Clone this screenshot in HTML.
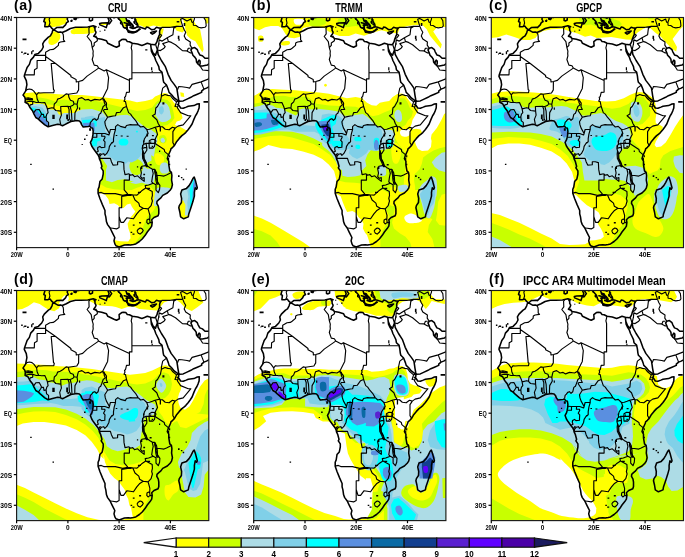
<!DOCTYPE html><html><head><meta charset="utf-8"><title>Precipitation climatology</title><style>html,body{margin:0;padding:0;background:#fff}svg{display:block}text{font-family:"Liberation Sans",sans-serif;fill:#000}.ax{font-size:8px;font-weight:bold}.ti{font-size:11.9px;font-weight:bold}.lab{font-size:14.2px;font-weight:bold;letter-spacing:0.5px}.cb{font-size:9.8px;font-weight:bold}</style></head><body>
<svg width="685" height="557" viewBox="0 0 685 557">
<rect width="685" height="557" fill="#fff"/>
<defs>
<clipPath id="cfa"><rect x="16.6" y="17.5" width="192.2" height="230.1"/></clipPath>
<clipPath id="cfb"><rect x="253.7" y="17.5" width="192.2" height="230.1"/></clipPath>
<clipPath id="cfc"><rect x="491.3" y="17.5" width="192.2" height="230.1"/></clipPath>
<clipPath id="cfd"><rect x="16.6" y="290.5" width="192.2" height="230.1"/></clipPath>
<clipPath id="cfe"><rect x="253.7" y="290.5" width="192.2" height="230.1"/></clipPath>
<clipPath id="cff"><rect x="491.3" y="290.5" width="192.2" height="230.1"/></clipPath>
<clipPath id="land"><path d="M52.7 30.4L54.3 30.1L57.9 32.2L60.4 31.9L62.2 32.5L66.3 30.7L70.4 28.5L75.5 27.3L80.9 27.3L87.8 27.0L93.2 25.8L96.0 26.7L94.2 27.3L95.0 28.5L95.0 30.4L96.0 32.2L95.5 33.8L93.7 36.2L96.0 37.1L97.3 38.4L101.7 39.3L106.5 40.8L107.8 43.3L110.4 44.5L114.0 46.3L116.5 47.3L119.4 45.7L119.1 41.7L121.7 39.6L123.5 39.3L125.8 39.6L127.3 41.4L129.4 41.7L132.4 43.3L137.6 43.9L141.9 45.4L144.5 44.5L147.3 43.3L150.6 44.2L151.1 48.2L151.4 51.2L152.9 54.3L154.5 56.8L155.8 60.5L157.3 63.5L158.8 66.6L159.3 69.7L161.9 72.1L162.7 75.8L163.2 80.1L163.7 82.2L166.5 85.0L168.3 89.6L169.1 92.4L171.6 94.8L174.2 97.9L177.5 100.3L178.8 101.9L178.6 104.0L177.3 104.6L178.8 105.2L180.6 108.0L183.2 108.3L186.2 107.1L188.3 106.2L193.9 105.6L197.3 104.0L199.3 103.7L199.1 108.0L198.0 111.1L196.8 113.8L195.5 115.7L193.9 119.4L192.1 124.0L190.1 127.0L188.3 129.5L185.7 132.6L183.9 134.1L181.9 135.6L179.3 138.4L176.8 141.4L174.5 145.4L172.7 147.3L170.9 148.8L170.6 150.3L169.6 152.5L168.1 155.9L167.3 158.6L168.8 161.1L168.8 164.8L169.3 167.8L169.8 170.9L171.4 172.4L171.9 175.5L171.6 180.1L172.4 184.7L171.6 188.1L170.1 190.2L167.3 193.0L162.7 195.4L160.9 197.9L158.8 199.7L157.0 201.3L156.8 203.4L158.3 206.2L158.8 209.2L158.8 213.5L158.1 215.7L154.0 217.5L151.7 219.7L152.2 222.4L151.7 226.1L150.1 228.6L147.3 232.0L145.2 235.3L142.2 239.0L139.4 241.5L135.8 243.9L133.5 244.5L130.6 245.1L128.1 244.8L124.5 245.1L119.1 247.0L116.0 245.8L115.0 244.2L114.0 240.9L114.8 237.5L112.2 232.3L110.1 228.0L107.6 224.6L106.5 221.8L105.8 216.9L105.0 213.9L105.0 210.5L102.4 204.6L99.9 198.5L98.1 193.3L98.1 189.3L99.1 186.9L99.9 181.6L102.2 178.9L103.2 174.0L103.2 170.9L101.2 167.8L101.9 166.3L100.7 161.7L99.4 158.9L99.1 157.1L98.1 154.9L96.0 152.2L93.5 148.8L91.7 146.0L90.4 142.4L91.9 139.6L92.5 137.2L93.0 134.4L93.0 133.2L93.2 131.3L92.7 128.3L90.9 127.6L89.6 126.1L88.4 126.4L85.8 126.7L83.2 127.0L81.7 124.9L80.7 122.4L79.4 120.9L76.6 120.6L74.0 120.9L70.9 121.5L67.3 123.3L64.8 124.6L62.5 125.8L59.9 124.6L57.6 124.3L52.5 125.5L48.1 126.7L44.8 124.9L40.2 120.9L38.4 119.1L35.8 117.5L34.0 114.1L32.7 111.1L30.7 108.6L29.4 106.5L27.9 103.7L25.1 102.2L25.3 99.1L24.8 97.3L23.0 95.1L25.6 91.1L26.9 84.7L26.3 80.7L24.3 76.4L24.5 74.9L25.6 71.8L27.1 67.5L29.4 64.4L30.7 60.1L33.5 57.1L34.8 54.6L38.4 53.4L41.7 50.0L43.3 47.0L42.7 43.9L44.3 41.1L48.4 37.1L50.4 35.9L52.0 32.8L52.7 30.4ZM194.2 177.0L195.7 181.6L197.3 187.8L196.5 189.3L195.2 187.8L194.4 192.4L194.4 196.1L192.9 201.6L190.9 207.7L188.8 213.9L188.3 216.9L183.7 218.8L180.6 216.9L179.8 212.0L178.8 207.7L179.3 205.6L181.4 202.5L181.6 198.5L180.6 193.9L181.9 189.9L186.5 188.4L189.1 185.6L190.9 182.6L192.9 178.6L194.2 177.0ZM150.6 44.2L154.5 44.8L155.8 43.9L157.0 41.7L157.5 39.6L158.8 36.2L159.6 34.7L159.6 31.3L160.6 27.9L158.8 27.9L156.5 27.3L154.5 29.2L151.9 29.8L148.6 27.6L146.5 27.0L145.5 28.9L142.4 27.9L140.4 27.3L138.1 26.7L137.6 24.2L136.5 22.4L135.5 20.6L135.0 19.0L135.0 17.5L135.0 12.9L211.4 12.9L211.4 58.0L208.8 58.3L205.0 58.3L202.4 55.8L199.8 54.9L198.0 51.6L197.3 49.7L194.7 47.6L192.1 48.2L190.9 50.0L192.1 52.8L192.9 55.2L195.0 57.4L196.2 59.2L196.5 62.0L198.0 64.1L198.0 62.0L199.1 60.1L200.1 61.1L200.1 63.8L199.3 65.1L200.1 66.0L202.4 66.0L207.3 65.1L211.4 61.7L211.4 85.6L208.8 86.8L206.5 88.1L203.9 89.1L201.6 91.1L201.6 92.4L197.3 94.2L193.7 95.7L190.9 97.3L187.0 99.1L183.2 100.9L179.3 101.3L178.6 99.4L177.8 94.8L177.5 92.7L176.8 88.1L174.2 84.4L171.1 80.4L168.1 74.3L166.5 69.7L165.2 66.3L161.4 60.5L158.1 54.3L157.5 49.7L156.3 52.8L155.5 55.2L152.9 52.8L151.7 49.7L151.1 48.2ZM45.0 12.9L45.0 17.5L43.8 21.5L45.3 22.4L44.8 26.7L47.6 26.7L50.2 26.1L51.7 28.2L53.5 29.8L54.3 29.5L56.6 27.6L61.7 27.3L62.7 27.6L65.5 24.9L66.6 22.7L68.4 21.5L67.1 19.0L67.9 17.5L69.9 12.9ZM74.0 18.7L75.8 17.8L76.6 18.4L75.8 19.6L74.3 19.3ZM70.9 20.9L72.0 20.3L71.7 21.2ZM89.4 12.9L89.4 20.6L90.9 20.9L92.5 20.0L92.7 12.9ZM99.6 23.6L101.9 23.0L107.8 22.7L106.5 26.7L106.3 27.6L103.7 26.4L99.9 24.9ZM107.8 12.9L107.8 17.5L109.1 20.6L108.1 23.6L109.1 23.9L110.4 22.4L111.7 20.6L110.1 18.4L111.4 16.0L114.0 17.8L115.3 17.2L114.0 12.9ZM117.6 12.9L117.6 17.5L120.9 21.2L121.9 22.7L122.4 24.6L123.5 27.3L125.3 28.2L126.3 27.3L127.3 28.5L127.1 25.8L129.4 24.6L129.4 23.0L126.8 20.9L126.5 19.6L125.8 17.5L128.1 16.6L129.4 17.5L130.6 12.9ZM128.1 31.3L130.6 31.6L135.3 32.2L131.9 32.8L128.3 32.2ZM150.6 32.8L152.4 31.9L156.5 31.0L154.7 32.8L152.4 34.1Z"/></clipPath>
</defs>
<g clip-path="url(#cfa)">
<g clip-path="url(#land)"><path d="M19.0 93.4L23.7 93.2L35.4 92.2L47.0 93.2L58.7 94.3L70.4 94.9L82.1 94.9L92.0 96.1L130.0 100.5L137.0 102.3L145.2 101.1L152.2 99.3L155.1 96.4L159.2 94.7L163.9 92.9L167.4 93.5L170.3 97.0L173.2 101.7L176.1 105.2L179.1 108.7L181.4 113.4L182.6 118.0L180.2 120.4L176.7 121.5L175.0 125.0L181.4 127.4L186.1 130.3L195.4 128.5L215.0 130.0L215.0 250.0L10.0 250.0L10.0 93.0Z" fill="#ffff00"/><path d="M92.0 192.8L99.0 192.8L104.9 194.5L108.4 199.2L109.5 203.9L114.2 203.3L117.7 205.0L120.0 207.4L123.5 208.0L127.0 204.5L131.7 203.3L135.2 205.0L136.4 209.7L134.1 213.2L131.1 216.7L129.4 220.2L127.6 223.7L128.4 228.4L130.0 233.1L130.5 238.3L128.2 241.5L120.0 241.2L114.2 240.1L92.0 240.1Z" fill="#ffffff"/><path d="M44.0 17.1L67.4 17.1L65.6 23.4L59.3 26.0L53.9 26.9L46.7 26.9L44.0 22.5Z" fill="#ffff00"/><path d="M52.1 31.4C53.7 30.8 57.9 32.2 59.3 33.2C60.6 34.3 60.5 36.2 60.2 37.7C59.9 39.2 58.8 41.0 57.5 42.2C56.1 43.4 53.6 44.8 52.1 44.9C50.6 45.1 48.9 44.5 48.5 43.1C48.1 41.8 48.8 38.8 49.4 36.8C50.0 34.9 50.4 32.0 52.1 31.4Z" fill="#ffff00"/><path d="M71.0 30.5C71.9 29.5 74.7 28.4 77.2 27.8C79.8 27.2 83.5 27.1 86.2 26.9C88.9 26.8 92.1 26.0 93.4 26.9C94.8 27.8 95.5 31.2 94.3 32.3C93.1 33.5 89.1 33.5 86.2 33.8C83.4 34.1 79.6 34.1 77.2 34.1C74.8 34.1 72.9 34.4 71.9 33.8C70.8 33.2 70.1 31.5 71.0 30.5Z" fill="#ffff00"/><path d="M100.0 19.8L107.2 19.8L107.2 25.1L100.0 25.1Z" fill="#ffff00"/><path d="M118.3 17.3L181.4 17.3L181.4 24.8L174.4 27.2L165.0 27.2L159.2 26.6L153.4 25.4L145.2 27.8L140.5 25.4L137.0 26.0L132.3 28.4L125.3 27.2L118.3 23.7Z" fill="#ffff00"/><path d="M119.5 17.3L125.3 17.3L126.5 21.3L123.0 24.8L118.9 22.5Z" fill="#c8ff00"/><path d="M159.8 28.4L163.9 28.4L162.1 35.4L159.2 40.0L158.0 37.7Z" fill="#ffff00"/><path d="M174.4 27.8L181.4 25.4L184.9 29.5L182.6 32.4L176.7 30.7Z" fill="#ffff00"/><path d="M182.6 17.3L191.9 17.3L195.4 23.7L200.1 29.5L202.4 41.2L203.6 49.4L202.4 52.3L198.9 47.0L195.4 41.2L190.7 38.9L187.2 35.4L185.5 29.5L184.3 23.7Z" fill="#ffff00"/><path d="M204.7 17.3L210.6 17.3L210.6 22.5L205.9 23.7Z" fill="#ffff00"/><path d="M180.2 92.3L183.7 92.9L184.3 97.0L180.8 96.4Z" fill="#ffff00"/><path d="M24.8 100.8L35.4 100.2L38.3 97.3L47.0 98.8L51.7 100.2L55.2 101.4L58.7 100.2L64.6 99.6L72.7 101.4L77.4 100.2L82.1 99.6L92.0 99.9L130.0 109.3L137.0 111.0L145.2 109.9L152.2 107.5L155.1 103.4L157.4 101.1L161.5 98.8L167.4 99.9L170.3 102.8L172.6 108.7L173.8 113.4L174.4 118.0L172.0 121.5L167.4 125.0L161.5 126.2L156.9 126.8L156.3 128.5L158.0 134.4L157.4 139.1L156.9 144.9L159.2 148.4L165.0 153.1L168.5 153.5L170.9 161.7L170.9 173.4L173.2 180.4L172.0 188.5L168.5 196.7L162.7 201.4L159.2 204.0L158.0 213.4L153.4 219.2L152.2 225.0L149.9 234.4L141.7 242.6L134.7 247.2L130.0 248.4L141.1 235.4L142.2 230.7L143.4 226.1L145.7 220.2L148.6 214.4L150.4 208.5L145.7 208.5L143.4 199.2L143.4 192.2L141.1 187.5L137.6 187.5L131.7 189.9L123.5 189.9L114.2 189.3L106.0 187.5L100.2 184.0L96.7 177.0L92.0 170.0L85.0 156.7L85.0 110.0Z" fill="#c8ff00"/><path d="M154.5 154.7C155.1 153.1 157.6 153.1 159.2 153.5C160.8 153.9 163.2 155.5 163.9 157.0C164.5 158.6 164.1 161.5 163.3 162.8C162.5 164.2 160.5 165.2 159.2 165.2C157.9 165.2 156.5 164.6 155.7 162.8C154.9 161.1 153.9 156.2 154.5 154.7Z" fill="#ffff00"/><path d="M137.0 188.5C139.5 187.0 142.7 185.0 145.2 185.0C147.7 185.0 150.2 186.6 152.2 188.5C154.1 190.5 156.3 193.8 156.9 196.7C157.4 199.6 156.7 203.3 155.7 206.1C154.7 208.8 153.4 211.6 151.0 213.1C148.7 214.6 144.4 215.4 141.7 215.1C139.0 214.7 136.6 212.8 134.7 210.7C132.7 208.6 130.8 205.3 130.0 202.6C129.2 199.8 128.8 196.7 130.0 194.4C131.2 192.0 134.5 190.1 137.0 188.5Z" fill="#ffff00"/><path d="M179.1 202.6L182.6 200.2L184.9 204.9L185.5 210.7L183.7 215.4L179.1 215.4Z" fill="#ffff00"/><path d="M159.2 136.7C159.8 135.5 162.6 134.6 163.9 135.0C165.1 135.4 166.6 137.7 166.8 139.1C167.0 140.4 166.1 142.6 165.0 143.1C164.0 143.7 161.3 143.6 160.4 142.6C159.4 141.5 158.6 138.0 159.2 136.7Z" fill="#c8ff00"/><path d="M26.0 102.5L29.5 104.3L35.4 103.7L42.4 103.7L45.3 105.4L47.0 108.4L50.5 109.5L56.4 110.1L58.7 114.2L61.1 115.4L63.4 113.0L75.1 113.0L77.4 111.3L82.1 109.5L92.0 108.9L102.5 112.3L106.6 117.0L111.9 116.4L120.0 115.3L127.0 114.7L131.7 116.4L136.4 119.9L141.1 124.0L145.7 127.5L150.4 129.3L156.2 133.4L157.4 140.4L155.1 148.5L153.9 156.7L142.8 150.0L151.0 152.3L151.6 160.5L147.5 162.8L144.0 166.4L147.5 168.7L153.4 168.7L155.1 175.7L153.4 183.9L147.5 184.5L141.7 182.7L135.8 183.9L130.0 182.7L153.9 173.5L150.4 177.0L145.7 180.5L141.1 182.3L134.1 181.7L129.4 180.5L124.7 179.3L117.7 179.9L111.9 182.3L106.0 180.5L106.0 170.0L107.2 166.1L102.5 159.1L100.2 156.7L85.0 156.7L92.0 131.7L47.0 131.7L23.7 114.2Z" fill="#addce6"/><path d="M131.7 160.2C132.9 159.1 134.8 158.9 136.4 159.1C137.9 159.2 139.9 160.2 141.1 161.4C142.2 162.6 143.4 164.1 143.4 166.1C143.4 168.0 142.2 171.6 141.1 173.1C139.9 174.6 137.9 175.1 136.4 175.1C134.8 175.1 132.9 174.6 131.7 173.1C130.5 171.6 129.4 168.2 129.4 166.1C129.4 163.9 130.5 161.4 131.7 160.2Z" fill="#c8ff00"/><path d="M157.4 104.0C158.4 103.1 160.1 102.4 161.5 102.3C163.0 102.2 164.9 102.6 166.2 103.4C167.5 104.3 168.4 105.9 169.1 107.5C169.8 109.2 170.0 111.6 170.3 113.4C170.6 115.1 171.4 116.8 170.9 118.0C170.4 119.3 168.5 120.3 167.4 120.9C166.2 121.6 165.0 122.0 163.9 122.1C162.7 122.2 161.4 122.2 160.4 121.5C159.3 120.9 158.3 119.4 157.4 118.0C156.6 116.7 155.4 115.1 155.1 113.4C154.8 111.6 155.3 109.1 155.7 107.5C156.1 106.0 156.5 104.9 157.4 104.0Z" fill="#addce6"/><path d="M160.9 164.0C162.0 162.8 164.8 162.3 166.2 162.8C167.6 163.4 168.8 165.9 169.1 167.5C169.4 169.2 169.0 171.8 168.0 172.8C166.9 173.7 164.1 173.8 162.7 173.4C161.3 172.9 160.1 171.4 159.8 169.9C159.5 168.3 159.9 165.2 160.9 164.0Z" fill="#addce6"/><path d="M156.9 188.5C158.6 187.0 162.8 187.4 165.0 187.4C167.3 187.4 169.3 187.4 170.3 188.5C171.3 189.7 171.4 192.6 170.9 194.4C170.4 196.1 168.9 197.7 167.4 199.1C165.8 200.4 163.3 201.4 161.5 202.6C159.8 203.7 158.1 205.7 156.9 206.1C155.6 206.4 154.3 206.4 153.9 204.9C153.6 203.3 154.0 199.4 154.5 196.7C155.0 194.0 155.1 190.1 156.9 188.5Z" fill="#addce6"/><path d="M180.2 190.9L194.2 175.7L200.1 180.4L198.9 188.5L193.6 215.4L184.9 215.4L185.5 204.9L183.1 200.2L179.6 201.4Z" fill="#addce6"/><path d="M160.6 139.1C160.9 138.4 162.5 137.7 163.3 137.9C164.0 138.1 164.9 139.4 165.0 140.2C165.1 141.0 164.5 142.3 163.9 142.6C163.2 142.8 161.8 142.6 161.3 142.0C160.8 141.4 160.3 139.7 160.6 139.1Z" fill="#addce6"/><path d="M30.7 106.6L35.4 106.0L42.4 107.8L45.9 111.9L47.0 116.5L48.2 123.5L41.2 123.5L29.5 111.9Z" fill="#80d0e8"/><path d="M80.9 117.7L92.0 117.1L92.0 125.9L82.1 125.9Z" fill="#80d0e8"/><path d="M85.0 117.0L92.0 115.8L97.8 118.2L104.9 117.0L105.4 122.8L104.9 131.0L108.4 133.4L112.4 139.2L114.2 133.4L114.8 128.7L115.9 125.2L120.0 126.4L124.7 127.5L134.1 124.6L139.9 125.2L145.7 128.7L148.1 133.4L144.6 139.2L143.4 145.0L142.2 150.9L139.9 156.7L136.4 160.2L131.7 162.6L128.2 161.4L125.9 163.7L120.0 161.4L114.2 160.2L110.1 156.7L102.5 153.2L99.0 149.7L92.0 148.5L85.0 145.0Z" fill="#80d0e8"/><path d="M187.2 189.7L194.2 176.9L200.1 180.4L198.9 188.5L193.6 215.4L188.4 215.4L187.2 202.6L188.4 196.7Z" fill="#80d0e8"/><path d="M159.2 107.5C159.8 106.5 161.9 105.8 162.7 106.4C163.5 106.9 164.1 109.7 163.9 111.0C163.7 112.4 162.3 114.3 161.5 114.5C160.8 114.7 159.6 113.4 159.2 112.2C158.8 111.0 158.6 108.5 159.2 107.5Z" fill="#80d0e8"/><path d="M31.3 107.2L35.4 108.4L38.9 110.1L43.5 113.0L45.9 115.9L47.0 120.0L42.4 120.0L30.7 109.5Z" fill="#00ffff"/><path d="M82.1 120.0L92.0 119.5L92.0 125.9L83.2 125.9Z" fill="#00ffff"/><path d="M92.0 139.2L96.7 138.6L100.2 138.0L100.8 140.4L97.3 141.5L96.7 146.2L92.0 146.2Z" fill="#00ffff"/><path d="M93.2 120.5L96.7 120.5L96.7 126.4L93.2 126.4Z" fill="#00ffff"/><path d="M118.6 142.1C118.6 141.2 119.2 140.1 120.0 139.5C120.9 139.0 122.4 138.6 123.5 138.6C124.7 138.6 126.2 139.0 127.0 139.5C127.9 140.1 128.4 141.2 128.4 142.1C128.4 143.0 127.9 144.2 127.0 144.8C126.2 145.4 124.7 145.6 123.5 145.6C122.4 145.6 120.9 145.4 120.0 144.8C119.2 144.2 118.6 143.0 118.6 142.1Z" fill="#00ffff"/><path d="M135.8 131.0L137.6 130.8L138.1 132.2L136.4 132.5Z" fill="#00ffff"/><path d="M189.6 189.7L194.2 178.0L198.3 180.9L197.5 188.5L192.5 215.4L190.1 215.4L190.1 196.7Z" fill="#00ffff"/><path d="M34.2 110.1L37.1 110.7L41.2 115.4L45.9 120.0L49.4 124.7L47.0 127.0L40.0 122.4L33.0 114.2Z" fill="#5a8fe0"/><path d="M83.2 123.0L92.0 122.4L92.0 127.0L83.2 126.5Z" fill="#5a8fe0"/><path d="M89.7 122.8L94.3 122.8L94.9 131.0L89.7 131.0Z" fill="#5a8fe0"/><path d="M193.1 185.0L194.8 177.4L200.1 180.4L198.9 188.5L194.2 208.4L192.5 215.4L191.3 215.4L192.5 196.7Z" fill="#5a8fe0"/></g>
<path d="M52.7 30.4L54.3 30.1L57.9 32.2L60.4 31.9L62.2 32.5L66.3 30.7L70.4 28.5L75.5 27.3L80.9 27.3L87.8 27.0L93.2 25.8L96.0 26.7L94.2 27.3L95.0 28.5L95.0 30.4L96.0 32.2L95.5 33.8L93.7 36.2L96.0 37.1L97.3 38.4L101.7 39.3L106.5 40.8L107.8 43.3L110.4 44.5L114.0 46.3L116.5 47.3L119.4 45.7L119.1 41.7L121.7 39.6L123.5 39.3L125.8 39.6L127.3 41.4L129.4 41.7L132.4 43.3L137.6 43.9L141.9 45.4L144.5 44.5L147.3 43.3L150.6 44.2L151.1 48.2L151.4 51.2L152.9 54.3L154.5 56.8L155.8 60.5L157.3 63.5L158.8 66.6L159.3 69.7L161.9 72.1L162.7 75.8L163.2 80.1L163.7 82.2L166.5 85.0L168.3 89.6L169.1 92.4L171.6 94.8L174.2 97.9L177.5 100.3L178.8 101.9L178.6 104.0L177.3 104.6L178.8 105.2L180.6 108.0L183.2 108.3L186.2 107.1L188.3 106.2L193.9 105.6L197.3 104.0L199.3 103.7L199.1 108.0L198.0 111.1L196.8 113.8L195.5 115.7L193.9 119.4L192.1 124.0L190.1 127.0L188.3 129.5L185.7 132.6L183.9 134.1L181.9 135.6L179.3 138.4L176.8 141.4L174.5 145.4L172.7 147.3L170.9 148.8L170.6 150.3L169.6 152.5L168.1 155.9L167.3 158.6L168.8 161.1L168.8 164.8L169.3 167.8L169.8 170.9L171.4 172.4L171.9 175.5L171.6 180.1L172.4 184.7L171.6 188.1L170.1 190.2L167.3 193.0L162.7 195.4L160.9 197.9L158.8 199.7L157.0 201.3L156.8 203.4L158.3 206.2L158.8 209.2L158.8 213.5L158.1 215.7L154.0 217.5L151.7 219.7L152.2 222.4L151.7 226.1L150.1 228.6L147.3 232.0L145.2 235.3L142.2 239.0L139.4 241.5L135.8 243.9L133.5 244.5L130.6 245.1L128.1 244.8L124.5 245.1L119.1 247.0L116.0 245.8L115.0 244.2L114.0 240.9L114.8 237.5L112.2 232.3L110.1 228.0L107.6 224.6L106.5 221.8L105.8 216.9L105.0 213.9L105.0 210.5L102.4 204.6L99.9 198.5L98.1 193.3L98.1 189.3L99.1 186.9L99.9 181.6L102.2 178.9L103.2 174.0L103.2 170.9L101.2 167.8L101.9 166.3L100.7 161.7L99.4 158.9L99.1 157.1L98.1 154.9L96.0 152.2L93.5 148.8L91.7 146.0L90.4 142.4L91.9 139.6L92.5 137.2L93.0 134.4L93.0 133.2L93.2 131.3L92.7 128.3L90.9 127.6L89.6 126.1L88.4 126.4L85.8 126.7L83.2 127.0L81.7 124.9L80.7 122.4L79.4 120.9L76.6 120.6L74.0 120.9L70.9 121.5L67.3 123.3L64.8 124.6L62.5 125.8L59.9 124.6L57.6 124.3L52.5 125.5L48.1 126.7L44.8 124.9L40.2 120.9L38.4 119.1L35.8 117.5L34.0 114.1L32.7 111.1L30.7 108.6L29.4 106.5L27.9 103.7L25.1 102.2L25.3 99.1L24.8 97.3L23.0 95.1L25.6 91.1L26.9 84.7L26.3 80.7L24.3 76.4L24.5 74.9L25.6 71.8L27.1 67.5L29.4 64.4L30.7 60.1L33.5 57.1L34.8 54.6L38.4 53.4L41.7 50.0L43.3 47.0L42.7 43.9L44.3 41.1L48.4 37.1L50.4 35.9L52.0 32.8L52.7 30.4ZM194.2 177.0L195.7 181.6L197.3 187.8L196.5 189.3L195.2 187.8L194.4 192.4L194.4 196.1L192.9 201.6L190.9 207.7L188.8 213.9L188.3 216.9L183.7 218.8L180.6 216.9L179.8 212.0L178.8 207.7L179.3 205.6L181.4 202.5L181.6 198.5L180.6 193.9L181.9 189.9L186.5 188.4L189.1 185.6L190.9 182.6L192.9 178.6L194.2 177.0ZM150.6 44.2L154.5 44.8L155.8 43.9L157.0 41.7L157.5 39.6L158.8 36.2L159.6 34.7L159.6 31.3L160.6 27.9L158.8 27.9L156.5 27.3L154.5 29.2L151.9 29.8L148.6 27.6L146.5 27.0L145.5 28.9L142.4 27.9L140.4 27.3L138.1 26.7L137.6 24.2L136.5 22.4L135.5 20.6L135.0 19.0L135.0 17.5L135.0 12.9L211.4 12.9L211.4 58.0L208.8 58.3L205.0 58.3L202.4 55.8L199.8 54.9L198.0 51.6L197.3 49.7L194.7 47.6L192.1 48.2L190.9 50.0L192.1 52.8L192.9 55.2L195.0 57.4L196.2 59.2L196.5 62.0L198.0 64.1L198.0 62.0L199.1 60.1L200.1 61.1L200.1 63.8L199.3 65.1L200.1 66.0L202.4 66.0L207.3 65.1L211.4 61.7L211.4 85.6L208.8 86.8L206.5 88.1L203.9 89.1L201.6 91.1L201.6 92.4L197.3 94.2L193.7 95.7L190.9 97.3L187.0 99.1L183.2 100.9L179.3 101.3L178.6 99.4L177.8 94.8L177.5 92.7L176.8 88.1L174.2 84.4L171.1 80.4L168.1 74.3L166.5 69.7L165.2 66.3L161.4 60.5L158.1 54.3L157.5 49.7L156.3 52.8L155.5 55.2L152.9 52.8L151.7 49.7L151.1 48.2ZM45.0 12.9L45.0 17.5L43.8 21.5L45.3 22.4L44.8 26.7L47.6 26.7L50.2 26.1L51.7 28.2L53.5 29.8L54.3 29.5L56.6 27.6L61.7 27.3L62.7 27.6L65.5 24.9L66.6 22.7L68.4 21.5L67.1 19.0L67.9 17.5L69.9 12.9ZM74.0 18.7L75.8 17.8L76.6 18.4L75.8 19.6L74.3 19.3ZM70.9 20.9L72.0 20.3L71.7 21.2ZM89.4 12.9L89.4 20.6L90.9 20.9L92.5 20.0L92.7 12.9ZM99.6 23.6L101.9 23.0L107.8 22.7L106.5 26.7L106.3 27.6L103.7 26.4L99.9 24.9ZM107.8 12.9L107.8 17.5L109.1 20.6L108.1 23.6L109.1 23.9L110.4 22.4L111.7 20.6L110.1 18.4L111.4 16.0L114.0 17.8L115.3 17.2L114.0 12.9ZM117.6 12.9L117.6 17.5L120.9 21.2L121.9 22.7L122.4 24.6L123.5 27.3L125.3 28.2L126.3 27.3L127.3 28.5L127.1 25.8L129.4 24.6L129.4 23.0L126.8 20.9L126.5 19.6L125.8 17.5L128.1 16.6L129.4 17.5L130.6 12.9ZM128.1 31.3L130.6 31.6L135.3 32.2L131.9 32.8L128.3 32.2ZM150.6 32.8L152.4 31.9L156.5 31.0L154.7 32.8L152.4 34.1Z" fill="none" stroke="#000" stroke-width="1.55" stroke-linejoin="round"/>
<path d="M194.7 12.9L194.4 19.0L193.2 22.4L193.4 25.2L196.0 25.5L198.5 27.3L201.1 27.9L205.0 27.3L206.2 25.8L205.7 20.6L203.7 17.5L203.2 12.9ZM149.3 140.8L151.9 139.3L155.0 139.6L156.0 141.1L155.0 143.3L154.5 146.4L152.9 148.2L151.4 147.9L149.3 148.2L149.1 144.8ZM142.9 150.7L144.0 154.0L144.2 158.6L146.3 162.6L147.6 166.6L146.3 166.6L144.7 162.6L142.7 158.6L142.4 154.0ZM155.0 169.7L156.5 172.4L157.3 177.0L157.5 181.6L158.1 184.1L156.8 184.1L155.8 180.1L155.5 175.5L154.7 171.8Z" fill="none" stroke="#000" stroke-width="1.1" stroke-linejoin="round"/>
<path d="M62.2 32.5L63.2 34.4L63.5 36.8L63.5 39.9L64.8 41.4L60.4 42.0L58.6 43.0L58.4 45.4L55.0 48.2L53.2 49.4L49.9 49.7L45.6 52.2L45.6 56.5M45.6 55.3L34.0 55.3M45.6 56.5L45.6 60.5L37.1 60.5L37.1 68.3L34.5 69.7L34.3 74.8L24.3 74.8M45.6 56.5L55.6 63.5L70.9 75.5L70.9 76.7L76.1 79.5L76.3 81.9L78.7 81.5L82.7 80.4L87.1 76.1L98.6 68.1M55.6 63.5L51.2 63.5L53.5 89.6L54.3 90.2L53.8 92.7L43.8 92.7L40.4 93.0L38.4 92.7L36.6 94.8M25.6 90.8L26.9 89.6L29.4 89.0L32.0 89.6L33.8 91.1L36.6 94.8L37.1 98.8L38.6 102.2L36.3 102.5L32.7 101.3L29.4 101.3L25.1 102.3M24.8 98.5L28.1 97.9L32.5 98.8L32.5 99.7L28.1 99.4L25.1 100.0M32.7 101.3L32.7 104.3L30.2 104.9L29.4 106.6M33.8 112.6L35.8 109.8L39.2 109.5L40.7 112.3L41.5 114.1L40.7 115.7L38.4 119.1M41.5 114.1L43.5 114.4L44.0 117.5L46.1 116.9L46.6 120.9L48.6 122.4L48.6 126.9M46.1 116.9L46.8 114.1L48.1 112.6L47.4 108.9L46.6 106.5L44.8 102.5L41.7 102.8L38.6 102.2M47.4 108.9L52.0 107.7L53.8 108.3L55.8 110.5L60.9 111.1L61.4 115.1L59.7 119.4L60.7 124.6M60.9 111.1L60.7 106.5L67.9 106.2L69.1 109.5L69.1 114.1L69.4 118.7L70.9 121.5M67.9 106.2L70.2 106.5L71.4 111.1L72.0 121.2M70.2 106.5L73.0 105.2L74.0 103.7L77.1 104.3L77.6 108.0L75.0 112.6L74.8 117.2L74.8 120.6M53.8 108.3L54.3 104.0L56.6 101.9L57.6 99.1L60.2 98.2L62.7 96.7L66.1 93.9L68.4 94.2L68.9 97.3L70.4 100.3L73.2 101.3L74.0 103.7M68.4 94.2L76.8 93.0L78.6 89.9L78.7 81.5M98.6 68.1L97.3 65.7L94.2 65.1L92.2 59.5L93.2 55.8L93.0 53.4L93.2 51.2L92.2 47.6L94.2 45.4L94.2 43.0L97.3 40.8L97.3 38.5M92.2 47.6L91.2 41.7L87.1 36.5L89.1 33.8L88.9 28.2L89.9 27.0M98.6 68.1L104.2 70.9L106.3 69.7L129.4 80.4L129.4 78.9L131.9 78.9L131.9 72.7L131.9 50.6L131.2 47.9L132.3 43.1M131.9 72.7L162.4 72.7M106.3 69.7L108.6 77.6L107.6 88.4L102.7 98.2M77.1 104.3L77.8 100.9L78.4 98.8L81.9 97.6L85.3 100.0L88.4 99.4L90.9 100.9L94.8 99.4L99.9 100.0L102.7 98.2L104.0 100.0M104.0 100.0L104.2 102.2L105.3 104.9L103.2 106.5L101.7 110.8L100.7 113.2L99.1 114.4L98.1 118.7L96.3 120.3L94.8 118.7L93.0 119.4L91.7 121.2L90.4 122.4L89.9 125.5M104.0 100.0L105.0 100.9L106.5 103.1L106.3 106.8L107.6 109.5L104.2 109.5L103.5 110.8L106.8 115.7L107.6 117.2L104.8 121.8L105.3 124.9L106.3 127.9L109.4 133.5L108.9 135.0L105.0 133.5L101.9 133.5L96.8 133.5L93.0 133.2M96.8 133.5L96.8 137.2L93.0 137.2M101.9 133.5L101.7 136.2L104.8 136.2L105.0 137.5L103.5 140.2L105.0 141.8L104.8 145.7L104.8 147.3L101.2 147.6L99.9 146.4L97.8 147.6L97.6 149.4L98.3 151.3L96.3 152.2M98.6 155.6L100.1 153.7L101.4 154.3L99.9 156.2L99.9 157.7L99.1 157.9M101.4 154.3L103.7 153.7L104.8 155.3L106.8 153.4L108.9 149.4L109.4 146.4L111.4 143.3L113.5 141.8L113.5 138.7L114.2 134.1L115.5 129.5M109.4 133.5L110.4 129.5L115.5 129.5L115.5 126.7L117.8 124.6L120.4 126.4L125.3 127.6L126.5 125.5L130.4 124.6L132.7 124.9L138.1 124.6M107.6 117.2L110.1 116.6L113.2 116.0L115.5 115.7L116.5 112.6L120.1 112.3L123.5 107.7L126.5 106.5L125.5 101.6L124.0 101.3L125.0 99.1L124.5 97.3L125.5 96.7L126.5 92.4L129.4 92.1L129.4 80.4M126.5 106.5L128.6 112.6L130.6 114.1L132.7 117.2L135.5 120.3L138.1 124.6L140.6 127.0L143.5 126.4L146.8 129.5L149.6 129.2L152.4 128.3L155.0 127.3L159.9 126.1M159.9 126.1L158.3 123.7L156.8 119.7L152.4 115.7L155.2 114.1L155.8 108.0L157.5 106.5L160.4 101.3L161.4 96.3L161.4 94.2L162.7 88.1L166.8 85.0M161.4 96.3L165.0 94.5L167.8 95.4L170.4 95.7L172.9 98.8L176.5 101.9L178.3 101.3M176.5 101.9L175.0 106.5L177.8 106.8L178.7 104.9M177.8 106.8L177.3 107.7L180.6 112.6L188.3 115.7L190.9 115.7L183.2 124.9L178.0 126.1L175.2 128.1L172.4 127.3L169.1 129.8L165.2 129.2L162.4 126.7L160.1 126.7L159.9 126.1M175.2 128.1L172.9 131.6L172.9 142.7L174.5 145.4M155.0 127.3L156.0 128.9L157.5 134.4L156.3 136.8L155.0 139.6L154.7 143.3L164.2 149.4L164.7 151.6L168.3 154.6M154.7 143.3L146.0 143.3L143.7 144.5L143.7 141.8L144.5 138.7L146.0 136.5L148.1 133.5L146.8 129.5M146.0 143.3L146.8 147.6L144.7 147.6L142.2 148.5L142.7 145.4L143.7 144.5M146.8 147.6L146.8 150.3L144.7 153.4L143.2 153.9L142.7 150.3L142.2 148.5M143.2 153.9L143.7 158.6L146.0 163.2L146.8 165.4L149.9 167.8L152.2 169.1L154.7 169.4L156.3 175.5L159.6 175.5L164.0 176.1L166.5 174.9L171.4 172.4M156.5 175.8L156.0 177.6L157.3 181.6L159.9 185.3L159.6 189.3L158.3 192.7L156.0 190.2L156.0 184.7L153.2 183.2L151.7 181.9L152.4 177.0L153.2 173.4L152.2 169.1M153.2 183.2L148.6 185.0L145.2 185.6L145.8 188.1M146.8 165.4L141.9 166.3L140.6 168.8L141.4 173.0L140.6 176.7L142.2 178.3L144.2 177.6L144.2 181.3L140.6 178.6L137.6 175.8L134.5 176.7L132.7 174.6L130.4 175.2L129.4 173.7M129.4 173.7L129.4 180.1L124.2 180.1L124.2 189.9L127.8 194.2M99.4 158.9L101.7 158.3L110.4 158.3L111.4 161.7L113.0 165.1L117.6 164.8L117.6 161.7L120.6 161.7L123.7 162.6L124.0 169.4L125.0 174.6L129.1 173.7M98.0 193.1L101.2 192.4L103.7 193.6L115.3 193.6L122.7 195.4L127.8 194.2L132.7 194.8M132.7 194.8L130.6 195.4L127.6 195.4L121.7 196.4L121.7 207.7L119.1 207.7L119.1 216.3L119.1 227.4L116.5 228.9L112.7 228.3L110.1 228.0M119.1 216.3L120.9 222.4L123.5 222.4L126.8 217.8L133.5 218.8L136.8 213.9L139.4 210.8L143.2 208.3L139.6 206.2L138.8 203.1L135.0 200.0L132.7 194.8M132.7 194.8L137.0 195.1L141.7 190.8L145.8 188.1L148.1 189.3L152.2 191.5L152.4 195.4L151.7 198.5L152.4 201.0L151.1 205.6L148.1 208.9L143.2 208.3M148.1 208.9L149.9 215.4L149.7 219.8L150.1 222.4L152.2 222.6M149.7 219.8L148.3 219.1L147.0 220.0L146.8 222.4L148.1 224.0L150.1 222.4M137.0 231.0L138.3 233.2L140.1 234.1L142.4 232.0L143.2 230.4L141.9 228.6L140.1 228.0L138.3 229.2L137.0 231.0M155.5 44.2L157.3 49.7M157.5 49.7L158.8 43.6L159.1 39.9L162.2 41.1L167.3 37.7L172.9 34.7L173.7 28.2L176.5 26.4L182.7 26.1L184.2 29.8L185.7 32.2L184.2 35.9L185.7 39.0L190.3 42.0L190.1 45.1L192.1 48.2M157.5 50.0L160.4 50.6L164.0 48.2L165.2 46.6L162.7 43.6L167.8 42.0L168.3 41.4L167.3 37.7M168.3 41.4L171.4 42.4L175.5 44.8L182.4 50.6L186.8 50.9L190.1 52.8L191.9 52.8M187.3 50.9L188.3 48.2L190.6 48.2M160.1 29.8L161.9 27.3L165.2 27.3L170.4 27.3L176.5 26.4M157.8 38.7L159.9 37.7L161.6 35.3L160.1 34.1M182.7 26.1L181.4 22.1L180.6 19.3L182.7 18.4L187.0 20.9L190.9 19.0L191.9 22.1L193.2 22.4M177.5 89.9L178.8 86.5L181.9 86.8L187.0 87.5L189.6 88.1L192.1 84.4L201.1 81.9L203.9 89.1M201.1 81.9L208.8 78.9L210.6 72.7L209.3 70.6L202.6 70.0L200.1 66.0M198.0 64.4L199.3 65.1M48.9 26.1L49.9 23.0L49.1 19.0L50.2 17.5L50.2 12.9" fill="none" stroke="#000" stroke-width="1.15" stroke-linejoin="round"/>
<path d="M126.8 28.9L128.3 31.0L130.6 32.1L133.2 32.4L135.3 32.1L137.3 31.0L139.6 29.2" fill="none" stroke="#000" stroke-width="2.0" stroke-linecap="round" stroke-linejoin="round"/>
<path d="M130.1 27.5L132.9 28.4L135.5 27.9L137.0 26.9" fill="none" stroke="#000" stroke-width="1.7" stroke-linecap="round" stroke-linejoin="round"/>
<path d="M127.8 20.6L129.6 22.1L130.9 23.6" fill="none" stroke="#000" stroke-width="2.2" stroke-linecap="round" stroke-linejoin="round"/>
<path d="M131.4 23.9L132.7 25.5L133.2 26.7" fill="none" stroke="#000" stroke-width="2.0" stroke-linecap="round" stroke-linejoin="round"/>
<path d="M129.4 24.6L130.4 25.8" fill="none" stroke="#000" stroke-width="1.8" stroke-linecap="round" stroke-linejoin="round"/>
<path d="M134.2 21.8L134.7 23.0" fill="none" stroke="#000" stroke-width="1.8" stroke-linecap="round" stroke-linejoin="round"/>
<path d="M136.0 24.2L137.0 24.6" fill="none" stroke="#000" stroke-width="1.8" stroke-linecap="round" stroke-linejoin="round"/>
<path d="M131.9 17.8L132.9 17.8" fill="none" stroke="#000" stroke-width="1.8" stroke-linecap="round" stroke-linejoin="round"/>
<path d="M130.6 17.5L131.2 15.7" fill="none" stroke="#000" stroke-width="1.6" stroke-linecap="round" stroke-linejoin="round"/>
<path d="M126.3 25.2L127.3 24.9L128.1 23.9" fill="none" stroke="#000" stroke-width="1.8" stroke-linecap="round" stroke-linejoin="round"/>
<path d="M124.2 22.7L126.5 23.3L127.3 23.6" fill="none" stroke="#000" stroke-width="1.6" stroke-linecap="round" stroke-linejoin="round"/>
<path d="M22.5 38.4h4.0v1.8h-4.0zM24.2 52.6h2.2v1.5h-2.2zM27.0 53.6h1.8v1.5h-1.8zM31.1 51.3h1.3v3.0h-1.3zM32.4 50.1h1.3v1.6h-1.3zM21.2 51.4h1.5v1.5h-1.5zM23.3 53.5h1.0v1.0h-1.0zM84.0 138.5h1.6v1.6h-1.6zM86.2 134.7h1.3v1.3h-1.3zM89.1 128.3h2.0v2.4h-2.0zM81.6 143.9h1.2v1.2h-1.2zM52.5 188.4h1.5v1.3h-1.5zM30.2 163.8h1.5v1.3h-1.5zM178.0 175.2h1.6v1.8h-1.6zM180.9 177.0h1.5v1.2h-1.5zM182.7 178.7h1.5v1.5h-1.5zM169.0 155.2h1.2v2.0h-1.2zM168.0 157.8h1.2v2.2h-1.2zM169.0 163.8h1.2v1.4h-1.2zM203.5 101.1h4.5v1.6h-4.5zM185.6 168.5h1.2v1.2h-1.2zM138.6 28.4h2.0v1.6h-2.0zM136.6 26.4h1.5v1.3h-1.5zM135.9 23.9h1.8v1.3h-1.8zM133.7 21.4h1.6v2.0h-1.6zM134.1 19.2h2.4v1.6h-2.4zM128.2 20.2h1.8v3.2h-1.8zM131.2 25.7h2.4v2.0h-2.4zM130.1 23.2h1.5v1.5h-1.5zM126.1 28.5h1.3v1.3h-1.3zM132.0 27.9h1.3v1.2h-1.3zM130.9 17.2h1.5v1.3h-1.5zM117.9 17.7h1.4v2.0h-1.4zM119.9 22.1h1.5v1.8h-1.5zM120.6 23.6h1.2v1.2h-1.2zM77.5 17.1h1.8v1.2h-1.8zM104.0 29.4h1.5v1.3h-1.5zM95.0 35.8h1.6v1.4h-1.6zM98.0 26.8h1.2v1.0h-1.2zM99.6 30.8h1.0v1.0h-1.0zM183.7 23.1h1.6v3.0h-1.6zM176.7 21.0h2.6v1.6h-2.6zM145.2 49.2h2.2v1.3h-2.2zM151.1 67.2h1.2v3.0h-1.2zM151.6 70.7h1.2v1.6h-1.2zM177.8 35.8h1.6v3.2h-1.6zM178.4 39.1h1.3v1.6h-1.3zM158.4 42.9h0.9v2.0h-0.9zM162.4 102.3h2.0v2.2h-2.0zM102.6 98.8h2.2v1.8h-2.2zM52.3 114.7h2.4v4.4h-2.4zM66.2 114.6h1.8v4.6h-1.8zM67.4 119.0h1.5v2.0h-1.5zM79.0 107.4h1.2v2.4h-1.2zM159.7 127.0h1.3v4.4h-1.3zM146.5 133.6h1.6v2.8h-1.6zM143.0 140.5h1.4v1.8h-1.4zM142.0 145.3h1.3v2.2h-1.3zM140.5 166.7h1.8v2.2h-1.8zM143.3 173.8h1.8v1.5h-1.8zM149.6 164.1h2.0v1.3h-2.0zM137.9 191.8h3.0v1.2h-3.0zM147.1 187.8h3.0v1.1h-3.0zM139.1 222.1h2.0v1.3h-2.0zM132.8 224.6h1.8v1.2h-1.8zM132.5 233.5h2.0v1.2h-2.0zM130.6 231.7h1.6v1.2h-1.6zM151.7 145.7h1.5v1.3h-1.5zM150.0 141.4h1.3v1.3h-1.3zM151.9 135.0h2.0v1.3h-2.0zM159.0 150.5h1.2v1.6h-1.2zM144.7 160.9h1.0v1.0h-1.0zM111.6 142.1h1.2v1.2h-1.2zM114.0 145.4h1.6v1.3h-1.6zM126.6 135.7h2.0v1.0h-2.0zM120.7 135.4h2.0v1.0h-2.0zM115.7 135.1h1.6v1.0h-1.6zM136.9 166.3h1.3v1.3h-1.3z" fill="#000"/>
</g>
<rect x="16.6" y="17.5" width="192.2" height="230.1" fill="none" stroke="#1a1a1a" stroke-width="1.15"/>
<path d="M16.6 17.5h-2.8" stroke="#000" stroke-width="1.2"/>
<text class="ax" x="0.2" y="20.5" textLength="11.9" lengthAdjust="spacingAndGlyphs">40N</text>
<path d="M16.6 48.2h-2.8" stroke="#000" stroke-width="1.2"/>
<text class="ax" x="0.2" y="51.2" textLength="11.9" lengthAdjust="spacingAndGlyphs">30N</text>
<path d="M16.6 78.9h-2.8" stroke="#000" stroke-width="1.2"/>
<text class="ax" x="0.2" y="81.9" textLength="11.9" lengthAdjust="spacingAndGlyphs">20N</text>
<path d="M16.6 109.5h-2.8" stroke="#000" stroke-width="1.2"/>
<text class="ax" x="0.2" y="112.5" textLength="11.9" lengthAdjust="spacingAndGlyphs">10N</text>
<path d="M16.6 140.2h-2.8" stroke="#000" stroke-width="1.2"/>
<text class="ax" x="4.1" y="143.2" textLength="7.9" lengthAdjust="spacingAndGlyphs">EQ</text>
<path d="M16.6 170.9h-2.8" stroke="#000" stroke-width="1.2"/>
<text class="ax" x="0.2" y="173.9" textLength="11.9" lengthAdjust="spacingAndGlyphs">10S</text>
<path d="M16.6 201.6h-2.8" stroke="#000" stroke-width="1.2"/>
<text class="ax" x="0.2" y="204.6" textLength="11.9" lengthAdjust="spacingAndGlyphs">20S</text>
<path d="M16.6 232.3h-2.8" stroke="#000" stroke-width="1.2"/>
<text class="ax" x="0.2" y="235.3" textLength="11.9" lengthAdjust="spacingAndGlyphs">30S</text>
<path d="M16.6 247.6v2.6" stroke="#000" stroke-width="1.2"/>
<text class="ax" x="10.7" y="256.9" textLength="11.9" lengthAdjust="spacingAndGlyphs">20W</text>
<path d="M67.9 247.6v2.6" stroke="#000" stroke-width="1.2"/>
<text class="ax" x="66.1" y="256.9" textLength="3.6" lengthAdjust="spacingAndGlyphs">0</text>
<path d="M119.1 247.6v2.6" stroke="#000" stroke-width="1.2"/>
<text class="ax" x="113.2" y="256.9" textLength="11.9" lengthAdjust="spacingAndGlyphs">20E</text>
<path d="M170.4 247.6v2.6" stroke="#000" stroke-width="1.2"/>
<text class="ax" x="164.4" y="256.9" textLength="11.9" lengthAdjust="spacingAndGlyphs">40E</text>
<text class="ti" x="107.9" y="11.8" textLength="19.3" lengthAdjust="spacingAndGlyphs">CRU</text>
<text class="lab" x="14.0" y="9.8">(a)</text>
<g clip-path="url(#cfb)">
<path d="M250.2 96.7L253.7 96.1L260.7 92.0L266.5 89.7L272.4 89.1L284.0 89.7L295.7 90.3L307.4 91.4L319.1 92.6L329.0 93.8L347.0 98.2L355.6 97.1L362.1 98.2L367.0 102.8L371.7 105.2L376.3 105.8L379.8 102.8L384.5 101.7L389.2 101.1L392.7 97.0L397.4 94.1L402.0 93.5L405.5 95.8L409.0 100.5L412.5 105.2L451.1 105.2L452.0 252.0L248.0 252.0Z" fill="#ffff00"/><path d="M416.1 107.4L418.4 109.6L416.9 112.5L414.7 116.2L412.5 119.9L411.7 123.6L410.3 127.2L411.7 129.5L416.1 128.7L420.6 129.5L422.0 132.4L419.1 135.3L416.1 138.3L414.7 141.0L416.0 145.0L418.0 149.0L422.0 151.0L428.0 150.5L431.0 147.0L431.6 141.0L430.9 138.3L431.6 134.6L433.8 131.7L436.8 128.0L439.0 124.3L441.9 119.1L444.1 114.0L447.0 112.5L455.0 110.0L455.0 98.0L430.0 98.0L414.0 103.0Z" fill="#ffffff"/><path d="M251.2 152.6L259.8 149.4L268.4 145.1L281.3 148.3L292.1 149.0L302.9 151.6L313.7 154.8L322.3 159.1L328.7 164.5L334.1 170.9L336.3 179.6L335.2 189.3L336.0 193.4L340.7 196.3L343.0 202.7L345.4 208.5L347.1 212.0L352.4 210.9L356.5 213.2L358.2 216.7L361.7 220.2L363.5 223.7L362.9 228.4L365.2 233.1L367.0 235.1L368.7 240.1L372.0 252.0L311.5 248.1L302.9 242.1L292.1 235.6L281.3 229.1L270.6 222.7L261.9 218.4L251.2 214.7Z" fill="#ffffff"/><path d="M400.3 130.9C401.1 129.9 403.9 129.2 405.5 129.1C407.2 129.0 409.6 129.2 410.2 130.3C410.8 131.4 410.0 134.5 409.0 135.5C408.1 136.6 405.7 136.8 404.4 136.7C403.0 136.6 401.5 135.9 400.9 135.0C400.2 134.0 399.5 131.8 400.3 130.9Z" fill="#ffffff"/><path d="M404.4 216.9C405.0 215.3 409.0 213.4 411.4 213.4C413.7 213.4 416.6 215.7 418.4 216.9C420.1 218.0 422.1 219.4 421.9 220.4C421.7 221.3 419.6 222.3 417.2 222.7C414.9 223.1 410.0 223.7 407.9 222.7C405.7 221.7 403.8 218.4 404.4 216.9Z" fill="#ffffff"/><path d="M251.9 14.9L253.4 28.1L259.2 30.2L265.1 27.3L270.9 25.9L278.2 25.9L281.8 28.1L285.5 33.9L288.4 37.5L294.3 38.3L300.1 36.8L300.8 32.4L303.0 28.1L310.3 26.6L319.1 27.3L324.9 28.1L327.8 31.0L333.7 33.9L339.5 36.1L349.0 36.1L355.6 33.6L364.2 35.7L372.9 32.5L381.5 30.3L390.1 32.5L397.6 33.6L399.8 28.2L407.3 26.0L416.0 24.9L422.4 24.9L426.7 29.2L430.0 35.7L435.4 42.2L440.8 48.6L441.8 44.3L437.5 37.9L433.2 31.4L437.5 27.1L450.4 27.1L450.4 14.2Z" fill="#ffff00"/><path d="M294.3 19.3C295.5 18.4 301.4 18.6 303.0 19.3C304.6 20.0 305.0 22.8 303.7 23.7C302.5 24.5 297.3 25.1 295.7 24.4C294.1 23.7 293.0 20.2 294.3 19.3Z" fill="#ffffff"/><path d="M258.5 36.1C259.2 35.2 262.1 35.2 262.9 36.1C263.6 36.9 263.6 40.3 262.9 41.2C262.1 42.0 259.2 42.0 258.5 41.2C257.8 40.3 257.8 36.9 258.5 36.1Z" fill="#ffff00"/><path d="M281.8 41.9C283.1 41.2 287.9 40.8 289.1 41.2C290.4 41.6 290.4 43.7 289.1 44.4C287.9 45.1 283.1 45.7 281.8 45.3C280.6 44.9 280.6 42.6 281.8 41.9Z" fill="#ffff00"/><path d="M308.9 19.3C309.9 18.5 312.0 18.1 314.7 18.1C317.4 18.1 323.1 18.4 324.9 19.3C326.7 20.2 326.6 22.6 325.6 23.7C324.7 24.8 321.4 25.5 319.1 25.9C316.8 26.2 313.6 26.4 311.8 25.9C309.9 25.4 308.6 24.0 308.1 22.9C307.6 21.9 307.8 20.1 308.9 19.3Z" fill="#c8ff00"/><path d="M339.5 18.5C342.9 17.3 354.4 17.9 359.9 18.0C365.5 18.2 370.3 18.4 372.9 19.5C375.4 20.7 376.1 23.7 375.0 24.9C373.9 26.2 369.6 26.9 366.4 27.1C363.2 27.3 358.9 26.0 355.6 26.0C352.4 26.0 349.7 27.3 347.0 27.1C344.3 26.9 340.7 26.4 339.5 24.9C338.2 23.5 336.0 19.6 339.5 18.5Z" fill="#c8ff00"/><path d="M250.2 104.3L253.7 103.7L260.7 102.5L264.2 100.8L274.1 96.1L284.0 95.7L291.0 97.3L298.1 96.7L307.4 96.7L312.1 100.2L316.7 103.7L329.0 105.4L355.6 106.8L364.2 110.1L367.0 113.9L372.8 116.3L378.7 115.1L384.5 112.2L390.4 109.9L393.9 105.2L395.6 101.7L399.7 98.2L404.4 98.2L407.3 101.7L409.6 107.5L413.1 111.6L411.4 116.9L407.9 120.4L405.5 125.0L400.9 127.4L394.4 126.8L395.0 128.5L394.4 136.7L397.4 142.6L402.0 148.4L406.7 155.1L407.3 163.4L408.5 169.2L410.2 173.9L413.7 175.0L416.1 172.7L419.6 169.2L421.9 163.4L423.1 157.5L427.7 154.0L433.6 150.5L439.4 148.2L451.1 145.8L452.0 252.0L380.4 251.8L380.4 235.4L383.9 228.4L387.4 222.6L389.7 216.7L387.4 212.0L385.1 208.5L387.4 207.4L389.7 202.7L389.2 193.4L385.1 191.0L380.4 189.3L374.6 192.2L368.7 193.4L362.3 192.2L361.7 183.4L354.7 182.8L345.4 182.3L338.4 180.5L341.7 177.4L339.5 168.8L335.2 161.2L329.8 154.8L322.3 149.4L313.7 144.0L302.9 140.8L292.1 137.5L281.3 135.4L270.6 136.0L261.9 137.5L251.2 139.7Z" fill="#c8ff00"/><path d="M251.2 228.1L261.9 231.3L270.6 235.6L277.0 242.1L281.3 248.5L251.2 248.5Z" fill="#c8ff00"/><path d="M396.2 190.0L418.4 190.0L417.2 199.3L416.1 207.5L417.2 214.5L421.9 219.2L430.1 218.0L432.4 219.2L428.9 225.0L427.7 232.0L432.4 239.1L435.3 250.7L412.5 250.7L410.2 242.6L405.5 236.7L399.7 233.2L393.9 228.5L392.1 222.7L393.9 213.4L396.2 202.8Z" fill="#ffff00"/><path d="M451.1 192.3L441.7 194.7L438.2 201.7L437.1 213.4L435.9 220.4L439.4 225.0L451.1 226.2Z" fill="#ffff00"/><path d="M392.1 144.7C393.1 142.9 395.9 142.7 397.4 143.5C398.8 144.3 400.4 147.0 400.9 149.3C401.4 151.7 400.9 155.2 400.3 157.5C399.7 159.9 398.5 162.6 397.4 163.4C396.2 164.1 394.3 163.7 393.3 162.2C392.3 160.6 391.7 156.9 391.5 154.0C391.3 151.1 391.1 146.4 392.1 144.7Z" fill="#ffff00"/><path d="M408.0 150.0C409.8 148.3 415.7 147.5 417.0 150.0C418.3 152.5 416.5 160.3 416.0 165.0C415.5 169.7 414.2 173.8 414.0 178.0C413.8 182.2 416.0 187.3 415.0 190.0C414.0 192.7 409.8 194.7 408.0 194.0C406.2 193.3 404.5 190.0 404.0 186.0C403.5 182.0 404.7 174.3 405.0 170.0C405.3 165.7 405.5 163.3 406.0 160.0C406.5 156.7 406.2 151.7 408.0 150.0Z" fill="#ffff00"/><path d="M390.9 186.7C392.0 185.5 395.1 186.5 396.2 187.9C397.3 189.2 397.6 192.0 397.4 194.9C397.2 197.8 396.2 203.4 395.0 205.1C393.9 206.7 391.2 206.7 390.4 205.1C389.5 203.4 389.7 197.9 389.8 194.9C389.9 191.8 389.9 187.9 390.9 186.7Z" fill="#ffff00"/><path d="M404.4 216.9C405.0 215.3 409.0 213.4 411.4 213.4C413.7 213.4 416.6 215.7 418.4 216.9C420.1 218.0 422.1 219.4 421.9 220.4C421.7 221.3 419.6 222.3 417.2 222.7C414.9 223.1 410.0 223.7 407.9 222.7C405.7 221.7 403.8 218.4 404.4 216.9Z" fill="#ffffff"/><path d="M250.2 107.8L259.5 106.0L264.2 104.3L269.4 104.9L272.4 105.4L275.9 107.8L282.9 108.4L285.2 110.7L295.7 115.4L297.5 114.2L299.2 109.5L303.9 108.4L312.1 109.5L319.1 108.9L329.0 110.1L339.5 111.8L343.6 115.8L348.9 115.8L357.0 114.7L362.9 114.1L367.5 117.0L371.1 120.5L374.6 124.0L378.1 126.4L383.9 128.7L387.4 129.9L392.1 129.9L394.4 133.4L394.4 142.7L392.1 147.4L385.1 149.7L381.6 149.7L376.9 150.9L371.1 149.7L367.5 154.4L365.2 160.2L366.4 166.1L361.7 170.7L360.5 175.1L360.5 175.3L354.7 176.4L347.7 177.0L342.4 175.8L341.9 170.0L338.4 168.4L336.0 161.4L332.5 155.5L329.0 150.9L324.3 147.4L322.0 145.0L322.3 142.9L313.7 138.6L302.9 134.3L292.1 131.7L270.6 131.1L251.2 133.2Z" fill="#addce6"/><path d="M395.6 111.0C396.4 110.0 398.1 109.5 399.1 109.9C400.1 110.2 401.0 111.8 401.5 113.4C401.9 114.9 402.3 117.7 402.0 119.2C401.7 120.7 400.7 121.9 399.7 122.1C398.7 122.3 397.1 121.4 396.2 120.4C395.3 119.3 394.5 117.3 394.4 115.7C394.3 114.1 394.8 112.0 395.6 111.0Z" fill="#addce6"/><path d="M451.1 151.1L441.7 152.8L435.9 157.5L431.8 162.2L434.7 166.9L439.4 170.4L451.1 173.9Z" fill="#addce6"/><path d="M418.4 190.2C419.0 189.3 420.3 186.1 421.9 184.4C423.4 182.6 426.2 181.1 427.7 179.7C429.3 178.3 429.9 176.4 431.2 176.2C432.6 176.0 434.9 176.8 435.9 178.5C436.9 180.3 437.0 183.8 437.1 186.7C437.2 189.6 436.7 194.3 436.5 196.1C436.3 197.8 436.3 195.1 435.9 197.0C435.5 198.9 435.0 204.2 434.2 207.5C433.3 210.8 431.7 215.1 430.6 216.9C429.6 218.6 428.8 218.6 427.7 218.0C426.7 217.4 425.2 215.7 424.2 213.4C423.3 211.0 422.7 206.9 421.9 204.0C421.1 201.1 420.1 198.2 419.6 195.8C419.0 193.5 418.6 190.9 418.4 190.0C418.2 189.1 417.8 191.2 418.4 190.2Z" fill="#addce6"/><path d="M378.7 166.3C379.7 164.8 383.9 164.8 385.1 166.3C386.3 167.7 386.7 173.6 385.7 175.0C384.7 176.5 380.4 176.5 379.3 175.0C378.1 173.6 377.7 167.7 378.7 166.3Z" fill="#addce6"/><path d="M398.5 186.1C399.7 185.0 405.2 184.3 406.7 185.0C408.2 185.6 408.5 189.1 407.3 190.2C406.1 191.4 401.2 192.7 399.7 192.0C398.2 191.3 397.4 187.3 398.5 186.1Z" fill="#addce6"/><path d="M250.2 110.3L260.7 109.9L267.7 108.9L272.4 111.9L278.2 114.2L282.9 116.5L285.2 123.5L287.5 125.9L295.7 125.3L305.1 125.3L314.4 125.9L319.1 123.5L323.7 120.0L329.0 118.9L329.0 145.7L326.1 139.9L321.4 135.2L314.4 131.7L305.1 131.7L295.7 131.7L287.5 129.4L279.4 130.3L272.4 131.7L260.7 134.6L250.2 135.2Z" fill="#80d0e8"/><path d="M322.0 114.7L329.0 113.5L337.2 114.7L343.0 119.3L343.6 125.2L342.4 131.0L345.4 133.4L349.4 139.2L351.2 145.0L350.0 148.5L343.0 150.3L336.0 149.7L331.3 147.4L326.7 143.9L322.0 140.4L318.5 133.4Z" fill="#80d0e8"/><path d="M354.1 126.4L361.7 125.2L371.1 124.0L376.9 126.4L381.6 129.9L382.7 135.7L381.6 142.7L379.2 148.5L374.6 150.9L368.7 149.7L366.4 153.2L361.7 156.7L357.0 159.1L352.4 156.7L348.9 153.2L350.0 147.4L351.8 141.5L352.4 133.4Z" fill="#80d0e8"/><path d="M421.9 191.4C422.8 189.9 423.9 187.4 425.4 185.5C426.9 183.7 429.2 181.1 430.6 180.3C432.1 179.5 433.4 179.4 434.2 180.9C434.9 182.3 435.3 185.6 435.3 189.1C435.3 192.5 434.9 198.6 434.2 201.7C433.4 204.8 431.7 205.3 430.6 207.5C429.6 209.8 428.7 214.5 427.7 215.1C426.8 215.7 425.7 213.1 424.8 211.0C423.9 209.0 423.3 205.6 422.5 202.8C421.7 200.1 420.2 196.6 420.1 194.7C420.0 192.8 421.0 192.9 421.9 191.4Z" fill="#80d0e8"/><path d="M372.8 136.7C373.8 134.4 378.6 133.6 379.8 135.5C381.1 137.5 381.4 146.1 380.4 148.4C379.5 150.7 375.3 151.5 374.0 149.6C372.7 147.6 371.9 139.1 372.8 136.7Z" fill="#80d0e8"/><path d="M250.2 113.0L260.7 112.4L266.5 112.4L270.6 113.0L273.5 115.4L278.2 118.9L282.9 123.5L285.2 125.9L282.9 126.8L279.4 128.0L272.4 130.3L260.7 132.6L250.2 133.4Z" fill="#00ffff"/><path d="M315.3 123.4C315.6 121.8 316.9 122.3 319.3 121.1C321.7 119.9 326.9 117.1 329.6 116.2C332.4 115.3 334.9 114.5 335.9 115.7C337.0 116.9 336.5 121.5 335.9 123.4C335.3 125.2 332.6 125.2 332.3 127.0C332.0 128.8 334.0 131.9 334.1 134.1C334.3 136.4 333.9 138.8 333.2 140.4C332.6 142.1 331.3 144.0 330.1 144.0C328.9 144.0 327.5 141.8 326.1 140.4C324.6 139.1 323.1 137.6 321.6 135.9C320.1 134.3 318.1 132.6 317.1 130.5C316.0 128.5 314.9 124.9 315.3 123.4Z" fill="#00ffff"/><path d="M332.5 140.9C334.2 140.4 340.2 140.7 341.9 141.5C343.5 142.4 343.4 145.2 342.4 146.2C341.5 147.2 337.8 147.6 336.0 147.4C334.3 147.2 332.5 146.1 331.9 145.0C331.3 144.0 330.9 141.5 332.5 140.9Z" fill="#00ffff"/><path d="M354.7 137.4C355.6 136.9 359.5 136.9 360.5 137.4C361.6 138.0 362.0 140.4 361.1 140.9C360.2 141.5 356.4 141.5 355.3 140.9C354.2 140.4 353.8 138.0 354.7 137.4Z" fill="#00ffff"/><path d="M355.9 145.0C356.5 144.5 358.7 144.5 359.4 145.0C360.1 145.6 360.5 148.0 360.0 148.5C359.4 149.1 356.5 149.1 355.9 148.5C355.2 148.0 355.3 145.6 355.9 145.0Z" fill="#00ffff"/><path d="M386.8 140.4C387.6 139.2 391.1 138.8 392.1 139.8C393.0 140.8 393.4 145.0 392.7 146.2C391.9 147.4 388.4 147.8 387.4 146.8C386.4 145.8 386.0 141.5 386.8 140.4Z" fill="#00ffff"/><path d="M374.0 139.1C374.7 137.5 377.9 137.1 378.7 138.5C379.5 139.8 379.4 145.7 378.7 147.2C378.0 148.8 375.4 149.2 374.6 147.8C373.8 146.4 373.3 140.6 374.0 139.1Z" fill="#00ffff"/><path d="M250.2 118.9L260.7 118.9L266.5 118.3L266.8 113.6L270.6 113.4L272.4 116.5L275.9 120.0L279.4 123.0L278.2 125.6L272.4 127.3L266.5 129.0L260.7 130.2L250.2 130.8Z" fill="#5a8fe0"/><path d="M254.8 123.0C255.6 122.2 259.5 122.0 260.7 122.4C261.8 122.8 262.6 124.5 261.8 125.3C261.1 126.1 257.2 127.4 256.0 127.0C254.8 126.7 254.1 123.7 254.8 123.0Z" fill="#0a6aa5"/><path d="M271.2 120.0C271.8 119.4 275.3 119.9 276.4 120.6C277.6 121.3 278.8 123.4 278.2 124.1C277.6 124.8 274.1 125.4 272.9 124.7C271.8 124.0 270.6 120.7 271.2 120.0Z" fill="#0a6aa5"/><path d="M318.4 121.6L323.4 121.1L329.6 120.2L331.0 127.0L331.4 134.1L330.1 142.2L327.0 139.5L323.4 134.1L320.2 127.9Z" fill="#5a8fe0"/><path d="M321.1 124.7L328.8 123.8L330.5 129.6L330.1 136.8L327.0 135.9L323.8 131.4Z" fill="#123f90"/><path d="M323.8 127.0C324.2 126.4 326.4 126.1 327.0 126.5C327.6 127.0 327.8 129.1 327.4 129.6C327.0 130.2 325.3 130.5 324.7 130.1C324.1 129.6 323.4 127.6 323.8 127.0Z" fill="#6000ff"/><path d="M374.0 145.0C374.0 143.7 374.4 141.8 374.8 140.9C375.2 140.1 375.8 139.7 376.3 139.8C376.9 139.8 377.6 140.4 378.1 141.3C378.5 142.2 378.8 143.7 378.8 145.0C378.8 146.3 378.5 148.2 378.1 149.1C377.6 150.0 376.9 150.3 376.3 150.3C375.7 150.3 374.9 150.0 374.6 149.1C374.2 148.2 373.9 146.4 374.0 145.0Z" fill="#5a8fe0"/><path d="M375.2 141.4C375.6 140.2 377.1 140.2 377.5 141.4C377.9 142.6 377.9 147.2 377.5 148.4C377.1 149.6 375.6 149.6 375.2 148.4C374.8 147.2 374.8 142.6 375.2 141.4Z" fill="#5a8fe0"/><path d="M324.0 85.3C324.0 84.8 325.0 83.8 325.5 83.8C326.0 83.8 327.0 84.8 327.0 85.3C327.0 85.8 326.0 86.8 325.5 86.8C325.0 86.8 324.0 85.8 324.0 85.3Z" fill="#ffff00"/>
<path d="M289.8 30.4L291.4 30.1L295.0 32.2L297.5 31.9L299.3 32.5L303.4 30.7L307.5 28.5L312.6 27.3L318.0 27.3L324.9 27.0L330.3 25.8L333.1 26.7L331.3 27.3L332.1 28.5L332.1 30.4L333.1 32.2L332.6 33.8L330.8 36.2L333.1 37.1L334.4 38.4L338.8 39.3L343.6 40.8L344.9 43.3L347.5 44.5L351.1 46.3L353.6 47.3L356.5 45.7L356.2 41.7L358.8 39.6L360.6 39.3L362.9 39.6L364.4 41.4L366.5 41.7L369.5 43.3L374.7 43.9L379.0 45.4L381.6 44.5L384.4 43.3L387.7 44.2L388.2 48.2L388.5 51.2L390.0 54.3L391.6 56.8L392.9 60.5L394.4 63.5L395.9 66.6L396.4 69.7L399.0 72.1L399.8 75.8L400.3 80.1L400.8 82.2L403.6 85.0L405.4 89.6L406.2 92.4L408.7 94.8L411.3 97.9L414.6 100.3L415.9 101.9L415.7 104.0L414.4 104.6L415.9 105.2L417.7 108.0L420.3 108.3L423.3 107.1L425.4 106.2L431.0 105.6L434.4 104.0L436.4 103.7L436.2 108.0L435.1 111.1L433.9 113.8L432.6 115.7L431.0 119.4L429.2 124.0L427.2 127.0L425.4 129.5L422.8 132.6L421.0 134.1L419.0 135.6L416.4 138.4L413.9 141.4L411.6 145.4L409.8 147.3L408.0 148.8L407.7 150.3L406.7 152.5L405.2 155.9L404.4 158.6L405.9 161.1L405.9 164.8L406.4 167.8L406.9 170.9L408.5 172.4L409.0 175.5L408.7 180.1L409.5 184.7L408.7 188.1L407.2 190.2L404.4 193.0L399.8 195.4L398.0 197.9L395.9 199.7L394.1 201.3L393.9 203.4L395.4 206.2L395.9 209.2L395.9 213.5L395.2 215.7L391.1 217.5L388.8 219.7L389.3 222.4L388.8 226.1L387.2 228.6L384.4 232.0L382.3 235.3L379.3 239.0L376.5 241.5L372.9 243.9L370.6 244.5L367.7 245.1L365.2 244.8L361.6 245.1L356.2 247.0L353.1 245.8L352.1 244.2L351.1 240.9L351.9 237.5L349.3 232.3L347.2 228.0L344.7 224.6L343.6 221.8L342.9 216.9L342.1 213.9L342.1 210.5L339.5 204.6L337.0 198.5L335.2 193.3L335.2 189.3L336.2 186.9L337.0 181.6L339.3 178.9L340.3 174.0L340.3 170.9L338.3 167.8L339.0 166.3L337.8 161.7L336.5 158.9L336.2 157.1L335.2 154.9L333.1 152.2L330.6 148.8L328.8 146.0L327.5 142.4L329.0 139.6L329.6 137.2L330.1 134.4L330.1 133.2L330.3 131.3L329.8 128.3L328.0 127.6L326.7 126.1L325.5 126.4L322.9 126.7L320.3 127.0L318.8 124.9L317.8 122.4L316.5 120.9L313.7 120.6L311.1 120.9L308.0 121.5L304.4 123.3L301.9 124.6L299.6 125.8L297.0 124.6L294.7 124.3L289.6 125.5L285.2 126.7L281.9 124.9L277.3 120.9L275.5 119.1L272.9 117.5L271.1 114.1L269.8 111.1L267.8 108.6L266.5 106.5L265.0 103.7L262.2 102.2L262.4 99.1L261.9 97.3L260.1 95.1L262.7 91.1L264.0 84.7L263.4 80.7L261.4 76.4L261.6 74.9L262.7 71.8L264.2 67.5L266.5 64.4L267.8 60.1L270.6 57.1L271.9 54.6L275.5 53.4L278.8 50.0L280.4 47.0L279.8 43.9L281.4 41.1L285.5 37.1L287.5 35.9L289.1 32.8L289.8 30.4ZM431.3 177.0L432.8 181.6L434.4 187.8L433.6 189.3L432.3 187.8L431.5 192.4L431.5 196.1L430.0 201.6L428.0 207.7L425.9 213.9L425.4 216.9L420.8 218.8L417.7 216.9L416.9 212.0L415.9 207.7L416.4 205.6L418.5 202.5L418.7 198.5L417.7 193.9L419.0 189.9L423.6 188.4L426.2 185.6L428.0 182.6L430.0 178.6L431.3 177.0ZM387.7 44.2L391.6 44.8L392.9 43.9L394.1 41.7L394.6 39.6L395.9 36.2L396.7 34.7L396.7 31.3L397.7 27.9L395.9 27.9L393.6 27.3L391.6 29.2L389.0 29.8L385.7 27.6L383.6 27.0L382.6 28.9L379.5 27.9L377.5 27.3L375.2 26.7L374.7 24.2L373.6 22.4L372.6 20.6L372.1 19.0L372.1 17.5L372.1 12.9L448.5 12.9L448.5 58.0L445.9 58.3L442.1 58.3L439.5 55.8L436.9 54.9L435.1 51.6L434.4 49.7L431.8 47.6L429.2 48.2L428.0 50.0L429.2 52.8L430.0 55.2L432.1 57.4L433.3 59.2L433.6 62.0L435.1 64.1L435.1 62.0L436.2 60.1L437.2 61.1L437.2 63.8L436.4 65.1L437.2 66.0L439.5 66.0L444.4 65.1L448.5 61.7L448.5 85.6L445.9 86.8L443.6 88.1L441.0 89.1L438.7 91.1L438.7 92.4L434.4 94.2L430.8 95.7L428.0 97.3L424.1 99.1L420.3 100.9L416.4 101.3L415.7 99.4L414.9 94.8L414.6 92.7L413.9 88.1L411.3 84.4L408.2 80.4L405.2 74.3L403.6 69.7L402.3 66.3L398.5 60.5L395.2 54.3L394.6 49.7L393.4 52.8L392.6 55.2L390.0 52.8L388.8 49.7L388.2 48.2ZM282.1 12.9L282.1 17.5L280.9 21.5L282.4 22.4L281.9 26.7L284.7 26.7L287.3 26.1L288.8 28.2L290.6 29.8L291.4 29.5L293.7 27.6L298.8 27.3L299.8 27.6L302.6 24.9L303.7 22.7L305.5 21.5L304.2 19.0L305.0 17.5L307.0 12.9ZM311.1 18.7L312.9 17.8L313.7 18.4L312.9 19.6L311.4 19.3ZM308.0 20.9L309.1 20.3L308.8 21.2ZM326.5 12.9L326.5 20.6L328.0 20.9L329.6 20.0L329.8 12.9ZM336.7 23.6L339.0 23.0L344.9 22.7L343.6 26.7L343.4 27.6L340.8 26.4L337.0 24.9ZM344.9 12.9L344.9 17.5L346.2 20.6L345.2 23.6L346.2 23.9L347.5 22.4L348.8 20.6L347.2 18.4L348.5 16.0L351.1 17.8L352.4 17.2L351.1 12.9ZM354.7 12.9L354.7 17.5L358.0 21.2L359.0 22.7L359.5 24.6L360.6 27.3L362.4 28.2L363.4 27.3L364.4 28.5L364.2 25.8L366.5 24.6L366.5 23.0L363.9 20.9L363.6 19.6L362.9 17.5L365.2 16.6L366.5 17.5L367.7 12.9ZM365.2 31.3L367.7 31.6L372.4 32.2L369.0 32.8L365.4 32.2ZM387.7 32.8L389.5 31.9L393.6 31.0L391.8 32.8L389.5 34.1Z" fill="none" stroke="#000" stroke-width="1.55" stroke-linejoin="round"/>
<path d="M431.8 12.9L431.5 19.0L430.3 22.4L430.5 25.2L433.1 25.5L435.6 27.3L438.2 27.9L442.1 27.3L443.3 25.8L442.8 20.6L440.8 17.5L440.3 12.9ZM386.4 140.8L389.0 139.3L392.1 139.6L393.1 141.1L392.1 143.3L391.6 146.4L390.0 148.2L388.5 147.9L386.4 148.2L386.2 144.8ZM380.0 150.7L381.1 154.0L381.3 158.6L383.4 162.6L384.7 166.6L383.4 166.6L381.8 162.6L379.8 158.6L379.5 154.0ZM392.1 169.7L393.6 172.4L394.4 177.0L394.6 181.6L395.2 184.1L393.9 184.1L392.9 180.1L392.6 175.5L391.8 171.8Z" fill="none" stroke="#000" stroke-width="1.1" stroke-linejoin="round"/>
<path d="M299.3 32.5L300.3 34.4L300.6 36.8L300.6 39.9L301.9 41.4L297.5 42.0L295.7 43.0L295.5 45.4L292.1 48.2L290.3 49.4L287.0 49.7L282.7 52.2L282.7 56.5M282.7 55.3L271.1 55.3M282.7 56.5L282.7 60.5L274.2 60.5L274.2 68.3L271.6 69.7L271.4 74.8L261.4 74.8M282.7 56.5L292.7 63.5L308.0 75.5L308.0 76.7L313.2 79.5L313.4 81.9L315.8 81.5L319.8 80.4L324.2 76.1L335.7 68.1M292.7 63.5L288.3 63.5L290.6 89.6L291.4 90.2L290.9 92.7L280.9 92.7L277.5 93.0L275.5 92.7L273.7 94.8M262.7 90.8L264.0 89.6L266.5 89.0L269.1 89.6L270.9 91.1L273.7 94.8L274.2 98.8L275.7 102.2L273.4 102.5L269.8 101.3L266.5 101.3L262.2 102.3M261.9 98.5L265.2 97.9L269.6 98.8L269.6 99.7L265.2 99.4L262.2 100.0M269.8 101.3L269.8 104.3L267.3 104.9L266.5 106.6M270.9 112.6L272.9 109.8L276.3 109.5L277.8 112.3L278.6 114.1L277.8 115.7L275.5 119.1M278.6 114.1L280.6 114.4L281.1 117.5L283.2 116.9L283.7 120.9L285.7 122.4L285.7 126.9M283.2 116.9L283.9 114.1L285.2 112.6L284.5 108.9L283.7 106.5L281.9 102.5L278.8 102.8L275.7 102.2M284.5 108.9L289.1 107.7L290.9 108.3L292.9 110.5L298.0 111.1L298.5 115.1L296.8 119.4L297.8 124.6M298.0 111.1L297.8 106.5L305.0 106.2L306.2 109.5L306.2 114.1L306.5 118.7L308.0 121.5M305.0 106.2L307.3 106.5L308.5 111.1L309.1 121.2M307.3 106.5L310.1 105.2L311.1 103.7L314.2 104.3L314.7 108.0L312.1 112.6L311.9 117.2L311.9 120.6M290.9 108.3L291.4 104.0L293.7 101.9L294.7 99.1L297.3 98.2L299.8 96.7L303.2 93.9L305.5 94.2L306.0 97.3L307.5 100.3L310.3 101.3L311.1 103.7M305.5 94.2L313.9 93.0L315.7 89.9L315.8 81.5M335.7 68.1L334.4 65.7L331.3 65.1L329.3 59.5L330.3 55.8L330.1 53.4L330.3 51.2L329.3 47.6L331.3 45.4L331.3 43.0L334.4 40.8L334.4 38.5M329.3 47.6L328.3 41.7L324.2 36.5L326.2 33.8L326.0 28.2L327.0 27.0M335.7 68.1L341.3 70.9L343.4 69.7L366.5 80.4L366.5 78.9L369.0 78.9L369.0 72.7L369.0 50.6L368.3 47.9L369.4 43.1M369.0 72.7L399.5 72.7M343.4 69.7L345.7 77.6L344.7 88.4L339.8 98.2M314.2 104.3L314.9 100.9L315.5 98.8L319.0 97.6L322.4 100.0L325.5 99.4L328.0 100.9L331.9 99.4L337.0 100.0L339.8 98.2L341.1 100.0M341.1 100.0L341.3 102.2L342.4 104.9L340.3 106.5L338.8 110.8L337.8 113.2L336.2 114.4L335.2 118.7L333.4 120.3L331.9 118.7L330.1 119.4L328.8 121.2L327.5 122.4L327.0 125.5M341.1 100.0L342.1 100.9L343.6 103.1L343.4 106.8L344.7 109.5L341.3 109.5L340.6 110.8L343.9 115.7L344.7 117.2L341.9 121.8L342.4 124.9L343.4 127.9L346.5 133.5L346.0 135.0L342.1 133.5L339.0 133.5L333.9 133.5L330.1 133.2M333.9 133.5L333.9 137.2L330.1 137.2M339.0 133.5L338.8 136.2L341.9 136.2L342.1 137.5L340.6 140.2L342.1 141.8L341.9 145.7L341.9 147.3L338.3 147.6L337.0 146.4L334.9 147.6L334.7 149.4L335.4 151.3L333.4 152.2M335.7 155.6L337.2 153.7L338.5 154.3L337.0 156.2L337.0 157.7L336.2 157.9M338.5 154.3L340.8 153.7L341.9 155.3L343.9 153.4L346.0 149.4L346.5 146.4L348.5 143.3L350.6 141.8L350.6 138.7L351.3 134.1L352.6 129.5M346.5 133.5L347.5 129.5L352.6 129.5L352.6 126.7L354.9 124.6L357.5 126.4L362.4 127.6L363.6 125.5L367.5 124.6L369.8 124.9L375.2 124.6M344.7 117.2L347.2 116.6L350.3 116.0L352.6 115.7L353.6 112.6L357.2 112.3L360.6 107.7L363.6 106.5L362.6 101.6L361.1 101.3L362.1 99.1L361.6 97.3L362.6 96.7L363.6 92.4L366.5 92.1L366.5 80.4M363.6 106.5L365.7 112.6L367.7 114.1L369.8 117.2L372.6 120.3L375.2 124.6L377.7 127.0L380.6 126.4L383.9 129.5L386.7 129.2L389.5 128.3L392.1 127.3L397.0 126.1M397.0 126.1L395.4 123.7L393.9 119.7L389.5 115.7L392.3 114.1L392.9 108.0L394.6 106.5L397.5 101.3L398.5 96.3L398.5 94.2L399.8 88.1L403.9 85.0M398.5 96.3L402.1 94.5L404.9 95.4L407.5 95.7L410.0 98.8L413.6 101.9L415.4 101.3M413.6 101.9L412.1 106.5L414.9 106.8L415.8 104.9M414.9 106.8L414.4 107.7L417.7 112.6L425.4 115.7L428.0 115.7L420.3 124.9L415.1 126.1L412.3 128.1L409.5 127.3L406.2 129.8L402.3 129.2L399.5 126.7L397.2 126.7L397.0 126.1M412.3 128.1L410.0 131.6L410.0 142.7L411.6 145.4M392.1 127.3L393.1 128.9L394.6 134.4L393.4 136.8L392.1 139.6L391.8 143.3L401.3 149.4L401.8 151.6L405.4 154.6M391.8 143.3L383.1 143.3L380.8 144.5L380.8 141.8L381.6 138.7L383.1 136.5L385.2 133.5L383.9 129.5M383.1 143.3L383.9 147.6L381.8 147.6L379.3 148.5L379.8 145.4L380.8 144.5M383.9 147.6L383.9 150.3L381.8 153.4L380.3 153.9L379.8 150.3L379.3 148.5M380.3 153.9L380.8 158.6L383.1 163.2L383.9 165.4L387.0 167.8L389.3 169.1L391.8 169.4L393.4 175.5L396.7 175.5L401.1 176.1L403.6 174.9L408.5 172.4M393.6 175.8L393.1 177.6L394.4 181.6L397.0 185.3L396.7 189.3L395.4 192.7L393.1 190.2L393.1 184.7L390.3 183.2L388.8 181.9L389.5 177.0L390.3 173.4L389.3 169.1M390.3 183.2L385.7 185.0L382.3 185.6L382.9 188.1M383.9 165.4L379.0 166.3L377.7 168.8L378.5 173.0L377.7 176.7L379.3 178.3L381.3 177.6L381.3 181.3L377.7 178.6L374.7 175.8L371.6 176.7L369.8 174.6L367.5 175.2L366.5 173.7M366.5 173.7L366.5 180.1L361.3 180.1L361.3 189.9L364.9 194.2M336.5 158.9L338.8 158.3L347.5 158.3L348.5 161.7L350.1 165.1L354.7 164.8L354.7 161.7L357.7 161.7L360.8 162.6L361.1 169.4L362.1 174.6L366.2 173.7M335.1 193.1L338.3 192.4L340.8 193.6L352.4 193.6L359.8 195.4L364.9 194.2L369.8 194.8M369.8 194.8L367.7 195.4L364.7 195.4L358.8 196.4L358.8 207.7L356.2 207.7L356.2 216.3L356.2 227.4L353.6 228.9L349.8 228.3L347.2 228.0M356.2 216.3L358.0 222.4L360.6 222.4L363.9 217.8L370.6 218.8L373.9 213.9L376.5 210.8L380.3 208.3L376.7 206.2L375.9 203.1L372.1 200.0L369.8 194.8M369.8 194.8L374.1 195.1L378.8 190.8L382.9 188.1L385.2 189.3L389.3 191.5L389.5 195.4L388.8 198.5L389.5 201.0L388.2 205.6L385.2 208.9L380.3 208.3M385.2 208.9L387.0 215.4L386.8 219.8L387.2 222.4L389.3 222.6M386.8 219.8L385.4 219.1L384.1 220.0L383.9 222.4L385.2 224.0L387.2 222.4M374.1 231.0L375.4 233.2L377.2 234.1L379.5 232.0L380.3 230.4L379.0 228.6L377.2 228.0L375.4 229.2L374.1 231.0M392.6 44.2L394.4 49.7M394.6 49.7L395.9 43.6L396.2 39.9L399.3 41.1L404.4 37.7L410.0 34.7L410.8 28.2L413.6 26.4L419.8 26.1L421.3 29.8L422.8 32.2L421.3 35.9L422.8 39.0L427.4 42.0L427.2 45.1L429.2 48.2M394.6 50.0L397.5 50.6L401.1 48.2L402.3 46.6L399.8 43.6L404.9 42.0L405.4 41.4L404.4 37.7M405.4 41.4L408.5 42.4L412.6 44.8L419.5 50.6L423.9 50.9L427.2 52.8L429.0 52.8M424.4 50.9L425.4 48.2L427.7 48.2M397.2 29.8L399.0 27.3L402.3 27.3L407.5 27.3L413.6 26.4M394.9 38.7L397.0 37.7L398.7 35.3L397.2 34.1M419.8 26.1L418.5 22.1L417.7 19.3L419.8 18.4L424.1 20.9L428.0 19.0L429.0 22.1L430.3 22.4M414.6 89.9L415.9 86.5L419.0 86.8L424.1 87.5L426.7 88.1L429.2 84.4L438.2 81.9L441.0 89.1M438.2 81.9L445.9 78.9L447.7 72.7L446.4 70.6L439.7 70.0L437.2 66.0M435.1 64.4L436.4 65.1M286.0 26.1L287.0 23.0L286.2 19.0L287.3 17.5L287.3 12.9" fill="none" stroke="#000" stroke-width="1.15" stroke-linejoin="round"/>
<path d="M363.9 28.9L365.4 31.0L367.7 32.1L370.3 32.4L372.4 32.1L374.4 31.0L376.7 29.2" fill="none" stroke="#000" stroke-width="2.0" stroke-linecap="round" stroke-linejoin="round"/>
<path d="M367.2 27.5L370.0 28.4L372.6 27.9L374.1 26.9" fill="none" stroke="#000" stroke-width="1.7" stroke-linecap="round" stroke-linejoin="round"/>
<path d="M364.9 20.6L366.7 22.1L368.0 23.6" fill="none" stroke="#000" stroke-width="2.2" stroke-linecap="round" stroke-linejoin="round"/>
<path d="M368.5 23.9L369.8 25.5L370.3 26.7" fill="none" stroke="#000" stroke-width="2.0" stroke-linecap="round" stroke-linejoin="round"/>
<path d="M366.5 24.6L367.5 25.8" fill="none" stroke="#000" stroke-width="1.8" stroke-linecap="round" stroke-linejoin="round"/>
<path d="M371.3 21.8L371.8 23.0" fill="none" stroke="#000" stroke-width="1.8" stroke-linecap="round" stroke-linejoin="round"/>
<path d="M373.1 24.2L374.1 24.6" fill="none" stroke="#000" stroke-width="1.8" stroke-linecap="round" stroke-linejoin="round"/>
<path d="M369.0 17.8L370.0 17.8" fill="none" stroke="#000" stroke-width="1.8" stroke-linecap="round" stroke-linejoin="round"/>
<path d="M367.7 17.5L368.3 15.7" fill="none" stroke="#000" stroke-width="1.6" stroke-linecap="round" stroke-linejoin="round"/>
<path d="M363.4 25.2L364.4 24.9L365.2 23.9" fill="none" stroke="#000" stroke-width="1.8" stroke-linecap="round" stroke-linejoin="round"/>
<path d="M361.3 22.7L363.6 23.3L364.4 23.6" fill="none" stroke="#000" stroke-width="1.6" stroke-linecap="round" stroke-linejoin="round"/>
<path d="M259.6 38.4h4.0v1.8h-4.0zM261.3 52.6h2.2v1.5h-2.2zM264.1 53.6h1.8v1.5h-1.8zM268.2 51.3h1.3v3.0h-1.3zM269.5 50.1h1.3v1.6h-1.3zM258.3 51.4h1.5v1.5h-1.5zM260.4 53.5h1.0v1.0h-1.0zM321.1 138.5h1.6v1.6h-1.6zM323.3 134.7h1.3v1.3h-1.3zM326.2 128.3h2.0v2.4h-2.0zM318.7 143.9h1.2v1.2h-1.2zM289.6 188.4h1.5v1.3h-1.5zM267.3 163.8h1.5v1.3h-1.5zM415.1 175.2h1.6v1.8h-1.6zM418.0 177.0h1.5v1.2h-1.5zM419.8 178.7h1.5v1.5h-1.5zM406.1 155.2h1.2v2.0h-1.2zM405.1 157.8h1.2v2.2h-1.2zM406.1 163.8h1.2v1.4h-1.2zM440.6 101.1h4.5v1.6h-4.5zM422.7 168.5h1.2v1.2h-1.2zM375.7 28.4h2.0v1.6h-2.0zM373.7 26.4h1.5v1.3h-1.5zM373.0 23.9h1.8v1.3h-1.8zM370.8 21.4h1.6v2.0h-1.6zM371.2 19.2h2.4v1.6h-2.4zM365.3 20.2h1.8v3.2h-1.8zM368.3 25.7h2.4v2.0h-2.4zM367.2 23.2h1.5v1.5h-1.5zM363.2 28.5h1.3v1.3h-1.3zM369.1 27.9h1.3v1.2h-1.3zM368.0 17.2h1.5v1.3h-1.5zM355.0 17.7h1.4v2.0h-1.4zM357.0 22.1h1.5v1.8h-1.5zM357.7 23.6h1.2v1.2h-1.2zM314.6 17.1h1.8v1.2h-1.8zM341.1 29.4h1.5v1.3h-1.5zM332.1 35.8h1.6v1.4h-1.6zM335.1 26.8h1.2v1.0h-1.2zM336.7 30.8h1.0v1.0h-1.0zM420.8 23.1h1.6v3.0h-1.6zM413.8 21.0h2.6v1.6h-2.6zM382.3 49.2h2.2v1.3h-2.2zM388.2 67.2h1.2v3.0h-1.2zM388.7 70.7h1.2v1.6h-1.2zM414.9 35.8h1.6v3.2h-1.6zM415.5 39.1h1.3v1.6h-1.3zM395.5 42.9h0.9v2.0h-0.9zM399.5 102.3h2.0v2.2h-2.0zM339.7 98.8h2.2v1.8h-2.2zM289.4 114.7h2.4v4.4h-2.4zM303.3 114.6h1.8v4.6h-1.8zM304.5 119.0h1.5v2.0h-1.5zM316.1 107.4h1.2v2.4h-1.2zM396.8 127.0h1.3v4.4h-1.3zM383.6 133.6h1.6v2.8h-1.6zM380.1 140.5h1.4v1.8h-1.4zM379.1 145.3h1.3v2.2h-1.3zM377.6 166.7h1.8v2.2h-1.8zM380.4 173.8h1.8v1.5h-1.8zM386.7 164.1h2.0v1.3h-2.0zM375.0 191.8h3.0v1.2h-3.0zM384.2 187.8h3.0v1.1h-3.0zM376.2 222.1h2.0v1.3h-2.0zM369.9 224.6h1.8v1.2h-1.8zM369.6 233.5h2.0v1.2h-2.0zM367.7 231.7h1.6v1.2h-1.6zM388.8 145.7h1.5v1.3h-1.5zM387.1 141.4h1.3v1.3h-1.3zM389.0 135.0h2.0v1.3h-2.0zM396.1 150.5h1.2v1.6h-1.2zM381.8 160.9h1.0v1.0h-1.0zM348.7 142.1h1.2v1.2h-1.2zM351.1 145.4h1.6v1.3h-1.6zM363.7 135.7h2.0v1.0h-2.0zM357.8 135.4h2.0v1.0h-2.0zM352.8 135.1h1.6v1.0h-1.6zM374.0 166.3h1.3v1.3h-1.3z" fill="#000"/>
</g>
<rect x="253.7" y="17.5" width="192.2" height="230.1" fill="none" stroke="#1a1a1a" stroke-width="1.15"/>
<path d="M253.7 17.5h-2.8" stroke="#000" stroke-width="1.2"/>
<text class="ax" x="237.2" y="20.5" textLength="11.9" lengthAdjust="spacingAndGlyphs">40N</text>
<path d="M253.7 48.2h-2.8" stroke="#000" stroke-width="1.2"/>
<text class="ax" x="237.2" y="51.2" textLength="11.9" lengthAdjust="spacingAndGlyphs">30N</text>
<path d="M253.7 78.9h-2.8" stroke="#000" stroke-width="1.2"/>
<text class="ax" x="237.2" y="81.9" textLength="11.9" lengthAdjust="spacingAndGlyphs">20N</text>
<path d="M253.7 109.5h-2.8" stroke="#000" stroke-width="1.2"/>
<text class="ax" x="237.2" y="112.5" textLength="11.9" lengthAdjust="spacingAndGlyphs">10N</text>
<path d="M253.7 140.2h-2.8" stroke="#000" stroke-width="1.2"/>
<text class="ax" x="241.2" y="143.2" textLength="7.9" lengthAdjust="spacingAndGlyphs">EQ</text>
<path d="M253.7 170.9h-2.8" stroke="#000" stroke-width="1.2"/>
<text class="ax" x="237.2" y="173.9" textLength="11.9" lengthAdjust="spacingAndGlyphs">10S</text>
<path d="M253.7 201.6h-2.8" stroke="#000" stroke-width="1.2"/>
<text class="ax" x="237.2" y="204.6" textLength="11.9" lengthAdjust="spacingAndGlyphs">20S</text>
<path d="M253.7 232.3h-2.8" stroke="#000" stroke-width="1.2"/>
<text class="ax" x="237.2" y="235.3" textLength="11.9" lengthAdjust="spacingAndGlyphs">30S</text>
<path d="M253.7 247.6v2.6" stroke="#000" stroke-width="1.2"/>
<text class="ax" x="247.8" y="256.9" textLength="11.9" lengthAdjust="spacingAndGlyphs">20W</text>
<path d="M305.0 247.6v2.6" stroke="#000" stroke-width="1.2"/>
<text class="ax" x="303.2" y="256.9" textLength="3.6" lengthAdjust="spacingAndGlyphs">0</text>
<path d="M356.2 247.6v2.6" stroke="#000" stroke-width="1.2"/>
<text class="ax" x="350.3" y="256.9" textLength="11.9" lengthAdjust="spacingAndGlyphs">20E</text>
<path d="M407.5 247.6v2.6" stroke="#000" stroke-width="1.2"/>
<text class="ax" x="401.5" y="256.9" textLength="11.9" lengthAdjust="spacingAndGlyphs">40E</text>
<text class="ti" x="335.3" y="11.8" textLength="27.2" lengthAdjust="spacingAndGlyphs">TRMM</text>
<text class="lab" x="251.5" y="9.8">(b)</text>
<g clip-path="url(#cfc)">
<path d="M489.3 94.1L498.7 92.0L510.4 91.1L522.0 91.8L533.7 92.6L545.4 93.4L557.1 94.9L567.0 96.7L595.8 100.9L606.6 101.6L615.2 101.1L623.8 98.3L630.3 94.7L636.7 92.3L643.2 92.3L648.6 95.1L654.1 98.8L655.5 104.0L656.2 108.7L656.4 113.4L655.5 119.2L655.8 123.3L659.9 125.0L662.8 126.8L662.2 130.3L658.7 136.7L655.8 141.4L654.6 144.9L656.4 147.2L661.1 146.6L665.7 142.6L670.4 135.0L675.1 126.8L679.7 119.8L683.2 115.1L686.8 112.2L690.0 115.0L690.0 252.0L485.0 252.0L485.0 94.0Z" fill="#ffff00"/><path d="M489.2 149.8L497.8 145.1L508.6 143.4L519.3 143.4L530.1 144.7L540.9 147.7L551.7 151.6L560.3 156.9L566.7 163.4L572.1 172.0L574.3 180.6L573.6 189.3L573.4 193.5L576.4 195.3L581.0 199.9L586.9 205.2L593.9 209.3L598.5 212.2L600.3 215.7L599.7 219.8L597.4 222.7L598.5 225.0L600.9 228.5L603.2 233.2L603.8 236.7L600.9 239.1L595.0 240.2L590.4 240.5L588.0 242.6L585.1 244.3L577.5 244.7L569.3 244.9L560.0 244.0L551.7 238.4L540.9 233.4L530.1 228.1L519.3 222.7L508.6 218.4L499.9 215.1L489.2 212.5Z" fill="#ffffff"/><path d="M583.5 16.4L685.7 16.4L685.7 26.3L683.1 26.3L679.2 30.2L672.6 39.0L677.0 47.0L676.2 51.4L672.6 49.2L666.8 43.4L660.9 36.8L655.1 32.4L650.7 28.5L649.2 26.6L643.4 28.8L637.6 32.4L633.9 36.1L631.7 39.7L625.9 39.4L618.6 38.3L611.3 37.1L604.0 37.5L596.7 38.0L590.8 35.4L585.0 36.8L577.5 33.6L568.9 31.0L562.4 28.8L551.7 29.2L543.0 31.0L538.7 33.6L535.5 37.9L530.1 40.0L522.6 40.0L515.0 37.2L506.4 34.6L497.8 37.2L489.2 38.3L489.2 16.3Z" fill="#ffff00"/><path d="M488.2 100.8L495.2 98.1L501.0 96.7L510.4 96.1L522.0 96.7L533.7 97.6L545.4 98.4L552.4 99.6L559.4 100.8L567.0 102.5L605.0 107.5L612.0 108.7L620.2 107.5L628.4 104.0L631.9 100.5L634.8 97.9L638.9 96.4L643.5 97.2L648.2 102.8L650.5 109.9L650.0 115.7L645.9 120.4L642.4 123.9L636.5 125.6L631.3 126.8L630.9 134.4L632.4 140.2L636.5 144.9L640.0 148.4L643.5 153.1L644.1 159.9L645.3 166.9L647.0 171.5L650.0 174.1L651.7 172.7L657.6 170.4L659.9 166.9L660.5 159.9L663.4 155.2L670.4 151.1L677.4 148.8L686.8 145.8L690.0 150.0L690.0 252.0L609.1 248.4L611.4 244.9L612.6 240.2L616.1 234.4L619.6 228.5L623.1 223.9L625.4 219.2L626.0 213.4L627.7 207.5L627.2 202.8L624.8 198.8L620.7 195.3L616.1 194.1L606.7 194.7L595.0 194.1L583.4 193.5L575.2 192.9L579.2 181.7L577.5 173.1L573.2 164.5L567.8 155.9L560.3 149.4L551.7 144.0L540.9 140.8L530.1 138.2L508.6 136.9L489.2 139.1Z" fill="#c8ff00"/><path d="M489.2 222.2L499.9 225.9L508.6 229.6L519.3 234.5L530.1 238.8L540.9 244.2L548.4 248.5L489.2 248.5Z" fill="#c8ff00"/><path d="M640.0 200.5C641.8 198.9 646.3 194.3 648.2 194.1C650.2 193.9 650.7 197.1 651.7 199.3C652.7 201.6 653.5 204.8 654.1 207.5C654.6 210.2 654.2 213.6 655.2 215.7C656.2 217.8 658.5 218.2 659.9 220.4C661.3 222.5 663.4 226.0 663.4 228.5C663.4 231.1 661.4 234.2 659.9 235.5C658.3 236.9 656.4 237.1 654.1 236.7C651.7 236.3 649.0 234.6 645.9 233.2C642.8 231.8 637.6 230.7 635.4 228.5C633.1 226.4 632.4 223.3 632.4 220.4C632.4 217.4 634.5 213.7 635.4 211.0C636.2 208.3 636.9 205.8 637.7 204.0C638.5 202.3 638.3 202.2 640.0 200.5Z" fill="#ffff00"/><path d="M578.6 16.3L579.7 21.7L585.1 23.2L585.0 25.4L590.8 24.4L596.7 26.6L601.1 27.3L606.9 26.6L614.2 27.3L620.0 26.6L621.8 24.0L619.3 21.1L614.2 19.3L612.0 16.4Z" fill="#c8ff00"/><path d="M647.0 16.4L648.5 19.0L652.9 19.3L655.8 16.4Z" fill="#c8ff00"/><path d="M488.2 104.6L497.5 102.5L502.2 101.6L508.0 102.3L518.5 102.8L522.0 106.6L526.7 108.1L536.1 107.2L550.1 107.2L554.7 106.4L561.7 106.0L567.0 106.7L574.0 110.0L577.5 111.2L581.6 115.3L585.7 115.8L595.0 114.1L600.9 112.9L606.7 114.7L611.4 118.2L616.1 121.1L623.1 123.4L627.7 126.4L630.1 131.0L631.2 139.2L630.1 145.0L623.1 148.5L619.6 153.2L618.4 159.1L620.7 164.9L620.2 167.4L628.4 166.3L635.4 165.7L642.4 167.4L647.0 172.7L648.2 179.7L647.0 186.7L643.5 191.4L637.7 194.0L634.8 196.1L633.0 191.4L630.1 186.7L624.9 180.9L619.0 179.7L612.0 179.7L605.0 179.1L597.9 180.6L585.0 180.6L584.4 180.6L582.9 172.0L581.8 162.3L577.5 155.9L571.1 148.3L562.4 141.9L551.7 136.5L540.9 133.9L530.1 132.6L508.6 131.7L489.2 132.6Z" fill="#addce6"/><path d="M631.3 102.8C631.9 102.3 632.9 101.7 634.2 101.7C635.5 101.7 637.6 101.9 638.9 102.8C640.1 103.8 641.2 105.8 641.8 107.5C642.4 109.3 642.5 111.6 642.4 113.4C642.3 115.1 641.8 116.7 641.2 118.0C640.6 119.4 640.0 121.0 638.9 121.5C637.7 122.0 635.5 121.7 634.2 120.9C632.9 120.2 632.0 118.5 631.3 116.9C630.6 115.2 630.2 113.0 630.1 111.0C630.0 109.1 630.5 106.5 630.7 105.2C630.9 103.8 630.7 103.4 631.3 102.8Z" fill="#addce6"/><path d="M656.4 190.2C657.2 189.1 658.3 185.2 659.9 183.2C661.4 181.3 664.0 179.7 665.7 178.5C667.5 177.4 668.8 176.2 670.4 176.2C672.0 176.2 673.9 177.2 675.1 178.5C676.2 179.9 676.9 182.0 677.4 184.4C677.9 186.7 678.1 190.5 678.0 192.6C677.9 194.7 677.1 195.5 676.8 197.0C676.5 198.5 676.7 199.3 676.2 201.7C675.8 204.0 674.9 208.5 673.9 211.0C672.9 213.6 671.8 215.5 670.4 216.9C669.0 218.2 667.3 219.0 665.7 219.2C664.2 219.4 662.4 219.0 661.1 218.0C659.7 217.1 658.5 215.5 657.6 213.4C656.6 211.2 655.8 207.9 655.2 205.2C654.6 202.5 654.1 199.5 654.1 197.0C654.1 194.5 654.8 191.1 655.2 190.0C655.6 188.9 655.6 191.4 656.4 190.2Z" fill="#addce6"/><path d="M673.9 156.4L679.7 155.2L686.8 155.8L686.8 173.9L679.7 172.7L675.1 166.9L673.3 161.0Z" fill="#addce6"/><path d="M489.2 235.6L499.9 239.9L508.6 245.3L513.9 248.5L489.2 248.5Z" fill="#addce6"/><path d="M488.2 107.4L498.7 105.1L504.5 104.3L507.4 106.0L510.4 108.4L515.0 108.9L519.7 111.3L522.0 115.4L523.2 120.0L523.8 125.3L522.0 126.7L517.4 127.9L510.4 128.8L498.7 128.4L488.2 127.6Z" fill="#80d0e8"/><path d="M550.1 126.1C550.7 124.4 552.1 121.3 553.6 120.0C555.1 118.7 557.2 119.0 559.4 118.3C561.6 117.6 565.0 116.0 567.0 116.0C569.0 116.0 570.0 118.0 571.7 118.2C573.5 118.4 576.1 116.4 577.5 117.0C578.9 117.6 579.7 119.4 579.9 121.7C580.1 124.0 578.5 128.7 578.7 131.0C578.9 133.3 580.8 133.5 581.0 135.7C581.2 137.8 580.7 141.9 579.9 143.9C579.1 145.9 577.8 146.6 576.4 147.4C575.0 148.2 573.1 148.7 571.7 148.5C570.3 148.3 569.3 147.2 568.2 146.0C567.1 144.8 566.1 142.8 565.0 141.0C563.9 139.2 563.0 136.8 561.7 135.2C560.4 133.6 559.0 132.6 557.1 131.7C555.2 130.8 551.3 130.9 550.1 130.0C548.9 129.1 549.5 127.8 550.1 126.1Z" fill="#80d0e8"/><path d="M590.4 126.4L595.0 125.2L599.7 125.8L609.1 124.6L614.9 126.4L620.7 129.3L623.6 133.4L623.1 139.2L620.7 143.9L618.4 148.5L616.1 154.4L612.6 159.1L609.1 162.6L604.4 164.9L600.9 164.3L598.5 161.4L589.2 160.2L585.1 156.7L583.4 154.4L585.1 149.7L588.0 145.0L589.2 139.2L589.2 133.4L589.8 128.7Z" fill="#80d0e8"/><path d="M633.6 106.4C634.1 105.4 635.7 104.8 636.5 105.2C637.4 105.6 638.4 107.3 638.9 108.7C639.4 110.0 639.7 112.0 639.5 113.4C639.2 114.7 637.9 116.6 637.1 116.9C636.3 117.2 635.4 116.1 634.8 115.1C634.2 114.1 633.8 112.5 633.6 111.0C633.4 109.6 633.1 107.3 633.6 106.4Z" fill="#80d0e8"/><path d="M659.9 191.4C660.9 190.6 661.9 187.5 663.4 185.5C664.9 183.6 667.4 179.9 668.6 179.7C669.9 179.5 670.5 182.2 671.0 184.4C671.5 186.5 671.7 191.2 671.6 192.6C671.5 193.9 670.9 191.2 670.4 192.3C669.9 193.5 669.4 196.6 668.6 199.3C667.9 202.1 666.6 206.1 665.7 208.7C664.9 211.3 664.4 214.5 663.4 215.1C662.4 215.7 660.9 213.8 659.9 212.2C658.9 210.5 658.1 207.7 657.6 205.2C657.0 202.7 656.4 199.5 656.4 197.0C656.4 194.5 657.0 190.9 657.6 190.0C658.1 189.1 658.9 192.1 659.9 191.4Z" fill="#80d0e8"/><path d="M488.2 111.3L498.7 108.4L504.5 106.6L508.6 107.2L512.1 110.1L516.2 113.0L520.3 118.9L522.6 124.7L517.4 125.5L510.4 126.1L498.7 125.9L488.2 125.3Z" fill="#00ffff"/><path d="M557.1 120.6C557.7 119.5 560.4 119.6 561.7 119.5C563.0 119.4 563.4 119.5 564.7 119.9C566.0 120.3 568.1 120.8 569.3 121.7C570.5 122.6 571.7 123.8 571.7 125.2C571.7 126.6 570.1 128.5 569.3 129.9C568.5 131.3 567.9 132.7 567.0 133.9C566.1 135.2 565.0 137.8 564.1 137.4C563.2 137.0 562.7 133.6 561.7 131.7C560.7 129.8 559.0 127.8 558.2 125.9C557.4 124.1 556.5 121.7 557.1 120.6Z" fill="#00ffff"/><path d="M570.5 140.9C571.9 140.3 577.2 139.7 578.7 140.4C580.1 141.0 580.0 144.1 579.3 145.0C578.5 146.0 575.5 146.3 574.0 146.2C572.6 146.1 571.1 145.3 570.5 144.5C569.9 143.6 569.1 141.6 570.5 140.9Z" fill="#00ffff"/><path d="M593.3 137.4C594.5 136.6 596.7 136.7 598.5 136.3C600.4 135.9 602.4 135.8 604.4 135.1C606.3 134.4 608.5 132.4 610.2 132.2C612.0 132.0 613.8 133.0 614.9 133.9C616.0 134.9 616.4 136.4 616.6 138.0C616.8 139.7 616.7 142.1 616.1 143.9C615.4 145.6 614.1 147.4 612.6 148.5C611.0 149.7 609.2 150.6 606.7 150.9C604.2 151.2 599.6 151.1 597.4 150.3C595.1 149.5 594.3 147.7 593.3 146.2C592.3 144.7 591.5 143.0 591.5 141.5C591.5 140.1 592.1 138.3 593.3 137.4Z" fill="#00ffff"/><path d="M663.4 189.1C664.4 188.4 666.9 186.1 668.1 186.1C669.2 186.1 670.0 187.4 670.4 189.1C670.8 190.7 670.6 194.9 670.4 196.1C670.2 197.2 669.7 195.1 669.2 195.8C668.7 196.6 668.1 199.0 667.5 200.5C666.9 202.1 666.2 204.8 665.7 205.2C665.2 205.6 665.0 204.2 664.6 202.8C664.2 201.5 663.8 199.1 663.4 197.0C663.0 194.9 662.2 191.3 662.2 190.0C662.2 188.7 662.4 189.7 663.4 189.1Z" fill="#00ffff"/><path d="M504.5 112.4C505.1 111.6 506.5 111.7 507.4 111.3C508.4 110.9 509.4 110.1 510.4 110.1C511.3 110.1 512.5 110.4 513.3 111.3C514.1 112.2 514.4 113.9 515.0 115.4C515.6 116.8 517.0 119.0 516.8 120.0C516.6 121.1 515.1 121.4 513.9 121.8C512.6 122.2 510.6 122.6 509.2 122.4C507.8 122.2 506.6 121.6 505.7 120.6C504.8 119.6 504.1 117.9 503.9 116.5C503.7 115.2 503.9 113.3 504.5 112.4Z" fill="#5a8fe0"/><path d="M559.4 127.6C559.9 126.8 562.3 126.5 563.5 126.9C564.7 127.3 565.8 128.6 566.4 129.9C567.0 131.2 567.3 133.2 567.0 134.5C566.7 135.8 565.4 137.1 564.7 137.4C564.0 137.7 563.6 137.4 562.9 136.4C562.2 135.4 561.2 133.2 560.6 131.7C560.0 130.2 558.9 128.4 559.4 127.6Z" fill="#5a8fe0"/>
<path d="M527.4 30.4L529.0 30.1L532.6 32.2L535.1 31.9L536.9 32.5L541.0 30.7L545.1 28.5L550.2 27.3L555.6 27.3L562.5 27.0L567.9 25.8L570.7 26.7L568.9 27.3L569.7 28.5L569.7 30.4L570.7 32.2L570.2 33.8L568.4 36.2L570.7 37.1L572.0 38.4L576.4 39.3L581.2 40.8L582.5 43.3L585.1 44.5L588.7 46.3L591.2 47.3L594.1 45.7L593.8 41.7L596.4 39.6L598.2 39.3L600.5 39.6L602.0 41.4L604.1 41.7L607.1 43.3L612.3 43.9L616.6 45.4L619.2 44.5L622.0 43.3L625.3 44.2L625.8 48.2L626.1 51.2L627.6 54.3L629.2 56.8L630.5 60.5L632.0 63.5L633.5 66.6L634.0 69.7L636.6 72.1L637.4 75.8L637.9 80.1L638.4 82.2L641.2 85.0L643.0 89.6L643.8 92.4L646.3 94.8L648.9 97.9L652.2 100.3L653.5 101.9L653.3 104.0L652.0 104.6L653.5 105.2L655.3 108.0L657.9 108.3L660.9 107.1L663.0 106.2L668.6 105.6L672.0 104.0L674.0 103.7L673.8 108.0L672.7 111.1L671.5 113.8L670.2 115.7L668.6 119.4L666.8 124.0L664.8 127.0L663.0 129.5L660.4 132.6L658.6 134.1L656.6 135.6L654.0 138.4L651.5 141.4L649.2 145.4L647.4 147.3L645.6 148.8L645.3 150.3L644.3 152.5L642.8 155.9L642.0 158.6L643.5 161.1L643.5 164.8L644.0 167.8L644.5 170.9L646.1 172.4L646.6 175.5L646.3 180.1L647.1 184.7L646.3 188.1L644.8 190.2L642.0 193.0L637.4 195.4L635.6 197.9L633.5 199.7L631.7 201.3L631.5 203.4L633.0 206.2L633.5 209.2L633.5 213.5L632.8 215.7L628.7 217.5L626.4 219.7L626.9 222.4L626.4 226.1L624.8 228.6L622.0 232.0L619.9 235.3L616.9 239.0L614.1 241.5L610.5 243.9L608.2 244.5L605.3 245.1L602.8 244.8L599.2 245.1L593.8 247.0L590.7 245.8L589.7 244.2L588.7 240.9L589.5 237.5L586.9 232.3L584.8 228.0L582.3 224.6L581.2 221.8L580.5 216.9L579.7 213.9L579.7 210.5L577.1 204.6L574.6 198.5L572.8 193.3L572.8 189.3L573.8 186.9L574.6 181.6L576.9 178.9L577.9 174.0L577.9 170.9L575.9 167.8L576.6 166.3L575.4 161.7L574.1 158.9L573.8 157.1L572.8 154.9L570.7 152.2L568.2 148.8L566.4 146.0L565.1 142.4L566.6 139.6L567.2 137.2L567.7 134.4L567.7 133.2L567.9 131.3L567.4 128.3L565.6 127.6L564.3 126.1L563.1 126.4L560.5 126.7L557.9 127.0L556.4 124.9L555.4 122.4L554.1 120.9L551.3 120.6L548.7 120.9L545.6 121.5L542.0 123.3L539.5 124.6L537.2 125.8L534.6 124.6L532.3 124.3L527.2 125.5L522.8 126.7L519.5 124.9L514.9 120.9L513.1 119.1L510.5 117.5L508.7 114.1L507.4 111.1L505.4 108.6L504.1 106.5L502.6 103.7L499.8 102.2L500.0 99.1L499.5 97.3L497.7 95.1L500.3 91.1L501.6 84.7L501.0 80.7L499.0 76.4L499.2 74.9L500.3 71.8L501.8 67.5L504.1 64.4L505.4 60.1L508.2 57.1L509.5 54.6L513.1 53.4L516.4 50.0L518.0 47.0L517.4 43.9L519.0 41.1L523.1 37.1L525.1 35.9L526.7 32.8L527.4 30.4ZM668.9 177.0L670.4 181.6L672.0 187.8L671.2 189.3L669.9 187.8L669.1 192.4L669.1 196.1L667.6 201.6L665.6 207.7L663.5 213.9L663.0 216.9L658.4 218.8L655.3 216.9L654.5 212.0L653.5 207.7L654.0 205.6L656.1 202.5L656.3 198.5L655.3 193.9L656.6 189.9L661.2 188.4L663.8 185.6L665.6 182.6L667.6 178.6L668.9 177.0ZM625.3 44.2L629.2 44.8L630.5 43.9L631.7 41.7L632.2 39.6L633.5 36.2L634.3 34.7L634.3 31.3L635.3 27.9L633.5 27.9L631.2 27.3L629.2 29.2L626.6 29.8L623.3 27.6L621.2 27.0L620.2 28.9L617.1 27.9L615.1 27.3L612.8 26.7L612.3 24.2L611.2 22.4L610.2 20.6L609.7 19.0L609.7 17.5L609.7 12.9L686.1 12.9L686.1 58.0L683.5 58.3L679.7 58.3L677.1 55.8L674.5 54.9L672.7 51.6L672.0 49.7L669.4 47.6L666.8 48.2L665.6 50.0L666.8 52.8L667.6 55.2L669.7 57.4L670.9 59.2L671.2 62.0L672.7 64.1L672.7 62.0L673.8 60.1L674.8 61.1L674.8 63.8L674.0 65.1L674.8 66.0L677.1 66.0L682.0 65.1L686.1 61.7L686.1 85.6L683.5 86.8L681.2 88.1L678.6 89.1L676.3 91.1L676.3 92.4L672.0 94.2L668.4 95.7L665.6 97.3L661.7 99.1L657.9 100.9L654.0 101.3L653.3 99.4L652.5 94.8L652.2 92.7L651.5 88.1L648.9 84.4L645.8 80.4L642.8 74.3L641.2 69.7L639.9 66.3L636.1 60.5L632.8 54.3L632.2 49.7L631.0 52.8L630.2 55.2L627.6 52.8L626.4 49.7L625.8 48.2ZM519.7 12.9L519.7 17.5L518.5 21.5L520.0 22.4L519.5 26.7L522.3 26.7L524.9 26.1L526.4 28.2L528.2 29.8L529.0 29.5L531.3 27.6L536.4 27.3L537.4 27.6L540.2 24.9L541.3 22.7L543.1 21.5L541.8 19.0L542.6 17.5L544.6 12.9ZM548.7 18.7L550.5 17.8L551.3 18.4L550.5 19.6L549.0 19.3ZM545.6 20.9L546.7 20.3L546.4 21.2ZM564.1 12.9L564.1 20.6L565.6 20.9L567.2 20.0L567.4 12.9ZM574.3 23.6L576.6 23.0L582.5 22.7L581.2 26.7L581.0 27.6L578.4 26.4L574.6 24.9ZM582.5 12.9L582.5 17.5L583.8 20.6L582.8 23.6L583.8 23.9L585.1 22.4L586.4 20.6L584.8 18.4L586.1 16.0L588.7 17.8L590.0 17.2L588.7 12.9ZM592.3 12.9L592.3 17.5L595.6 21.2L596.6 22.7L597.1 24.6L598.2 27.3L600.0 28.2L601.0 27.3L602.0 28.5L601.8 25.8L604.1 24.6L604.1 23.0L601.5 20.9L601.2 19.6L600.5 17.5L602.8 16.6L604.1 17.5L605.3 12.9ZM602.8 31.3L605.3 31.6L610.0 32.2L606.6 32.8L603.0 32.2ZM625.3 32.8L627.1 31.9L631.2 31.0L629.4 32.8L627.1 34.1Z" fill="none" stroke="#000" stroke-width="1.55" stroke-linejoin="round"/>
<path d="M669.4 12.9L669.1 19.0L667.9 22.4L668.1 25.2L670.7 25.5L673.2 27.3L675.8 27.9L679.7 27.3L680.9 25.8L680.4 20.6L678.4 17.5L677.9 12.9ZM624.0 140.8L626.6 139.3L629.7 139.6L630.7 141.1L629.7 143.3L629.2 146.4L627.6 148.2L626.1 147.9L624.0 148.2L623.8 144.8ZM617.6 150.7L618.7 154.0L618.9 158.6L621.0 162.6L622.3 166.6L621.0 166.6L619.4 162.6L617.4 158.6L617.1 154.0ZM629.7 169.7L631.2 172.4L632.0 177.0L632.2 181.6L632.8 184.1L631.5 184.1L630.5 180.1L630.2 175.5L629.4 171.8Z" fill="none" stroke="#000" stroke-width="1.1" stroke-linejoin="round"/>
<path d="M536.9 32.5L537.9 34.4L538.2 36.8L538.2 39.9L539.5 41.4L535.1 42.0L533.3 43.0L533.1 45.4L529.7 48.2L527.9 49.4L524.6 49.7L520.3 52.2L520.3 56.5M520.3 55.3L508.7 55.3M520.3 56.5L520.3 60.5L511.8 60.5L511.8 68.3L509.2 69.7L509.0 74.8L499.0 74.8M520.3 56.5L530.3 63.5L545.6 75.5L545.6 76.7L550.8 79.5L551.0 81.9L553.4 81.5L557.4 80.4L561.8 76.1L573.3 68.1M530.3 63.5L525.9 63.5L528.2 89.6L529.0 90.2L528.5 92.7L518.5 92.7L515.1 93.0L513.1 92.7L511.3 94.8M500.3 90.8L501.6 89.6L504.1 89.0L506.7 89.6L508.5 91.1L511.3 94.8L511.8 98.8L513.3 102.2L511.0 102.5L507.4 101.3L504.1 101.3L499.8 102.3M499.5 98.5L502.8 97.9L507.2 98.8L507.2 99.7L502.8 99.4L499.8 100.0M507.4 101.3L507.4 104.3L504.9 104.9L504.1 106.6M508.5 112.6L510.5 109.8L513.9 109.5L515.4 112.3L516.2 114.1L515.4 115.7L513.1 119.1M516.2 114.1L518.2 114.4L518.7 117.5L520.8 116.9L521.3 120.9L523.3 122.4L523.3 126.9M520.8 116.9L521.5 114.1L522.8 112.6L522.1 108.9L521.3 106.5L519.5 102.5L516.4 102.8L513.3 102.2M522.1 108.9L526.7 107.7L528.5 108.3L530.5 110.5L535.6 111.1L536.1 115.1L534.4 119.4L535.4 124.6M535.6 111.1L535.4 106.5L542.6 106.2L543.8 109.5L543.8 114.1L544.1 118.7L545.6 121.5M542.6 106.2L544.9 106.5L546.1 111.1L546.7 121.2M544.9 106.5L547.7 105.2L548.7 103.7L551.8 104.3L552.3 108.0L549.7 112.6L549.5 117.2L549.5 120.6M528.5 108.3L529.0 104.0L531.3 101.9L532.3 99.1L534.9 98.2L537.4 96.7L540.8 93.9L543.1 94.2L543.6 97.3L545.1 100.3L547.9 101.3L548.7 103.7M543.1 94.2L551.5 93.0L553.3 89.9L553.4 81.5M573.3 68.1L572.0 65.7L568.9 65.1L566.9 59.5L567.9 55.8L567.7 53.4L567.9 51.2L566.9 47.6L568.9 45.4L568.9 43.0L572.0 40.8L572.0 38.5M566.9 47.6L565.9 41.7L561.8 36.5L563.8 33.8L563.6 28.2L564.6 27.0M573.3 68.1L578.9 70.9L581.0 69.7L604.1 80.4L604.1 78.9L606.6 78.9L606.6 72.7L606.6 50.6L605.9 47.9L607.0 43.1M606.6 72.7L637.1 72.7M581.0 69.7L583.3 77.6L582.3 88.4L577.4 98.2M551.8 104.3L552.5 100.9L553.1 98.8L556.6 97.6L560.0 100.0L563.1 99.4L565.6 100.9L569.5 99.4L574.6 100.0L577.4 98.2L578.7 100.0M578.7 100.0L578.9 102.2L580.0 104.9L577.9 106.5L576.4 110.8L575.4 113.2L573.8 114.4L572.8 118.7L571.0 120.3L569.5 118.7L567.7 119.4L566.4 121.2L565.1 122.4L564.6 125.5M578.7 100.0L579.7 100.9L581.2 103.1L581.0 106.8L582.3 109.5L578.9 109.5L578.2 110.8L581.5 115.7L582.3 117.2L579.5 121.8L580.0 124.9L581.0 127.9L584.1 133.5L583.6 135.0L579.7 133.5L576.6 133.5L571.5 133.5L567.7 133.2M571.5 133.5L571.5 137.2L567.7 137.2M576.6 133.5L576.4 136.2L579.5 136.2L579.7 137.5L578.2 140.2L579.7 141.8L579.5 145.7L579.5 147.3L575.9 147.6L574.6 146.4L572.5 147.6L572.3 149.4L573.0 151.3L571.0 152.2M573.3 155.6L574.8 153.7L576.1 154.3L574.6 156.2L574.6 157.7L573.8 157.9M576.1 154.3L578.4 153.7L579.5 155.3L581.5 153.4L583.6 149.4L584.1 146.4L586.1 143.3L588.2 141.8L588.2 138.7L588.9 134.1L590.2 129.5M584.1 133.5L585.1 129.5L590.2 129.5L590.2 126.7L592.5 124.6L595.1 126.4L600.0 127.6L601.2 125.5L605.1 124.6L607.4 124.9L612.8 124.6M582.3 117.2L584.8 116.6L587.9 116.0L590.2 115.7L591.2 112.6L594.8 112.3L598.2 107.7L601.2 106.5L600.2 101.6L598.7 101.3L599.7 99.1L599.2 97.3L600.2 96.7L601.2 92.4L604.1 92.1L604.1 80.4M601.2 106.5L603.3 112.6L605.3 114.1L607.4 117.2L610.2 120.3L612.8 124.6L615.3 127.0L618.2 126.4L621.5 129.5L624.3 129.2L627.1 128.3L629.7 127.3L634.6 126.1M634.6 126.1L633.0 123.7L631.5 119.7L627.1 115.7L629.9 114.1L630.5 108.0L632.2 106.5L635.1 101.3L636.1 96.3L636.1 94.2L637.4 88.1L641.5 85.0M636.1 96.3L639.7 94.5L642.5 95.4L645.1 95.7L647.6 98.8L651.2 101.9L653.0 101.3M651.2 101.9L649.7 106.5L652.5 106.8L653.4 104.9M652.5 106.8L652.0 107.7L655.3 112.6L663.0 115.7L665.6 115.7L657.9 124.9L652.7 126.1L649.9 128.1L647.1 127.3L643.8 129.8L639.9 129.2L637.1 126.7L634.8 126.7L634.6 126.1M649.9 128.1L647.6 131.6L647.6 142.7L649.2 145.4M629.7 127.3L630.7 128.9L632.2 134.4L631.0 136.8L629.7 139.6L629.4 143.3L638.9 149.4L639.4 151.6L643.0 154.6M629.4 143.3L620.7 143.3L618.4 144.5L618.4 141.8L619.2 138.7L620.7 136.5L622.8 133.5L621.5 129.5M620.7 143.3L621.5 147.6L619.4 147.6L616.9 148.5L617.4 145.4L618.4 144.5M621.5 147.6L621.5 150.3L619.4 153.4L617.9 153.9L617.4 150.3L616.9 148.5M617.9 153.9L618.4 158.6L620.7 163.2L621.5 165.4L624.6 167.8L626.9 169.1L629.4 169.4L631.0 175.5L634.3 175.5L638.7 176.1L641.2 174.9L646.1 172.4M631.2 175.8L630.7 177.6L632.0 181.6L634.6 185.3L634.3 189.3L633.0 192.7L630.7 190.2L630.7 184.7L627.9 183.2L626.4 181.9L627.1 177.0L627.9 173.4L626.9 169.1M627.9 183.2L623.3 185.0L619.9 185.6L620.5 188.1M621.5 165.4L616.6 166.3L615.3 168.8L616.1 173.0L615.3 176.7L616.9 178.3L618.9 177.6L618.9 181.3L615.3 178.6L612.3 175.8L609.2 176.7L607.4 174.6L605.1 175.2L604.1 173.7M604.1 173.7L604.1 180.1L598.9 180.1L598.9 189.9L602.5 194.2M574.1 158.9L576.4 158.3L585.1 158.3L586.1 161.7L587.7 165.1L592.3 164.8L592.3 161.7L595.3 161.7L598.4 162.6L598.7 169.4L599.7 174.6L603.8 173.7M572.7 193.1L575.9 192.4L578.4 193.6L590.0 193.6L597.4 195.4L602.5 194.2L607.4 194.8M607.4 194.8L605.3 195.4L602.3 195.4L596.4 196.4L596.4 207.7L593.8 207.7L593.8 216.3L593.8 227.4L591.2 228.9L587.4 228.3L584.8 228.0M593.8 216.3L595.6 222.4L598.2 222.4L601.5 217.8L608.2 218.8L611.5 213.9L614.1 210.8L617.9 208.3L614.3 206.2L613.5 203.1L609.7 200.0L607.4 194.8M607.4 194.8L611.7 195.1L616.4 190.8L620.5 188.1L622.8 189.3L626.9 191.5L627.1 195.4L626.4 198.5L627.1 201.0L625.8 205.6L622.8 208.9L617.9 208.3M622.8 208.9L624.6 215.4L624.4 219.8L624.8 222.4L626.9 222.6M624.4 219.8L623.0 219.1L621.7 220.0L621.5 222.4L622.8 224.0L624.8 222.4M611.7 231.0L613.0 233.2L614.8 234.1L617.1 232.0L617.9 230.4L616.6 228.6L614.8 228.0L613.0 229.2L611.7 231.0M630.2 44.2L632.0 49.7M632.2 49.7L633.5 43.6L633.8 39.9L636.9 41.1L642.0 37.7L647.6 34.7L648.4 28.2L651.2 26.4L657.4 26.1L658.9 29.8L660.4 32.2L658.9 35.9L660.4 39.0L665.0 42.0L664.8 45.1L666.8 48.2M632.2 50.0L635.1 50.6L638.7 48.2L639.9 46.6L637.4 43.6L642.5 42.0L643.0 41.4L642.0 37.7M643.0 41.4L646.1 42.4L650.2 44.8L657.1 50.6L661.5 50.9L664.8 52.8L666.6 52.8M662.0 50.9L663.0 48.2L665.3 48.2M634.8 29.8L636.6 27.3L639.9 27.3L645.1 27.3L651.2 26.4M632.5 38.7L634.6 37.7L636.3 35.3L634.8 34.1M657.4 26.1L656.1 22.1L655.3 19.3L657.4 18.4L661.7 20.9L665.6 19.0L666.6 22.1L667.9 22.4M652.2 89.9L653.5 86.5L656.6 86.8L661.7 87.5L664.3 88.1L666.8 84.4L675.8 81.9L678.6 89.1M675.8 81.9L683.5 78.9L685.3 72.7L684.0 70.6L677.3 70.0L674.8 66.0M672.7 64.4L674.0 65.1M523.6 26.1L524.6 23.0L523.8 19.0L524.9 17.5L524.9 12.9" fill="none" stroke="#000" stroke-width="1.15" stroke-linejoin="round"/>
<path d="M601.5 28.9L603.0 31.0L605.3 32.1L607.9 32.4L610.0 32.1L612.0 31.0L614.3 29.2" fill="none" stroke="#000" stroke-width="2.0" stroke-linecap="round" stroke-linejoin="round"/>
<path d="M604.8 27.5L607.6 28.4L610.2 27.9L611.7 26.9" fill="none" stroke="#000" stroke-width="1.7" stroke-linecap="round" stroke-linejoin="round"/>
<path d="M602.5 20.6L604.3 22.1L605.6 23.6" fill="none" stroke="#000" stroke-width="2.2" stroke-linecap="round" stroke-linejoin="round"/>
<path d="M606.1 23.9L607.4 25.5L607.9 26.7" fill="none" stroke="#000" stroke-width="2.0" stroke-linecap="round" stroke-linejoin="round"/>
<path d="M604.1 24.6L605.1 25.8" fill="none" stroke="#000" stroke-width="1.8" stroke-linecap="round" stroke-linejoin="round"/>
<path d="M608.9 21.8L609.4 23.0" fill="none" stroke="#000" stroke-width="1.8" stroke-linecap="round" stroke-linejoin="round"/>
<path d="M610.7 24.2L611.7 24.6" fill="none" stroke="#000" stroke-width="1.8" stroke-linecap="round" stroke-linejoin="round"/>
<path d="M606.6 17.8L607.6 17.8" fill="none" stroke="#000" stroke-width="1.8" stroke-linecap="round" stroke-linejoin="round"/>
<path d="M605.3 17.5L605.9 15.7" fill="none" stroke="#000" stroke-width="1.6" stroke-linecap="round" stroke-linejoin="round"/>
<path d="M601.0 25.2L602.0 24.9L602.8 23.9" fill="none" stroke="#000" stroke-width="1.8" stroke-linecap="round" stroke-linejoin="round"/>
<path d="M598.9 22.7L601.2 23.3L602.0 23.6" fill="none" stroke="#000" stroke-width="1.6" stroke-linecap="round" stroke-linejoin="round"/>
<path d="M497.2 38.4h4.0v1.8h-4.0zM498.9 52.6h2.2v1.5h-2.2zM501.7 53.6h1.8v1.5h-1.8zM505.8 51.3h1.3v3.0h-1.3zM507.1 50.1h1.3v1.6h-1.3zM495.9 51.4h1.5v1.5h-1.5zM498.0 53.5h1.0v1.0h-1.0zM558.7 138.5h1.6v1.6h-1.6zM560.9 134.7h1.3v1.3h-1.3zM563.8 128.3h2.0v2.4h-2.0zM556.3 143.9h1.2v1.2h-1.2zM527.2 188.4h1.5v1.3h-1.5zM504.9 163.8h1.5v1.3h-1.5zM652.7 175.2h1.6v1.8h-1.6zM655.6 177.0h1.5v1.2h-1.5zM657.4 178.7h1.5v1.5h-1.5zM643.7 155.2h1.2v2.0h-1.2zM642.7 157.8h1.2v2.2h-1.2zM643.7 163.8h1.2v1.4h-1.2zM678.2 101.1h4.5v1.6h-4.5zM660.3 168.5h1.2v1.2h-1.2zM613.3 28.4h2.0v1.6h-2.0zM611.3 26.4h1.5v1.3h-1.5zM610.6 23.9h1.8v1.3h-1.8zM608.4 21.4h1.6v2.0h-1.6zM608.8 19.2h2.4v1.6h-2.4zM602.9 20.2h1.8v3.2h-1.8zM605.9 25.7h2.4v2.0h-2.4zM604.8 23.2h1.5v1.5h-1.5zM600.8 28.5h1.3v1.3h-1.3zM606.7 27.9h1.3v1.2h-1.3zM605.6 17.2h1.5v1.3h-1.5zM592.6 17.7h1.4v2.0h-1.4zM594.6 22.1h1.5v1.8h-1.5zM595.3 23.6h1.2v1.2h-1.2zM552.2 17.1h1.8v1.2h-1.8zM578.7 29.4h1.5v1.3h-1.5zM569.7 35.8h1.6v1.4h-1.6zM572.7 26.8h1.2v1.0h-1.2zM574.3 30.8h1.0v1.0h-1.0zM658.4 23.1h1.6v3.0h-1.6zM651.4 21.0h2.6v1.6h-2.6zM619.9 49.2h2.2v1.3h-2.2zM625.8 67.2h1.2v3.0h-1.2zM626.3 70.7h1.2v1.6h-1.2zM652.5 35.8h1.6v3.2h-1.6zM653.1 39.1h1.3v1.6h-1.3zM633.1 42.9h0.9v2.0h-0.9zM637.1 102.3h2.0v2.2h-2.0zM577.3 98.8h2.2v1.8h-2.2zM527.0 114.7h2.4v4.4h-2.4zM540.9 114.6h1.8v4.6h-1.8zM542.1 119.0h1.5v2.0h-1.5zM553.7 107.4h1.2v2.4h-1.2zM634.4 127.0h1.3v4.4h-1.3zM621.2 133.6h1.6v2.8h-1.6zM617.7 140.5h1.4v1.8h-1.4zM616.7 145.3h1.3v2.2h-1.3zM615.2 166.7h1.8v2.2h-1.8zM618.0 173.8h1.8v1.5h-1.8zM624.3 164.1h2.0v1.3h-2.0zM612.6 191.8h3.0v1.2h-3.0zM621.8 187.8h3.0v1.1h-3.0zM613.8 222.1h2.0v1.3h-2.0zM607.5 224.6h1.8v1.2h-1.8zM607.2 233.5h2.0v1.2h-2.0zM605.3 231.7h1.6v1.2h-1.6zM626.4 145.7h1.5v1.3h-1.5zM624.7 141.4h1.3v1.3h-1.3zM626.6 135.0h2.0v1.3h-2.0zM633.7 150.5h1.2v1.6h-1.2zM619.4 160.9h1.0v1.0h-1.0zM586.3 142.1h1.2v1.2h-1.2zM588.7 145.4h1.6v1.3h-1.6zM601.3 135.7h2.0v1.0h-2.0zM595.4 135.4h2.0v1.0h-2.0zM590.4 135.1h1.6v1.0h-1.6zM611.6 166.3h1.3v1.3h-1.3z" fill="#000"/>
</g>
<rect x="491.3" y="17.5" width="192.2" height="230.1" fill="none" stroke="#1a1a1a" stroke-width="1.15"/>
<path d="M491.3 17.5h-2.8" stroke="#000" stroke-width="1.2"/>
<text class="ax" x="474.8" y="20.5" textLength="11.9" lengthAdjust="spacingAndGlyphs">40N</text>
<path d="M491.3 48.2h-2.8" stroke="#000" stroke-width="1.2"/>
<text class="ax" x="474.8" y="51.2" textLength="11.9" lengthAdjust="spacingAndGlyphs">30N</text>
<path d="M491.3 78.9h-2.8" stroke="#000" stroke-width="1.2"/>
<text class="ax" x="474.8" y="81.9" textLength="11.9" lengthAdjust="spacingAndGlyphs">20N</text>
<path d="M491.3 109.5h-2.8" stroke="#000" stroke-width="1.2"/>
<text class="ax" x="474.8" y="112.5" textLength="11.9" lengthAdjust="spacingAndGlyphs">10N</text>
<path d="M491.3 140.2h-2.8" stroke="#000" stroke-width="1.2"/>
<text class="ax" x="478.8" y="143.2" textLength="7.9" lengthAdjust="spacingAndGlyphs">EQ</text>
<path d="M491.3 170.9h-2.8" stroke="#000" stroke-width="1.2"/>
<text class="ax" x="474.8" y="173.9" textLength="11.9" lengthAdjust="spacingAndGlyphs">10S</text>
<path d="M491.3 201.6h-2.8" stroke="#000" stroke-width="1.2"/>
<text class="ax" x="474.8" y="204.6" textLength="11.9" lengthAdjust="spacingAndGlyphs">20S</text>
<path d="M491.3 232.3h-2.8" stroke="#000" stroke-width="1.2"/>
<text class="ax" x="474.8" y="235.3" textLength="11.9" lengthAdjust="spacingAndGlyphs">30S</text>
<path d="M491.3 247.6v2.6" stroke="#000" stroke-width="1.2"/>
<text class="ax" x="485.4" y="256.9" textLength="11.9" lengthAdjust="spacingAndGlyphs">20W</text>
<path d="M542.6 247.6v2.6" stroke="#000" stroke-width="1.2"/>
<text class="ax" x="540.8" y="256.9" textLength="3.6" lengthAdjust="spacingAndGlyphs">0</text>
<path d="M593.8 247.6v2.6" stroke="#000" stroke-width="1.2"/>
<text class="ax" x="587.9" y="256.9" textLength="11.9" lengthAdjust="spacingAndGlyphs">20E</text>
<path d="M645.1 247.6v2.6" stroke="#000" stroke-width="1.2"/>
<text class="ax" x="639.1" y="256.9" textLength="11.9" lengthAdjust="spacingAndGlyphs">40E</text>
<text class="ti" x="576.2" y="11.8" textLength="25.8" lengthAdjust="spacingAndGlyphs">GPCP</text>
<text class="lab" x="489.1" y="9.8">(c)</text>
<g clip-path="url(#cfd)">
<path d="M13.2 363.3L23.7 363.8L35.4 364.4L47.0 365.0L58.7 366.2L70.4 366.8L82.1 367.9L92.0 369.1L130.0 374.7L137.0 374.1L145.2 372.9L152.2 370.6L156.9 368.3L161.5 365.9L166.2 365.3L170.9 367.7L175.0 372.3L177.9 375.8L179.6 380.5L181.4 386.4L180.8 389.9L179.1 393.4L177.9 398.0L178.5 402.7L180.2 407.4L184.9 409.7L189.6 406.2L193.1 400.4L196.6 393.4L200.1 386.4L204.7 380.5L214.1 375.8L215.0 525.0L10.0 525.0Z" fill="#ffff00"/><path d="M14.2 427.1L22.8 423.5L33.6 422.0L44.3 422.0L55.1 423.5L65.9 425.6L76.7 429.9L85.3 435.3L91.7 441.8L97.1 449.3L100.4 455.8L103.6 459.0L103.7 454.7L104.9 461.7L107.2 467.5L110.1 473.4L114.2 478.0L118.9 481.5L121.2 485.0L124.7 489.7L125.9 494.4L128.2 499.1L129.4 504.9L131.1 508.1L132.9 517.7L112.0 521.3L98.2 519.8L87.4 517.2L76.7 513.3L65.9 508.6L55.1 503.2L44.3 497.8L33.6 492.4L24.9 488.1L14.2 483.8Z" fill="#ffffff"/><path d="M14.9 287.9L16.4 309.8L22.2 309.1L28.1 306.2L33.9 302.2L39.7 304.0L44.1 306.9L48.5 309.8L54.3 311.3L58.7 308.4L61.6 304.0L67.5 301.1L76.2 299.6L87.9 300.3L93.8 303.2L99.6 305.4L112.0 306.2L115.8 306.9L121.7 309.1L127.5 306.9L133.4 306.2L139.2 309.1L148.0 309.8L156.7 310.5L160.4 306.9L164.0 302.5L169.9 300.3L175.7 299.6L180.1 302.5L185.9 308.4L191.8 311.0L197.6 306.9L203.4 302.5L201.2 297.4L198.3 290.8L198.3 287.9Z" fill="#ffff00"/><path d="M59.0 304.3C59.0 303.1 61.7 298.1 63.1 296.7C64.5 295.2 66.5 295.0 67.5 295.5C68.4 296.0 69.3 298.2 68.6 299.6C68.0 301.0 65.0 303.2 63.4 304.0C61.8 304.8 59.1 305.5 59.0 304.3Z" fill="#ffffff"/><path d="M13.2 372.2L21.3 371.4L24.8 370.8L37.1 369.7L47.0 370.3L52.9 371.4L58.7 371.4L70.4 372.0L77.4 372.6L84.4 374.4L92.0 375.5L130.0 383.4L137.0 384.6L145.2 383.4L152.2 380.5L156.3 377.0L159.2 374.1L163.9 372.3L168.5 374.1L170.9 378.2L172.0 384.0L170.9 389.9L168.5 394.5L165.0 398.0L160.4 399.2L156.9 399.8L156.9 401.5L157.4 407.4L159.2 412.1L162.7 416.7L165.0 421.4L169.7 426.1L174.4 422.0L182.6 419.1L193.1 415.6L200.1 412.1L203.6 403.9L204.7 395.7L207.1 389.9L214.1 386.4L215.0 525.0L143.4 524.8L143.4 508.1L146.9 501.4L150.4 495.6L151.6 489.7L149.2 483.9L150.4 479.2L152.7 473.4L152.2 466.4L148.1 462.9L143.4 460.5L137.6 462.9L131.7 464.6L123.5 465.2L115.4 464.0L109.5 460.5L106.0 454.7L102.5 448.8L100.2 443.0L105.8 452.6L102.5 445.0L98.2 437.5L92.8 431.0L85.3 424.6L76.7 419.2L65.9 414.9L55.1 412.1L44.3 411.2L33.6 411.6L24.9 412.7L14.2 415.3Z" fill="#c8ff00"/><path d="M14.2 493.1L24.9 497.8L33.6 502.1L44.3 508.6L55.1 514.0L65.9 519.4L71.3 522.0L14.2 522.0Z" fill="#c8ff00"/><path d="M165.0 486.4C165.8 484.5 167.8 485.6 169.7 484.6C171.7 483.6 175.2 480.4 176.7 480.5C178.3 480.6 178.9 483.4 179.1 485.2C179.2 486.9 178.9 489.5 177.9 491.0C176.9 492.6 174.8 493.0 173.2 494.5C171.7 496.1 169.9 500.2 168.5 500.4C167.2 500.6 165.6 498.0 165.0 495.7C164.5 493.4 164.3 488.2 165.0 486.4Z" fill="#ffff00"/><path d="M172.0 410.7L176.7 420.0L180.2 427.0L186.1 428.2L193.1 424.7L200.1 421.2L207.1 417.7L214.1 415.3Z" fill="#ffff00"/><path d="M13.2 377.3L23.7 376.7L28.4 376.1L33.0 376.7L38.9 379.6L45.9 380.2L48.2 382.5L51.7 382.5L58.7 384.3L61.1 386.0L66.9 383.7L75.1 382.5L79.7 381.4L86.7 380.2L92.0 380.8L102.5 384.2L106.6 387.7L111.9 388.3L120.0 387.1L127.0 386.5L131.7 388.8L136.4 392.3L141.1 395.8L145.7 399.4L150.4 402.3L155.1 404.6L156.2 409.9L153.9 414.5L148.1 416.9L144.6 418.0L143.4 423.9L142.2 429.7L141.1 434.4L139.9 441.4L141.1 448.1L139.9 445.3L135.2 448.3L129.4 447.7L123.5 450.0L117.7 451.2L111.9 449.4L107.2 446.5L103.7 443.0L106.8 446.1L104.7 439.6L100.4 433.2L93.9 425.6L85.3 418.5L76.7 413.8L65.9 409.5L55.1 407.3L33.6 406.9L14.2 409.5Z" fill="#addce6"/><path d="M156.3 385.2C156.2 382.9 159.3 378.7 160.9 378.8C162.6 378.9 166.1 383.4 166.2 385.8C166.3 388.1 163.2 392.9 161.5 392.8C159.9 392.7 156.4 387.5 156.3 385.2Z" fill="#addce6"/><path d="M14.2 503.9L24.9 509.7L33.6 515.1L41.1 522.0L14.2 522.0Z" fill="#addce6"/><path d="M214.1 418.3L204.7 422.3L197.7 427.0L191.9 432.9L190.7 439.9L187.2 446.9L181.4 453.9L177.9 462.1L179.1 467.9L180.2 467.7L182.6 480.5L184.9 492.2L188.4 496.9L195.4 497.5L201.2 494.5L203.6 486.4L204.7 474.7L214.1 463.0Z" fill="#addce6"/><path d="M141.7 411.8L140.5 420.0L138.2 427.0L140.5 432.9L139.3 439.9L134.7 444.5L128.8 446.9L128.8 411.8Z" fill="#addce6"/><path d="M13.2 381.9L23.7 381.4L29.5 380.8L32.4 381.9L35.4 385.4L40.0 386.6L45.9 389.5L48.2 396.5L49.4 398.9L58.7 399.1L70.4 398.9L77.4 398.3L82.1 396.5L92.0 390.7L92.0 416.4L86.7 410.6L82.1 407.1L72.7 405.9L63.4 405.9L56.4 404.1L50.5 403.0L47.0 403.5L35.4 404.1L23.7 404.9L13.2 405.3Z" fill="#80d0e8"/><path d="M81.5 390.0L85.0 387.7L92.0 386.5L99.0 390.0L104.9 392.3L105.4 398.2L104.9 404.0L108.4 406.4L112.4 411.0L114.2 406.4L115.4 400.5L117.7 397.6L124.7 398.8L134.1 397.6L139.9 399.4L144.6 402.9L146.3 408.7L144.6 414.5L142.2 420.4L139.9 426.2L136.4 430.9L131.7 433.2L127.0 434.4L120.0 432.1L114.2 430.9L110.1 428.5L104.9 426.2L99.0 423.9L94.3 420.4L89.7 416.9L85.0 413.4L81.5 408.7Z" fill="#80d0e8"/><path d="M214.1 425.8L204.7 430.5L200.1 436.4L197.7 443.4L195.4 450.4L191.9 455.0L187.2 462.1L184.9 467.9L183.7 470.0L184.9 472.3L187.2 481.7L189.6 488.7L193.1 491.0L196.6 489.9L200.1 484.0L201.8 473.5L203.0 463.0L214.1 458.3Z" fill="#80d0e8"/><path d="M159.8 384.0C159.8 383.3 160.9 382.6 161.3 382.9C161.7 383.1 162.5 384.7 162.5 385.4C162.4 386.1 161.4 387.2 160.9 386.9C160.5 386.7 159.7 384.7 159.8 384.0Z" fill="#80d0e8"/><path d="M13.2 385.7L23.7 385.1L29.5 384.3L33.6 385.4L37.1 388.4L41.2 391.9L45.9 396.5L48.2 398.9L50.5 401.8L47.0 401.0L42.4 400.6L35.4 401.8L23.7 402.7L13.2 403.0Z" fill="#00ffff"/><path d="M77.4 396.5L82.1 393.0L92.0 391.3L92.0 409.4L86.7 407.1L82.1 404.7L78.6 401.2Z" fill="#00ffff"/><path d="M85.0 391.2L92.0 391.2L96.7 391.8L99.0 395.8L97.8 401.7L96.7 406.4L92.0 407.5L88.5 412.8L85.0 412.2Z" fill="#00ffff"/><path d="M120.0 415.7C120.4 414.9 122.0 414.1 123.5 413.4C125.1 412.6 127.6 411.9 129.4 411.0C131.1 410.2 132.7 408.5 134.1 408.1C135.4 407.7 136.9 407.8 137.6 408.7C138.2 409.6 138.3 411.8 138.1 413.4C137.9 414.9 137.5 416.9 136.4 418.0C135.3 419.2 133.5 420.1 131.7 420.4C130.0 420.7 127.6 420.2 125.9 419.8C124.1 419.4 122.2 418.7 121.2 418.0C120.2 417.4 119.6 416.5 120.0 415.7Z" fill="#00ffff"/><path d="M188.4 463.2C189.0 462.3 190.7 459.3 191.9 457.4C193.1 455.4 194.2 452.1 195.4 451.5C196.6 451.0 197.9 452.5 198.9 453.9C199.9 455.2 201.0 457.4 201.2 459.7C201.4 462.1 200.7 466.2 200.1 467.9C199.5 469.6 198.5 467.9 197.7 470.0C197.0 472.1 196.1 477.6 195.4 480.5C194.7 483.4 194.2 486.6 193.6 487.5C193.1 488.5 192.5 488.5 191.9 486.4C191.3 484.2 190.7 478.6 190.1 474.7C189.6 470.8 188.7 464.9 188.4 463.0C188.1 461.1 187.8 464.2 188.4 463.2Z" fill="#00ffff"/><path d="M128.8 416.5L134.7 416.5L135.3 421.2L128.8 421.8Z" fill="#00ffff"/><path d="M13.2 390.1L23.7 390.7L30.7 391.9L34.2 393.6L31.9 396.5L28.4 398.9L23.7 401.8L13.2 402.6Z" fill="#5a8fe0"/><path d="M82.3 395.5L87.3 393.7L92.6 394.6L94.0 400.0L94.4 407.1L92.6 415.2L90.0 413.4L86.8 408.9L84.1 403.5L81.9 399.1Z" fill="#5a8fe0"/><path d="M85.0 400.0L91.8 399.1L93.1 403.5L92.6 408.9L90.0 409.8L87.3 405.3Z" fill="#0a6aa5"/><path d="M197.2 461.5C197.6 461.0 199.6 461.0 200.1 461.5C200.6 462.0 200.6 463.9 200.1 464.4C199.6 464.9 197.6 464.9 197.2 464.4C196.7 463.9 196.7 462.0 197.2 461.5Z" fill="#5a8fe0"/>
<path d="M52.7 303.4L54.3 303.1L57.9 305.2L60.4 304.9L62.2 305.5L66.3 303.7L70.4 301.5L75.5 300.3L80.9 300.3L87.8 300.0L93.2 298.8L96.0 299.7L94.2 300.3L95.0 301.5L95.0 303.4L96.0 305.2L95.5 306.8L93.7 309.2L96.0 310.1L97.3 311.4L101.7 312.3L106.5 313.8L107.8 316.3L110.4 317.5L114.0 319.3L116.5 320.3L119.4 318.7L119.1 314.7L121.7 312.6L123.5 312.3L125.8 312.6L127.3 314.4L129.4 314.7L132.4 316.3L137.6 316.9L141.9 318.4L144.5 317.5L147.3 316.3L150.6 317.2L151.1 321.2L151.4 324.2L152.9 327.3L154.5 329.8L155.8 333.5L157.3 336.5L158.8 339.6L159.3 342.7L161.9 345.1L162.7 348.8L163.2 353.1L163.7 355.2L166.5 358.0L168.3 362.6L169.1 365.4L171.6 367.8L174.2 370.9L177.5 373.3L178.8 374.9L178.6 377.0L177.3 377.6L178.8 378.2L180.6 381.0L183.2 381.3L186.2 380.1L188.3 379.2L193.9 378.6L197.3 377.0L199.3 376.7L199.1 381.0L198.0 384.1L196.8 386.8L195.5 388.7L193.9 392.4L192.1 397.0L190.1 400.0L188.3 402.5L185.7 405.6L183.9 407.1L181.9 408.6L179.3 411.4L176.8 414.4L174.5 418.4L172.7 420.3L170.9 421.8L170.6 423.3L169.6 425.5L168.1 428.9L167.3 431.6L168.8 434.1L168.8 437.8L169.3 440.8L169.8 443.9L171.4 445.4L171.9 448.5L171.6 453.1L172.4 457.7L171.6 461.1L170.1 463.2L167.3 466.0L162.7 468.4L160.9 470.9L158.8 472.7L157.0 474.3L156.8 476.4L158.3 479.2L158.8 482.2L158.8 486.5L158.1 488.7L154.0 490.5L151.7 492.7L152.2 495.4L151.7 499.1L150.1 501.6L147.3 505.0L145.2 508.3L142.2 512.0L139.4 514.5L135.8 516.9L133.5 517.5L130.6 518.1L128.1 517.8L124.5 518.1L119.1 520.0L116.0 518.8L115.0 517.2L114.0 513.9L114.8 510.5L112.2 505.3L110.1 501.0L107.6 497.6L106.5 494.8L105.8 489.9L105.0 486.9L105.0 483.5L102.4 477.6L99.9 471.5L98.1 466.3L98.1 462.3L99.1 459.9L99.9 454.6L102.2 451.9L103.2 447.0L103.2 443.9L101.2 440.8L101.9 439.3L100.7 434.7L99.4 431.9L99.1 430.1L98.1 427.9L96.0 425.2L93.5 421.8L91.7 419.0L90.4 415.4L91.9 412.6L92.5 410.2L93.0 407.4L93.0 406.2L93.2 404.3L92.7 401.3L90.9 400.6L89.6 399.1L88.4 399.4L85.8 399.7L83.2 400.0L81.7 397.9L80.7 395.4L79.4 393.9L76.6 393.6L74.0 393.9L70.9 394.5L67.3 396.3L64.8 397.6L62.5 398.8L59.9 397.6L57.6 397.3L52.5 398.5L48.1 399.7L44.8 397.9L40.2 393.9L38.4 392.1L35.8 390.5L34.0 387.1L32.7 384.1L30.7 381.6L29.4 379.5L27.9 376.7L25.1 375.2L25.3 372.1L24.8 370.3L23.0 368.1L25.6 364.1L26.9 357.7L26.3 353.7L24.3 349.4L24.5 347.9L25.6 344.8L27.1 340.5L29.4 337.4L30.7 333.1L33.5 330.1L34.8 327.6L38.4 326.4L41.7 323.0L43.3 320.0L42.7 316.9L44.3 314.1L48.4 310.1L50.4 308.9L52.0 305.8L52.7 303.4ZM194.2 450.0L195.7 454.6L197.3 460.8L196.5 462.3L195.2 460.8L194.4 465.4L194.4 469.1L192.9 474.6L190.9 480.7L188.8 486.9L188.3 489.9L183.7 491.8L180.6 489.9L179.8 485.0L178.8 480.7L179.3 478.6L181.4 475.5L181.6 471.5L180.6 466.9L181.9 462.9L186.5 461.4L189.1 458.6L190.9 455.6L192.9 451.6L194.2 450.0ZM150.6 317.2L154.5 317.8L155.8 316.9L157.0 314.7L157.5 312.6L158.8 309.2L159.6 307.7L159.6 304.3L160.6 300.9L158.8 300.9L156.5 300.3L154.5 302.2L151.9 302.8L148.6 300.6L146.5 300.0L145.5 301.9L142.4 300.9L140.4 300.3L138.1 299.7L137.6 297.2L136.5 295.4L135.5 293.6L135.0 292.0L135.0 290.5L135.0 285.9L211.4 285.9L211.4 331.0L208.8 331.3L205.0 331.3L202.4 328.9L199.8 327.9L198.0 324.6L197.3 322.7L194.7 320.6L192.1 321.2L190.9 323.0L192.1 325.8L192.9 328.2L195.0 330.4L196.2 332.2L196.5 335.0L198.0 337.1L198.0 335.0L199.1 333.1L200.1 334.1L200.1 336.8L199.3 338.1L200.1 339.0L202.4 339.0L207.3 338.1L211.4 334.7L211.4 358.6L208.8 359.8L206.5 361.1L203.9 362.1L201.6 364.1L201.6 365.4L197.3 367.2L193.7 368.7L190.9 370.3L187.0 372.1L183.2 373.9L179.3 374.3L178.6 372.4L177.8 367.8L177.5 365.7L176.8 361.1L174.2 357.4L171.1 353.4L168.1 347.3L166.5 342.7L165.2 339.3L161.4 333.5L158.1 327.3L157.5 322.7L156.3 325.8L155.5 328.2L152.9 325.8L151.7 322.7L151.1 321.2ZM45.0 285.9L45.0 290.5L43.8 294.5L45.3 295.4L44.8 299.7L47.6 299.7L50.2 299.1L51.7 301.2L53.5 302.8L54.3 302.5L56.6 300.6L61.7 300.3L62.7 300.6L65.5 297.9L66.6 295.7L68.4 294.5L67.1 292.0L67.9 290.5L69.9 285.9ZM74.0 291.7L75.8 290.8L76.6 291.4L75.8 292.6L74.3 292.3ZM70.9 293.9L72.0 293.3L71.7 294.2ZM89.4 285.9L89.4 293.6L90.9 293.9L92.5 293.0L92.7 285.9ZM99.6 296.6L101.9 296.0L107.8 295.7L106.5 299.7L106.3 300.6L103.7 299.4L99.9 297.9ZM107.8 285.9L107.8 290.5L109.1 293.6L108.1 296.6L109.1 296.9L110.4 295.4L111.7 293.6L110.1 291.4L111.4 289.0L114.0 290.8L115.3 290.2L114.0 285.9ZM117.6 285.9L117.6 290.5L120.9 294.2L121.9 295.7L122.4 297.6L123.5 300.3L125.3 301.2L126.3 300.3L127.3 301.5L127.1 298.8L129.4 297.6L129.4 296.0L126.8 293.9L126.5 292.6L125.8 290.5L128.1 289.6L129.4 290.5L130.6 285.9ZM128.1 304.3L130.6 304.6L135.3 305.2L131.9 305.8L128.3 305.2ZM150.6 305.8L152.4 304.9L156.5 304.0L154.7 305.8L152.4 307.1Z" fill="none" stroke="#000" stroke-width="1.55" stroke-linejoin="round"/>
<path d="M194.7 285.9L194.4 292.0L193.2 295.4L193.4 298.2L196.0 298.5L198.5 300.3L201.1 300.9L205.0 300.3L206.2 298.8L205.7 293.6L203.7 290.5L203.2 285.9ZM149.3 413.8L151.9 412.3L155.0 412.6L156.0 414.1L155.0 416.3L154.5 419.4L152.9 421.2L151.4 420.9L149.3 421.2L149.1 417.8ZM142.9 423.7L144.0 427.0L144.2 431.6L146.3 435.6L147.6 439.6L146.3 439.6L144.7 435.6L142.7 431.6L142.4 427.0ZM155.0 442.7L156.5 445.4L157.3 450.0L157.5 454.6L158.1 457.1L156.8 457.1L155.8 453.1L155.5 448.5L154.7 444.8Z" fill="none" stroke="#000" stroke-width="1.1" stroke-linejoin="round"/>
<path d="M62.2 305.5L63.2 307.4L63.5 309.8L63.5 312.9L64.8 314.4L60.4 315.0L58.6 316.0L58.4 318.4L55.0 321.2L53.2 322.4L49.9 322.7L45.6 325.2L45.6 329.5M45.6 328.3L34.0 328.3M45.6 329.5L45.6 333.5L37.1 333.5L37.1 341.3L34.5 342.7L34.3 347.8L24.3 347.8M45.6 329.5L55.6 336.5L70.9 348.5L70.9 349.7L76.1 352.5L76.3 354.9L78.7 354.5L82.7 353.4L87.1 349.1L98.6 341.1M55.6 336.5L51.2 336.5L53.5 362.6L54.3 363.2L53.8 365.7L43.8 365.7L40.4 366.0L38.4 365.7L36.6 367.8M25.6 363.8L26.9 362.6L29.4 362.0L32.0 362.6L33.8 364.1L36.6 367.8L37.1 371.8L38.6 375.2L36.3 375.5L32.7 374.3L29.4 374.3L25.1 375.3M24.8 371.5L28.1 370.9L32.5 371.8L32.5 372.7L28.1 372.4L25.1 373.0M32.7 374.3L32.7 377.3L30.2 377.9L29.4 379.6M33.8 385.6L35.8 382.8L39.2 382.5L40.7 385.3L41.5 387.1L40.7 388.7L38.4 392.1M41.5 387.1L43.5 387.4L44.0 390.5L46.1 389.9L46.6 393.9L48.6 395.4L48.6 399.9M46.1 389.9L46.8 387.1L48.1 385.6L47.4 381.9L46.6 379.5L44.8 375.5L41.7 375.8L38.6 375.2M47.4 381.9L52.0 380.7L53.8 381.3L55.8 383.5L60.9 384.1L61.4 388.1L59.7 392.4L60.7 397.6M60.9 384.1L60.7 379.5L67.9 379.2L69.1 382.5L69.1 387.1L69.4 391.7L70.9 394.5M67.9 379.2L70.2 379.5L71.4 384.1L72.0 394.2M70.2 379.5L73.0 378.2L74.0 376.7L77.1 377.3L77.6 381.0L75.0 385.6L74.8 390.2L74.8 393.6M53.8 381.3L54.3 377.0L56.6 374.9L57.6 372.1L60.2 371.2L62.7 369.7L66.1 366.9L68.4 367.2L68.9 370.3L70.4 373.3L73.2 374.3L74.0 376.7M68.4 367.2L76.8 366.0L78.6 362.9L78.7 354.5M98.6 341.1L97.3 338.7L94.2 338.1L92.2 332.5L93.2 328.9L93.0 326.4L93.2 324.2L92.2 320.6L94.2 318.4L94.2 316.0L97.3 313.8L97.3 311.5M92.2 320.6L91.2 314.7L87.1 309.5L89.1 306.8L88.9 301.2L89.9 300.0M98.6 341.1L104.2 343.9L106.3 342.7L129.4 353.4L129.4 351.9L131.9 351.9L131.9 345.7L131.9 323.6L131.2 320.9L132.3 316.1M131.9 345.7L162.4 345.7M106.3 342.7L108.6 350.6L107.6 361.4L102.7 371.2M77.1 377.3L77.8 373.9L78.4 371.8L81.9 370.6L85.3 373.0L88.4 372.4L90.9 373.9L94.8 372.4L99.9 373.0L102.7 371.2L104.0 373.0M104.0 373.0L104.2 375.2L105.3 377.9L103.2 379.5L101.7 383.8L100.7 386.2L99.1 387.4L98.1 391.7L96.3 393.3L94.8 391.7L93.0 392.4L91.7 394.2L90.4 395.4L89.9 398.5M104.0 373.0L105.0 373.9L106.5 376.1L106.3 379.8L107.6 382.5L104.2 382.5L103.5 383.8L106.8 388.7L107.6 390.2L104.8 394.8L105.3 397.9L106.3 400.9L109.4 406.5L108.9 408.0L105.0 406.5L101.9 406.5L96.8 406.5L93.0 406.2M96.8 406.5L96.8 410.2L93.0 410.2M101.9 406.5L101.7 409.2L104.8 409.2L105.0 410.5L103.5 413.2L105.0 414.8L104.8 418.7L104.8 420.3L101.2 420.6L99.9 419.4L97.8 420.6L97.6 422.4L98.3 424.3L96.3 425.2M98.6 428.6L100.1 426.7L101.4 427.3L99.9 429.2L99.9 430.7L99.1 430.9M101.4 427.3L103.7 426.7L104.8 428.3L106.8 426.4L108.9 422.4L109.4 419.4L111.4 416.3L113.5 414.8L113.5 411.7L114.2 407.1L115.5 402.5M109.4 406.5L110.4 402.5L115.5 402.5L115.5 399.7L117.8 397.6L120.4 399.4L125.3 400.6L126.5 398.5L130.4 397.6L132.7 397.9L138.1 397.6M107.6 390.2L110.1 389.6L113.2 389.0L115.5 388.7L116.5 385.6L120.1 385.3L123.5 380.7L126.5 379.5L125.5 374.6L124.0 374.3L125.0 372.1L124.5 370.3L125.5 369.7L126.5 365.4L129.4 365.1L129.4 353.4M126.5 379.5L128.6 385.6L130.6 387.1L132.7 390.2L135.5 393.3L138.1 397.6L140.6 400.0L143.5 399.4L146.8 402.5L149.6 402.2L152.4 401.3L155.0 400.3L159.9 399.1M159.9 399.1L158.3 396.7L156.8 392.7L152.4 388.7L155.2 387.1L155.8 381.0L157.5 379.5L160.4 374.3L161.4 369.3L161.4 367.2L162.7 361.1L166.8 358.0M161.4 369.3L165.0 367.5L167.8 368.4L170.4 368.7L172.9 371.8L176.5 374.9L178.3 374.3M176.5 374.9L175.0 379.5L177.8 379.8L178.7 377.9M177.8 379.8L177.3 380.7L180.6 385.6L188.3 388.7L190.9 388.7L183.2 397.9L178.0 399.1L175.2 401.1L172.4 400.3L169.1 402.8L165.2 402.2L162.4 399.7L160.1 399.7L159.9 399.1M175.2 401.1L172.9 404.6L172.9 415.7L174.5 418.4M155.0 400.3L156.0 401.9L157.5 407.4L156.3 409.8L155.0 412.6L154.7 416.3L164.2 422.4L164.7 424.6L168.3 427.6M154.7 416.3L146.0 416.3L143.7 417.5L143.7 414.8L144.5 411.7L146.0 409.5L148.1 406.5L146.8 402.5M146.0 416.3L146.8 420.6L144.7 420.6L142.2 421.5L142.7 418.4L143.7 417.5M146.8 420.6L146.8 423.3L144.7 426.4L143.2 426.9L142.7 423.3L142.2 421.5M143.2 426.9L143.7 431.6L146.0 436.2L146.8 438.4L149.9 440.8L152.2 442.1L154.7 442.4L156.3 448.5L159.6 448.5L164.0 449.1L166.5 447.9L171.4 445.4M156.5 448.8L156.0 450.6L157.3 454.6L159.9 458.3L159.6 462.3L158.3 465.7L156.0 463.2L156.0 457.7L153.2 456.2L151.7 454.9L152.4 450.0L153.2 446.4L152.2 442.1M153.2 456.2L148.6 458.0L145.2 458.6L145.8 461.1M146.8 438.4L141.9 439.3L140.6 441.8L141.4 446.0L140.6 449.7L142.2 451.3L144.2 450.6L144.2 454.3L140.6 451.6L137.6 448.8L134.5 449.7L132.7 447.6L130.4 448.2L129.4 446.7M129.4 446.7L129.4 453.1L124.2 453.1L124.2 462.9L127.8 467.2M99.4 431.9L101.7 431.3L110.4 431.3L111.4 434.7L113.0 438.1L117.6 437.8L117.6 434.7L120.6 434.7L123.7 435.6L124.0 442.4L125.0 447.6L129.1 446.7M98.0 466.1L101.2 465.4L103.7 466.6L115.3 466.6L122.7 468.4L127.8 467.2L132.7 467.8M132.7 467.8L130.6 468.4L127.6 468.4L121.7 469.4L121.7 480.7L119.1 480.7L119.1 489.3L119.1 500.4L116.5 501.9L112.7 501.3L110.1 501.0M119.1 489.3L120.9 495.4L123.5 495.4L126.8 490.8L133.5 491.8L136.8 486.9L139.4 483.8L143.2 481.3L139.6 479.2L138.8 476.1L135.0 473.0L132.7 467.8M132.7 467.8L137.0 468.1L141.7 463.8L145.8 461.1L148.1 462.3L152.2 464.5L152.4 468.4L151.7 471.5L152.4 474.0L151.1 478.6L148.1 481.9L143.2 481.3M148.1 481.9L149.9 488.4L149.7 492.8L150.1 495.4L152.2 495.6M149.7 492.8L148.3 492.1L147.0 493.0L146.8 495.4L148.1 497.0L150.1 495.4M137.0 504.0L138.3 506.2L140.1 507.1L142.4 505.0L143.2 503.4L141.9 501.6L140.1 501.0L138.3 502.2L137.0 504.0M155.5 317.2L157.3 322.7M157.5 322.7L158.8 316.6L159.1 312.9L162.2 314.1L167.3 310.7L172.9 307.7L173.7 301.2L176.5 299.4L182.7 299.1L184.2 302.8L185.7 305.2L184.2 308.9L185.7 312.0L190.3 315.0L190.1 318.1L192.1 321.2M157.5 323.0L160.4 323.6L164.0 321.2L165.2 319.6L162.7 316.6L167.8 315.0L168.3 314.4L167.3 310.7M168.3 314.4L171.4 315.4L175.5 317.8L182.4 323.6L186.8 323.9L190.1 325.8L191.9 325.8M187.3 323.9L188.3 321.2L190.6 321.2M160.1 302.8L161.9 300.3L165.2 300.3L170.4 300.3L176.5 299.4M157.8 311.7L159.9 310.7L161.6 308.3L160.1 307.1M182.7 299.1L181.4 295.1L180.6 292.3L182.7 291.4L187.0 293.9L190.9 292.0L191.9 295.1L193.2 295.4M177.5 362.9L178.8 359.5L181.9 359.8L187.0 360.5L189.6 361.1L192.1 357.4L201.1 354.9L203.9 362.1M201.1 354.9L208.8 351.9L210.6 345.7L209.3 343.6L202.6 343.0L200.1 339.0M198.0 337.4L199.3 338.1M48.9 299.1L49.9 296.0L49.1 292.0L50.2 290.5L50.2 285.9" fill="none" stroke="#000" stroke-width="1.15" stroke-linejoin="round"/>
<path d="M126.8 301.9L128.3 304.0L130.6 305.1L133.2 305.4L135.3 305.1L137.3 304.0L139.6 302.2" fill="none" stroke="#000" stroke-width="2.0" stroke-linecap="round" stroke-linejoin="round"/>
<path d="M130.1 300.5L132.9 301.4L135.5 300.9L137.0 299.9" fill="none" stroke="#000" stroke-width="1.7" stroke-linecap="round" stroke-linejoin="round"/>
<path d="M127.8 293.6L129.6 295.1L130.9 296.6" fill="none" stroke="#000" stroke-width="2.2" stroke-linecap="round" stroke-linejoin="round"/>
<path d="M131.4 296.9L132.7 298.5L133.2 299.7" fill="none" stroke="#000" stroke-width="2.0" stroke-linecap="round" stroke-linejoin="round"/>
<path d="M129.4 297.6L130.4 298.8" fill="none" stroke="#000" stroke-width="1.8" stroke-linecap="round" stroke-linejoin="round"/>
<path d="M134.2 294.8L134.7 296.0" fill="none" stroke="#000" stroke-width="1.8" stroke-linecap="round" stroke-linejoin="round"/>
<path d="M136.0 297.2L137.0 297.6" fill="none" stroke="#000" stroke-width="1.8" stroke-linecap="round" stroke-linejoin="round"/>
<path d="M131.9 290.8L132.9 290.8" fill="none" stroke="#000" stroke-width="1.8" stroke-linecap="round" stroke-linejoin="round"/>
<path d="M130.6 290.5L131.2 288.7" fill="none" stroke="#000" stroke-width="1.6" stroke-linecap="round" stroke-linejoin="round"/>
<path d="M126.3 298.2L127.3 297.9L128.1 296.9" fill="none" stroke="#000" stroke-width="1.8" stroke-linecap="round" stroke-linejoin="round"/>
<path d="M124.2 295.7L126.5 296.3L127.3 296.6" fill="none" stroke="#000" stroke-width="1.6" stroke-linecap="round" stroke-linejoin="round"/>
<path d="M22.5 311.4h4.0v1.8h-4.0zM24.2 325.6h2.2v1.5h-2.2zM27.0 326.6h1.8v1.5h-1.8zM31.1 324.3h1.3v3.0h-1.3zM32.4 323.1h1.3v1.6h-1.3zM21.2 324.4h1.5v1.5h-1.5zM23.3 326.5h1.0v1.0h-1.0zM84.0 411.5h1.6v1.6h-1.6zM86.2 407.7h1.3v1.3h-1.3zM89.1 401.3h2.0v2.4h-2.0zM81.6 416.9h1.2v1.2h-1.2zM52.5 461.4h1.5v1.3h-1.5zM30.2 436.8h1.5v1.3h-1.5zM178.0 448.2h1.6v1.8h-1.6zM180.9 450.0h1.5v1.2h-1.5zM182.7 451.7h1.5v1.5h-1.5zM169.0 428.2h1.2v2.0h-1.2zM168.0 430.8h1.2v2.2h-1.2zM169.0 436.8h1.2v1.4h-1.2zM203.5 374.1h4.5v1.6h-4.5zM185.6 441.5h1.2v1.2h-1.2zM138.6 301.4h2.0v1.6h-2.0zM136.6 299.4h1.5v1.3h-1.5zM135.9 296.9h1.8v1.3h-1.8zM133.7 294.4h1.6v2.0h-1.6zM134.1 292.2h2.4v1.6h-2.4zM128.2 293.2h1.8v3.2h-1.8zM131.2 298.7h2.4v2.0h-2.4zM130.1 296.2h1.5v1.5h-1.5zM126.1 301.5h1.3v1.3h-1.3zM132.0 300.9h1.3v1.2h-1.3zM130.9 290.2h1.5v1.3h-1.5zM117.9 290.7h1.4v2.0h-1.4zM119.9 295.1h1.5v1.8h-1.5zM120.6 296.6h1.2v1.2h-1.2zM77.5 290.1h1.8v1.2h-1.8zM104.0 302.4h1.5v1.3h-1.5zM95.0 308.8h1.6v1.4h-1.6zM98.0 299.8h1.2v1.0h-1.2zM99.6 303.8h1.0v1.0h-1.0zM183.7 296.1h1.6v3.0h-1.6zM176.7 294.0h2.6v1.6h-2.6zM145.2 322.2h2.2v1.3h-2.2zM151.1 340.2h1.2v3.0h-1.2zM151.6 343.7h1.2v1.6h-1.2zM177.8 308.8h1.6v3.2h-1.6zM178.4 312.1h1.3v1.6h-1.3zM158.4 315.9h0.9v2.0h-0.9zM162.4 375.3h2.0v2.2h-2.0zM102.6 371.8h2.2v1.8h-2.2zM52.3 387.7h2.4v4.4h-2.4zM66.2 387.6h1.8v4.6h-1.8zM67.4 392.0h1.5v2.0h-1.5zM79.0 380.4h1.2v2.4h-1.2zM159.7 400.0h1.3v4.4h-1.3zM146.5 406.6h1.6v2.8h-1.6zM143.0 413.5h1.4v1.8h-1.4zM142.0 418.3h1.3v2.2h-1.3zM140.5 439.7h1.8v2.2h-1.8zM143.3 446.8h1.8v1.5h-1.8zM149.6 437.1h2.0v1.3h-2.0zM137.9 464.8h3.0v1.2h-3.0zM147.1 460.8h3.0v1.1h-3.0zM139.1 495.1h2.0v1.3h-2.0zM132.8 497.6h1.8v1.2h-1.8zM132.5 506.5h2.0v1.2h-2.0zM130.6 504.7h1.6v1.2h-1.6zM151.7 418.7h1.5v1.3h-1.5zM150.0 414.4h1.3v1.3h-1.3zM151.9 408.0h2.0v1.3h-2.0zM159.0 423.5h1.2v1.6h-1.2zM144.7 433.9h1.0v1.0h-1.0zM111.6 415.1h1.2v1.2h-1.2zM114.0 418.4h1.6v1.3h-1.6zM126.6 408.7h2.0v1.0h-2.0zM120.7 408.4h2.0v1.0h-2.0zM115.7 408.1h1.6v1.0h-1.6zM136.9 439.3h1.3v1.3h-1.3z" fill="#000"/>
</g>
<rect x="16.6" y="290.5" width="192.2" height="230.1" fill="none" stroke="#1a1a1a" stroke-width="1.15"/>
<path d="M16.6 290.5h-2.8" stroke="#000" stroke-width="1.2"/>
<text class="ax" x="0.2" y="293.5" textLength="11.9" lengthAdjust="spacingAndGlyphs">40N</text>
<path d="M16.6 321.2h-2.8" stroke="#000" stroke-width="1.2"/>
<text class="ax" x="0.2" y="324.2" textLength="11.9" lengthAdjust="spacingAndGlyphs">30N</text>
<path d="M16.6 351.9h-2.8" stroke="#000" stroke-width="1.2"/>
<text class="ax" x="0.2" y="354.9" textLength="11.9" lengthAdjust="spacingAndGlyphs">20N</text>
<path d="M16.6 382.5h-2.8" stroke="#000" stroke-width="1.2"/>
<text class="ax" x="0.2" y="385.5" textLength="11.9" lengthAdjust="spacingAndGlyphs">10N</text>
<path d="M16.6 413.2h-2.8" stroke="#000" stroke-width="1.2"/>
<text class="ax" x="4.1" y="416.2" textLength="7.9" lengthAdjust="spacingAndGlyphs">EQ</text>
<path d="M16.6 443.9h-2.8" stroke="#000" stroke-width="1.2"/>
<text class="ax" x="0.2" y="446.9" textLength="11.9" lengthAdjust="spacingAndGlyphs">10S</text>
<path d="M16.6 474.6h-2.8" stroke="#000" stroke-width="1.2"/>
<text class="ax" x="0.2" y="477.6" textLength="11.9" lengthAdjust="spacingAndGlyphs">20S</text>
<path d="M16.6 505.3h-2.8" stroke="#000" stroke-width="1.2"/>
<text class="ax" x="0.2" y="508.3" textLength="11.9" lengthAdjust="spacingAndGlyphs">30S</text>
<path d="M16.6 520.6v2.6" stroke="#000" stroke-width="1.2"/>
<text class="ax" x="10.7" y="529.9" textLength="11.9" lengthAdjust="spacingAndGlyphs">20W</text>
<path d="M67.9 520.6v2.6" stroke="#000" stroke-width="1.2"/>
<text class="ax" x="66.1" y="529.9" textLength="3.6" lengthAdjust="spacingAndGlyphs">0</text>
<path d="M119.1 520.6v2.6" stroke="#000" stroke-width="1.2"/>
<text class="ax" x="113.2" y="529.9" textLength="11.9" lengthAdjust="spacingAndGlyphs">20E</text>
<path d="M170.4 520.6v2.6" stroke="#000" stroke-width="1.2"/>
<text class="ax" x="164.4" y="529.9" textLength="11.9" lengthAdjust="spacingAndGlyphs">40E</text>
<text class="ti" x="101.0" y="284.8" textLength="26.9" lengthAdjust="spacingAndGlyphs">CMAP</text>
<text class="lab" x="14.0" y="284.0">(d)</text>
<g clip-path="url(#cfe)">
<path d="M250.2 380.2L253.7 377.3L258.3 374.4L263.0 372.6L272.4 370.3L278.2 369.1L284.0 368.5L295.7 368.5L307.4 369.1L319.1 369.1L329.0 369.7L367.0 370.0L371.7 371.8L378.7 371.2L384.5 370.6L389.2 368.8L393.9 368.3L397.4 366.5L402.0 365.9L405.5 368.3L407.3 373.5L407.9 379.4L410.2 383.4L413.7 385.2L418.4 386.4L421.9 389.9L419.6 393.4L413.7 394.5L411.4 396.9L407.9 398.0L404.4 399.2L399.7 399.2L396.2 401.5L396.8 409.7L400.9 417.9L405.5 423.7L407.9 428.1L410.2 419.1L413.7 409.7L419.6 405.0L425.4 399.2L432.4 392.2L439.4 387.5L451.1 382.9L452.0 525.0L248.0 525.0Z" fill="#ffff00"/><path d="M425.4 380.5C425.8 379.2 429.5 378.4 431.2 378.2C433.0 378.0 435.3 378.2 435.9 379.4C436.5 380.5 435.9 384.0 434.7 385.2C433.6 386.4 430.5 387.1 428.9 386.4C427.3 385.6 425.0 381.9 425.4 380.5Z" fill="#ffff00"/><path d="M251.2 432.1L259.8 426.7L266.2 421.3L263.0 415.9L270.6 412.7L281.3 411.6L292.1 411.2L302.9 412.1L313.7 413.8L315.8 418.1L322.3 421.3L328.7 423.5L333.1 426.7L322.0 421.5L329.0 421.5L333.7 425.0L337.2 430.9L344.8 433.5L345.9 441.4L346.5 446.1L347.9 453.5L350.6 459.4L353.5 464.6L357.0 469.9L360.5 475.7L365.2 479.2L368.7 483.9L368.1 489.7L369.9 495.6L371.1 501.4L373.4 508.1L375.7 517.7L349.0 519.6L343.8 518.9L335.2 516.1L324.4 512.9L313.7 508.6L302.9 503.2L292.1 497.8L281.3 492.4L270.6 488.1L261.9 484.5L251.2 479.7Z" fill="#ffffff"/><path d="M365.8 478.2L370.5 478.2L372.8 486.4L372.3 498.0L370.5 509.7L367.0 517.9L365.8 517.9Z" fill="#ffffff"/><path d="M251.9 287.9L281.1 287.9L280.4 295.2L275.3 297.4L269.4 299.6L265.1 304.0L260.7 308.4L253.4 311.6Z" fill="#ffff00"/><path d="M251.9 287.9L259.5 287.9L253.4 297.4Z" fill="#c8ff00"/><path d="M292.8 293.8C293.6 292.8 296.6 291.8 298.6 291.6C300.7 291.3 304.5 291.4 305.2 292.3C305.9 293.2 304.4 295.6 303.0 296.7C301.7 297.8 298.8 298.7 297.2 298.9C295.6 299.0 294.3 298.3 293.5 297.4C292.8 296.6 291.9 294.7 292.8 293.8Z" fill="#ffff00"/><path d="M302.3 307.6C303.0 306.6 305.3 304.3 307.4 303.2C309.5 302.2 311.8 301.5 314.7 301.1C317.6 300.6 322.2 300.3 324.9 300.3C327.6 300.3 329.9 300.2 330.8 301.1C331.6 301.9 331.0 304.6 330.0 305.4C329.0 306.3 327.0 305.9 324.9 306.2C322.8 306.4 319.6 306.3 317.6 306.9C315.7 307.5 314.9 309.3 313.2 309.8C311.5 310.4 309.1 310.2 307.4 310.1C305.7 310.1 303.9 309.9 303.0 309.5C302.2 309.1 301.6 308.7 302.3 307.6Z" fill="#ffff00"/><path d="M321.3 301.1C321.9 300.3 324.8 299.7 325.6 300.3C326.5 300.9 327.0 303.9 326.4 304.7C325.8 305.5 322.8 305.8 322.0 305.1C321.1 304.5 320.7 301.9 321.3 301.1Z" fill="#c8ff00"/><path d="M334.4 287.9L351.2 287.9L351.2 309.1L343.9 306.9L339.5 301.1L335.1 296.7Z" fill="#ffff00"/><path d="M345.5 287.9L345.5 308.4L354.3 311.3L361.6 312.0L368.9 313.5L376.2 315.7L383.5 315.7L392.3 316.4L395.2 312.7L397.4 305.4L402.5 301.8L409.8 300.3L415.6 299.6L420.0 301.8L422.9 305.4L425.8 309.1L428.8 305.4L431.7 301.1L437.5 302.5L444.8 304.0L445.1 299.6L434.6 298.9L430.2 293.8L428.8 287.9Z" fill="#ffff00"/><path d="M374.7 289.4L379.1 289.4L380.6 298.1L385.0 301.1L390.8 301.1L396.6 299.6L397.4 305.4L395.2 312.0L390.8 313.5L387.1 309.8L387.9 304.0L382.0 301.8L376.2 298.1Z" fill="#c8ff00"/><path d="M417.1 289.4L428.8 289.4L429.5 295.9L424.4 298.9L418.5 298.1Z" fill="#c8ff00"/><path d="M379.1 289.4L417.1 289.4L418.5 298.1L411.2 298.9L402.5 298.1L395.2 299.6L385.0 300.8L380.6 298.1Z" fill="#addce6"/><path d="M392.3 293.0C394.2 292.1 401.7 292.2 405.4 292.3C409.0 292.4 413.2 293.0 414.2 293.8C415.1 294.5 413.2 296.2 411.2 296.7C409.3 297.2 405.4 296.4 402.5 296.7C399.6 296.9 395.4 298.7 393.7 298.1C392.0 297.5 390.3 294.0 392.3 293.0Z" fill="#80d0e8"/><path d="M250.2 383.1L253.7 380.2L258.3 377.9L263.0 376.7L268.9 374.4L278.2 373.2L284.0 373.2L289.9 375.5L301.6 375.5L312.1 375.5L319.1 373.8L329.0 373.2L367.0 375.8L374.0 377.6L381.0 376.4L388.0 374.7L392.7 372.9L396.2 370.0L400.9 368.8L404.4 371.2L406.1 375.8L407.3 381.7L409.0 386.4L410.2 391.0L407.9 395.7L403.2 397.5L397.4 397.5L394.4 398.0L392.7 400.4L393.9 407.4L396.2 415.6L399.7 421.4L404.4 428.1L405.5 431.7L406.7 439.9L408.5 445.7L413.7 448.0L418.4 445.7L421.9 439.9L423.1 434.0L421.9 423.7L427.7 416.7L434.7 409.7L441.7 402.7L451.1 395.7L452.0 525.0L383.9 524.8L383.9 508.1L380.4 500.2L376.9 494.4L378.1 488.5L380.4 482.7L379.8 478.0L375.7 472.2L372.2 467.5L366.4 462.9L363.5 457.0L362.3 448.8L361.7 443.0L355.9 443.0L351.2 439.1L347.5 434.4L339.5 429.7L336.0 423.9L329.0 420.6L322.0 419.2L322.3 415.9L313.7 409.5L302.9 407.7L292.1 407.3L281.3 407.7L270.6 408.4L261.9 410.5L251.2 413.8Z" fill="#c8ff00"/><path d="M251.2 489.9L261.9 493.5L270.6 497.8L281.3 503.2L292.1 508.6L302.9 514.0L313.7 519.4L319.0 522.0L251.2 522.0Z" fill="#c8ff00"/><path d="M385.6 401.7C386.9 400.1 390.2 399.7 392.1 400.5C393.9 401.3 396.2 403.8 396.7 406.4C397.3 408.9 396.5 413.4 395.6 415.7C394.6 418.0 392.6 420.0 390.9 420.4C389.3 420.8 386.7 419.8 385.6 418.0C384.6 416.3 384.5 412.6 384.5 409.9C384.5 407.1 384.4 403.2 385.6 401.7Z" fill="#ffff00"/><path d="M393.3 413.0C395.7 411.1 404.6 410.7 406.7 413.0C408.8 415.3 406.5 423.1 406.1 427.0C405.7 430.9 405.1 433.4 404.4 436.4C403.7 439.3 403.4 443.0 402.0 444.5C400.7 446.1 397.7 447.1 396.2 445.7C394.7 444.3 394.0 439.9 393.3 436.4C392.6 432.9 392.1 428.6 392.1 424.7C392.1 420.8 390.8 414.9 393.3 413.0Z" fill="#ffff00"/><path d="M398.5 415.3C399.4 413.4 403.3 412.8 404.4 414.2C405.4 415.5 405.3 421.0 405.0 423.5C404.6 426.0 403.0 429.0 402.0 429.4C401.1 429.7 399.7 428.2 399.1 425.8C398.5 423.5 397.7 417.3 398.5 415.3Z" fill="#ffffff"/><path d="M396.8 401.5C397.6 400.1 399.8 400.0 402.0 399.8C404.3 399.6 408.8 398.7 410.2 400.4C411.7 402.0 411.0 406.8 410.8 409.7C410.6 412.6 410.1 415.9 409.0 417.9C408.0 419.8 405.8 421.8 404.4 421.4C402.9 421.0 401.5 417.7 400.3 415.6C399.1 413.4 397.9 410.9 397.4 408.5C396.8 406.2 396.0 403.0 396.8 401.5Z" fill="#ffffff"/><path d="M395.0 398.2L403.8 397.0L403.8 429.7L397.9 427.4L395.0 418.0Z" fill="#ffffff"/><path d="M250.2 384.9L253.7 381.9L258.3 380.2L264.2 378.4L270.0 376.1L278.2 375.5L282.9 376.7L287.5 378.4L293.4 379.0L298.1 378.4L309.7 377.9L314.4 377.3L319.1 375.5L329.0 374.9L367.0 380.5L372.8 379.4L378.7 377.6L384.5 377.0L389.2 379.4L390.4 386.4L389.2 393.4L386.9 398.0L385.7 402.7L385.1 400.5L383.9 409.9L385.1 419.2L389.7 422.7L392.1 429.7L390.9 437.9L392.1 448.1L378.7 417.7L390.4 418.8L393.3 430.5L393.9 442.2L402.0 446.9L407.9 448.0L411.4 450.4L418.4 448.0L421.9 441.0L423.1 430.5L427.7 424.7L437.1 420.0L451.1 416.5L452.0 525.0L387.4 524.8L387.4 508.1L383.9 500.2L380.4 494.4L381.6 488.5L383.9 482.7L383.3 478.0L379.2 472.2L375.7 467.5L369.9 462.9L367.0 457.0L365.8 448.8L365.2 443.0L359.4 443.7L354.7 439.6L349.4 434.4L341.3 429.1L337.8 423.3L330.2 404.0L326.7 406.4L322.0 402.9L329.0 407.1L319.1 407.6L305.1 406.5L305.1 398.3L286.4 398.9L281.7 404.7L272.4 407.6L260.7 408.0L250.2 408.8Z" fill="#addce6"/><path d="M251.2 495.2L261.9 500.0L270.6 504.3L281.3 509.7L292.1 515.1L301.8 522.0L251.2 522.0Z" fill="#addce6"/><path d="M430.1 428.1L432.4 423.7L437.1 417.9L441.7 413.2L451.1 408.5L451.1 428.1Z" fill="#addce6"/><path d="M394.4 375.8C395.3 374.6 396.9 374.2 398.5 374.1C400.2 374.0 402.8 374.2 404.4 375.3C405.9 376.3 407.0 378.3 407.9 380.5C408.8 382.8 409.6 386.4 409.6 388.7C409.6 391.0 408.9 393.3 407.9 394.5C406.8 395.8 405.0 396.2 403.2 396.3C401.5 396.4 398.8 396.2 397.4 395.1C395.9 394.0 395.1 392.1 394.4 389.9C393.8 387.6 393.6 384.0 393.6 381.7C393.6 379.4 393.6 377.1 394.4 375.8Z" fill="#addce6"/><path d="M372.8 492.2L381.0 491.0L390.4 493.4L389.2 501.5L384.5 509.7L376.3 517.9L367.0 521.4L367.0 517.9L371.7 509.7L372.8 500.4Z" fill="#c8ff00"/><path d="M250.2 386.0L260.7 381.4L265.4 380.2L270.0 377.3L277.0 377.3L282.9 379.0L285.2 381.4L289.9 381.4L295.7 380.8L307.4 379.6L314.4 379.0L319.1 377.3L329.0 376.7L345.4 383.0L357.0 385.3L368.7 390.0L380.4 395.8L385.1 401.7L383.9 409.9L385.1 419.2L388.6 423.9L390.9 429.7L389.7 437.9L390.9 448.1L378.7 422.3L389.2 423.5L391.5 434.0L392.1 443.4L396.2 448.0L402.0 450.4L407.3 452.7L407.9 459.7L405.5 465.6L400.9 470.2L397.4 476.1L396.2 478.2L395.0 486.4L392.7 492.2L392.1 498.0L390.4 505.0L390.9 513.2L392.1 521.4L390.4 523.7L389.7 508.1L386.2 500.2L382.7 494.4L383.9 488.5L386.2 482.7L385.6 478.0L381.6 472.2L378.1 467.5L372.2 462.9L369.3 457.0L368.1 448.8L367.5 443.0L364.0 441.4L355.9 437.9L350.0 432.1L344.2 425.0L340.7 421.5L333.7 421.5L330.2 418.0L329.0 406.4L326.7 400.5L322.0 398.2L329.0 404.7L319.1 404.7L309.7 403.5L307.4 398.3L286.4 398.9L281.7 403.0L272.4 405.6L260.7 406.8L250.2 407.3Z" fill="#80d0e8"/><path d="M441.7 428.1L444.1 423.7L451.1 419.1L451.1 428.1Z" fill="#80d0e8"/><path d="M451.1 417.7L441.7 419.4L434.7 423.5L430.1 430.5L427.7 439.9L430.1 446.9L437.1 449.2L451.1 450.4Z" fill="#80d0e8"/><path d="M390.4 498.0L399.7 495.7L407.9 502.7L413.7 509.7L418.4 514.4L416.1 523.7L389.2 523.7L389.2 509.7Z" fill="#80d0e8"/><path d="M251.2 502.8L261.9 507.5L270.6 512.9L279.2 518.3L284.6 522.0L251.2 522.0Z" fill="#80d0e8"/><path d="M250.2 387.2L260.7 382.5L266.5 380.8L271.2 377.9L277.0 378.1L282.9 380.2L285.2 382.5L289.9 383.1L298.1 382.5L299.2 396.5L286.4 398.3L282.9 400.0L278.2 401.8L272.4 404.1L260.7 405.6L250.2 406.5Z" fill="#00ffff"/><path d="M314.4 379.0L319.1 377.9L329.0 377.3L329.0 386.5L339.5 385.3L347.7 390.0L352.4 394.7L357.0 394.7L368.7 395.8L380.4 399.4L383.9 404.0L383.9 413.4L385.6 421.5L388.6 427.4L387.4 437.9L385.1 448.1L387.4 454.7L390.9 459.4L392.1 464.0L387.4 465.2L382.7 464.0L374.6 465.2L368.7 460.5L366.4 450.0L368.7 443.0L366.4 443.7L360.5 439.1L357.0 432.1L351.2 429.7L347.1 426.2L344.2 420.4L343.0 407.5L333.7 405.2L329.0 404.0L327.8 398.2L322.0 394.7L329.0 397.7L319.1 398.3L315.0 393.0Z" fill="#00ffff"/><path d="M395.0 377.6C395.8 376.0 398.0 375.8 399.7 375.8C401.4 375.8 403.7 376.2 405.0 377.6C406.2 379.0 406.8 381.8 407.3 384.0C407.8 386.3 408.2 389.3 407.9 391.0C407.6 392.7 406.7 393.7 405.5 394.3C404.4 394.9 402.3 395.1 400.9 394.8C399.4 394.4 397.8 393.8 396.8 392.2C395.8 390.6 395.1 387.6 394.8 385.2C394.5 382.8 394.2 379.2 395.0 377.6Z" fill="#00ffff"/><path d="M434.7 421.2L441.7 419.4L451.1 418.8L451.1 449.2L441.7 446.9L437.1 439.9L435.3 430.5Z" fill="#00ffff"/><path d="M393.9 499.2L398.5 498.0L405.5 503.9L411.4 509.7L416.1 514.4L413.7 521.4L396.2 521.4L392.1 513.2L390.9 505.0Z" fill="#00ffff"/><path d="M380.4 464.0C382.1 462.3 388.8 461.5 390.9 462.9C393.0 464.2 393.2 469.3 393.2 472.2C393.2 475.1 392.5 479.0 390.9 480.4C389.3 481.7 385.6 481.5 383.9 480.4C382.1 479.2 381.0 476.1 380.4 473.4C379.8 470.6 378.6 465.8 380.4 464.0Z" fill="#00ffff"/><path d="M331.3 406.4C333.3 404.4 341.0 404.0 343.0 406.4C345.1 408.7 344.8 417.8 343.6 420.4C342.4 422.9 338.1 421.9 336.0 421.5C334.0 421.2 332.1 420.6 331.3 418.0C330.6 415.5 329.4 408.3 331.3 406.4Z" fill="#addce6"/><path d="M362.0 449.0C363.3 445.3 369.3 444.5 372.0 445.0C374.7 445.5 377.2 449.0 378.0 452.0C378.8 455.0 378.2 460.0 377.0 463.0C375.8 466.0 373.2 469.3 371.0 470.0C368.8 470.7 365.5 470.5 364.0 467.0C362.5 463.5 360.7 452.7 362.0 449.0Z" fill="#80d0e8"/><path d="M364.0 452.0C364.8 449.8 368.5 449.2 370.0 450.0C371.5 450.8 373.0 454.5 373.0 457.0C373.0 459.5 371.3 464.0 370.0 465.0C368.7 466.0 366.0 465.2 365.0 463.0C364.0 460.8 363.2 454.2 364.0 452.0Z" fill="#addce6"/><path d="M401.5 491.0C402.0 489.4 403.5 486.8 405.5 485.8C407.6 484.7 411.8 483.7 413.7 484.6C415.7 485.5 415.7 489.8 417.2 491.0C418.8 492.3 421.3 493.2 423.1 492.2C424.8 491.2 426.3 488.1 427.7 485.2C429.2 482.3 430.3 476.7 431.8 474.7C433.4 472.6 435.8 472.3 437.1 472.9C438.3 473.5 439.2 475.9 439.4 478.2C439.6 480.4 438.8 483.4 438.2 486.4C437.7 489.3 436.9 493.0 435.9 495.7C434.9 498.4 434.2 500.7 432.4 502.7C430.6 504.8 428.1 507.4 425.4 508.0C422.7 508.5 419.2 507.5 416.1 506.2C412.9 504.9 409.0 502.1 406.7 500.4C404.4 498.6 402.9 497.3 402.0 495.7C401.2 494.1 400.9 492.7 401.5 491.0Z" fill="#c8ff00"/><path d="M407.9 491.0C408.1 489.7 410.0 488.3 411.4 487.5C412.7 486.7 415.1 485.8 416.1 486.4C417.0 486.9 416.1 490.1 417.2 491.0C418.4 492.0 421.3 493.0 423.1 492.2C424.8 491.4 426.2 488.9 427.7 486.4C429.3 483.8 431.0 479.0 432.4 477.0C433.8 475.1 435.1 473.9 435.9 474.7C436.7 475.5 437.5 479.2 437.1 481.7C436.7 484.2 434.7 487.3 433.6 489.9C432.4 492.4 431.8 495.1 430.1 496.9C428.3 498.6 425.4 500.0 423.1 500.4C420.7 500.8 418.2 500.0 416.1 499.2C413.9 498.4 411.6 497.1 410.2 495.7C408.8 494.3 407.7 492.4 407.9 491.0Z" fill="#ffff00"/><path d="M442.3 478.2L451.1 477.0L451.1 498.0L442.9 498.0Z" fill="#c8ff00"/><path d="M250.2 384.6L260.7 383.1L266.5 381.9L270.6 379.0L274.1 379.6L278.2 381.4L282.9 383.1L286.4 386.0L285.8 396.5L282.9 398.9L278.2 400.0L272.4 401.8L260.7 403.5L250.2 404.1Z" fill="#5a8fe0"/><path d="M316.2 377.9L321.4 376.7L329.0 377.3L329.0 396.5L323.7 397.7L317.9 395.4L315.6 387.2Z" fill="#5a8fe0"/><path d="M345.9 409.9L348.9 404.0L353.5 402.3L361.7 401.7L371.1 402.3L380.4 402.9L383.3 406.4L382.7 413.4L380.4 418.0L378.1 422.7L374.6 425.0L368.7 421.5L362.9 423.9L357.0 425.6L352.4 422.7L348.9 418.0L345.9 414.5Z" fill="#5a8fe0"/><path d="M365.8 402.7L374.0 402.7L379.8 407.4L381.0 415.6L378.7 423.7L374.0 426.6L365.8 426.1Z" fill="#5a8fe0"/><path d="M396.2 385.8C396.7 384.7 399.4 384.4 400.9 384.6C402.3 384.8 404.2 385.7 405.0 386.9C405.7 388.2 406.1 391.1 405.5 392.2C405.0 393.3 402.8 393.8 401.5 393.6C400.1 393.4 398.5 392.3 397.6 391.0C396.7 389.7 395.7 386.8 396.2 385.8Z" fill="#5a8fe0"/><path d="M418.4 464.4L423.1 459.7L428.9 453.9L432.4 451.5L435.3 457.4L434.2 467.9L432.4 478.4L419.6 478.4Z" fill="#5a8fe0"/><path d="M418.4 461.8L435.3 461.8L433.6 470.0L430.6 478.2L425.4 477.0L420.7 472.3Z" fill="#5a8fe0"/><path d="M395.6 507.4C396.1 506.3 398.0 505.4 399.1 505.6C400.2 505.8 401.5 507.3 402.0 508.5C402.6 509.8 403.0 512.1 402.6 513.2C402.2 514.4 400.8 515.7 399.7 515.6C398.6 515.4 396.9 513.4 396.2 512.1C395.5 510.7 395.1 508.5 395.6 507.4Z" fill="#5a8fe0"/><path d="M383.4 470.0C384.2 468.9 386.7 467.9 388.0 468.3C389.4 468.6 391.1 470.7 391.5 472.3C391.9 474.0 391.3 477.1 390.4 478.2C389.4 479.3 386.9 479.4 385.7 478.8C384.5 478.2 383.5 476.1 383.1 474.7C382.7 473.2 382.5 471.1 383.4 470.0Z" fill="#5a8fe0"/><path d="M371.6 451.2C372.7 450.6 377.0 450.6 378.1 451.2C379.1 451.8 379.1 454.1 378.1 454.7C377.0 455.3 372.7 455.3 371.6 454.7C370.6 454.1 370.6 451.8 371.6 451.2Z" fill="#5a8fe0"/><path d="M443.5 423.5L451.1 422.9L451.1 430.5L444.1 430.5Z" fill="#5a8fe0"/><path d="M383.9 468.1C384.9 467.3 388.1 466.6 389.2 467.5C390.2 468.4 390.5 471.6 390.3 473.4C390.1 475.1 389.0 477.5 388.0 478.0C387.0 478.6 385.3 477.8 384.5 476.9C383.6 475.9 383.1 473.7 383.0 472.2C382.9 470.7 382.9 468.9 383.9 468.1Z" fill="#5a8fe0"/><path d="M250.2 386.0L260.7 384.9L267.7 384.3L272.4 387.2L270.0 391.9L263.0 393.0L250.2 393.0Z" fill="#0a6aa5"/><path d="M264.8 398.3C264.8 397.6 265.5 396.6 266.5 396.3C267.5 396.0 269.6 396.0 270.6 396.3C271.6 396.6 272.4 397.6 272.4 398.3C272.4 399.0 271.6 400.2 270.6 400.6C269.6 401.0 267.5 401.0 266.5 400.6C265.5 400.2 264.8 399.0 264.8 398.3Z" fill="#0a6aa5"/><path d="M320.2 383.1C321.0 381.7 324.5 381.4 325.5 382.5C326.5 383.7 326.9 388.8 326.1 390.1C325.3 391.5 321.8 391.9 320.8 390.7C319.9 389.5 319.5 384.5 320.2 383.1Z" fill="#0a6aa5"/><path d="M348.6 402.9C349.1 400.3 351.2 400.3 351.8 402.9C352.4 405.4 352.6 415.5 352.1 418.0C351.7 420.6 349.7 420.6 349.1 418.0C348.5 415.5 348.2 405.4 348.6 402.9Z" fill="#0a6aa5"/><path d="M361.7 408.1C362.2 406.6 364.4 406.1 365.0 407.5C365.6 409.0 365.7 415.3 365.2 416.9C364.8 418.4 362.9 418.3 362.3 416.9C361.7 415.4 361.3 409.7 361.7 408.1Z" fill="#0a6aa5"/><path d="M271.8 384.3C272.3 383.6 274.2 382.7 275.3 383.1C276.3 383.5 277.8 385.3 278.2 386.6C278.6 387.9 278.3 390.1 277.6 390.7C276.9 391.3 275.0 390.7 274.1 390.1C273.2 389.5 272.5 388.2 272.1 387.2C271.7 386.2 271.2 385.0 271.8 384.3Z" fill="#6000ff"/><path d="M278.2 391.9C278.4 391.3 279.9 391.6 281.1 392.5C282.3 393.3 284.7 396.1 285.2 397.1C285.7 398.2 284.9 398.8 284.0 398.6C283.2 398.4 280.9 397.1 279.9 396.0C279.0 394.8 278.0 392.5 278.2 391.9Z" fill="#6000ff"/><path d="M324.3 398.2C324.6 396.3 325.9 393.1 327.8 391.2C329.8 389.2 333.3 387.2 336.0 386.5C338.7 385.8 342.7 385.8 344.2 387.1C345.6 388.4 345.7 392.1 344.8 394.1C343.8 396.0 340.6 397.4 338.4 398.8C336.1 400.1 333.4 401.7 331.3 402.3C329.3 402.9 327.3 403.0 326.1 402.3C324.9 401.6 324.0 400.0 324.3 398.2Z" fill="#5a8fe0"/><path d="M326.7 397.0C326.7 395.6 328.4 393.2 330.2 391.8C331.9 390.3 335.1 388.7 337.2 388.3C339.3 387.8 342.0 388.1 342.8 389.1C343.6 390.0 343.2 392.7 342.1 394.1C341.0 395.5 338.0 396.5 336.0 397.6C334.0 398.7 331.7 400.6 330.2 400.5C328.6 400.4 326.7 398.5 326.7 397.0Z" fill="#123f90"/><path d="M329.0 395.3C329.6 394.2 331.9 392.7 333.7 391.8C335.4 390.8 338.4 389.7 339.5 389.8C340.7 389.9 341.5 391.4 340.7 392.3C339.9 393.3 336.6 394.7 334.8 395.6C333.1 396.5 331.4 398.0 330.4 397.9C329.4 397.9 328.5 396.3 329.0 395.3Z" fill="#6000ff"/><path d="M376.3 412.2C376.9 411.4 379.2 411.4 379.8 412.2C380.4 413.0 380.4 416.1 379.8 416.9C379.2 417.6 376.9 417.6 376.3 416.9C375.7 416.1 375.7 413.0 376.3 412.2Z" fill="#5a20d0"/><path d="M375.4 412.6C376.0 411.7 378.6 411.2 379.3 412.1C380.0 412.9 380.2 416.7 379.6 417.7C379.0 418.6 376.5 418.7 375.8 417.9C375.1 417.1 374.8 413.6 375.4 412.6Z" fill="#5a20d0"/><path d="M421.9 466.7L425.4 462.1L430.1 457.4L433.0 459.7L432.4 469.1L430.6 478.4L423.1 478.4Z" fill="#123f90"/><path d="M421.9 461.8L431.2 461.8L430.6 470.0L427.7 475.8L424.2 473.5L421.9 467.7Z" fill="#123f90"/><path d="M423.3 467.1C423.8 466.1 426.8 465.7 427.5 466.5C428.2 467.3 428.3 471.1 427.7 472.1C427.2 473.1 425.0 473.4 424.2 472.6C423.5 471.7 422.7 468.1 423.3 467.1Z" fill="#6000ff"/><path d="M290.0 314.2C290.0 313.8 290.9 313.0 291.3 313.0C291.7 313.0 292.6 313.8 292.6 314.2C292.6 314.6 291.7 315.4 291.3 315.4C290.9 315.4 290.0 314.6 290.0 314.2Z" fill="#ffff00"/>
<path d="M289.8 303.4L291.4 303.1L295.0 305.2L297.5 304.9L299.3 305.5L303.4 303.7L307.5 301.5L312.6 300.3L318.0 300.3L324.9 300.0L330.3 298.8L333.1 299.7L331.3 300.3L332.1 301.5L332.1 303.4L333.1 305.2L332.6 306.8L330.8 309.2L333.1 310.1L334.4 311.4L338.8 312.3L343.6 313.8L344.9 316.3L347.5 317.5L351.1 319.3L353.6 320.3L356.5 318.7L356.2 314.7L358.8 312.6L360.6 312.3L362.9 312.6L364.4 314.4L366.5 314.7L369.5 316.3L374.7 316.9L379.0 318.4L381.6 317.5L384.4 316.3L387.7 317.2L388.2 321.2L388.5 324.2L390.0 327.3L391.6 329.8L392.9 333.5L394.4 336.5L395.9 339.6L396.4 342.7L399.0 345.1L399.8 348.8L400.3 353.1L400.8 355.2L403.6 358.0L405.4 362.6L406.2 365.4L408.7 367.8L411.3 370.9L414.6 373.3L415.9 374.9L415.7 377.0L414.4 377.6L415.9 378.2L417.7 381.0L420.3 381.3L423.3 380.1L425.4 379.2L431.0 378.6L434.4 377.0L436.4 376.7L436.2 381.0L435.1 384.1L433.9 386.8L432.6 388.7L431.0 392.4L429.2 397.0L427.2 400.0L425.4 402.5L422.8 405.6L421.0 407.1L419.0 408.6L416.4 411.4L413.9 414.4L411.6 418.4L409.8 420.3L408.0 421.8L407.7 423.3L406.7 425.5L405.2 428.9L404.4 431.6L405.9 434.1L405.9 437.8L406.4 440.8L406.9 443.9L408.5 445.4L409.0 448.5L408.7 453.1L409.5 457.7L408.7 461.1L407.2 463.2L404.4 466.0L399.8 468.4L398.0 470.9L395.9 472.7L394.1 474.3L393.9 476.4L395.4 479.2L395.9 482.2L395.9 486.5L395.2 488.7L391.1 490.5L388.8 492.7L389.3 495.4L388.8 499.1L387.2 501.6L384.4 505.0L382.3 508.3L379.3 512.0L376.5 514.5L372.9 516.9L370.6 517.5L367.7 518.1L365.2 517.8L361.6 518.1L356.2 520.0L353.1 518.8L352.1 517.2L351.1 513.9L351.9 510.5L349.3 505.3L347.2 501.0L344.7 497.6L343.6 494.8L342.9 489.9L342.1 486.9L342.1 483.5L339.5 477.6L337.0 471.5L335.2 466.3L335.2 462.3L336.2 459.9L337.0 454.6L339.3 451.9L340.3 447.0L340.3 443.9L338.3 440.8L339.0 439.3L337.8 434.7L336.5 431.9L336.2 430.1L335.2 427.9L333.1 425.2L330.6 421.8L328.8 419.0L327.5 415.4L329.0 412.6L329.6 410.2L330.1 407.4L330.1 406.2L330.3 404.3L329.8 401.3L328.0 400.6L326.7 399.1L325.5 399.4L322.9 399.7L320.3 400.0L318.8 397.9L317.8 395.4L316.5 393.9L313.7 393.6L311.1 393.9L308.0 394.5L304.4 396.3L301.9 397.6L299.6 398.8L297.0 397.6L294.7 397.3L289.6 398.5L285.2 399.7L281.9 397.9L277.3 393.9L275.5 392.1L272.9 390.5L271.1 387.1L269.8 384.1L267.8 381.6L266.5 379.5L265.0 376.7L262.2 375.2L262.4 372.1L261.9 370.3L260.1 368.1L262.7 364.1L264.0 357.7L263.4 353.7L261.4 349.4L261.6 347.9L262.7 344.8L264.2 340.5L266.5 337.4L267.8 333.1L270.6 330.1L271.9 327.6L275.5 326.4L278.8 323.0L280.4 320.0L279.8 316.9L281.4 314.1L285.5 310.1L287.5 308.9L289.1 305.8L289.8 303.4ZM431.3 450.0L432.8 454.6L434.4 460.8L433.6 462.3L432.3 460.8L431.5 465.4L431.5 469.1L430.0 474.6L428.0 480.7L425.9 486.9L425.4 489.9L420.8 491.8L417.7 489.9L416.9 485.0L415.9 480.7L416.4 478.6L418.5 475.5L418.7 471.5L417.7 466.9L419.0 462.9L423.6 461.4L426.2 458.6L428.0 455.6L430.0 451.6L431.3 450.0ZM387.7 317.2L391.6 317.8L392.9 316.9L394.1 314.7L394.6 312.6L395.9 309.2L396.7 307.7L396.7 304.3L397.7 300.9L395.9 300.9L393.6 300.3L391.6 302.2L389.0 302.8L385.7 300.6L383.6 300.0L382.6 301.9L379.5 300.9L377.5 300.3L375.2 299.7L374.7 297.2L373.6 295.4L372.6 293.6L372.1 292.0L372.1 290.5L372.1 285.9L448.5 285.9L448.5 331.0L445.9 331.3L442.1 331.3L439.5 328.9L436.9 327.9L435.1 324.6L434.4 322.7L431.8 320.6L429.2 321.2L428.0 323.0L429.2 325.8L430.0 328.2L432.1 330.4L433.3 332.2L433.6 335.0L435.1 337.1L435.1 335.0L436.2 333.1L437.2 334.1L437.2 336.8L436.4 338.1L437.2 339.0L439.5 339.0L444.4 338.1L448.5 334.7L448.5 358.6L445.9 359.8L443.6 361.1L441.0 362.1L438.7 364.1L438.7 365.4L434.4 367.2L430.8 368.7L428.0 370.3L424.1 372.1L420.3 373.9L416.4 374.3L415.7 372.4L414.9 367.8L414.6 365.7L413.9 361.1L411.3 357.4L408.2 353.4L405.2 347.3L403.6 342.7L402.3 339.3L398.5 333.5L395.2 327.3L394.6 322.7L393.4 325.8L392.6 328.2L390.0 325.8L388.8 322.7L388.2 321.2ZM282.1 285.9L282.1 290.5L280.9 294.5L282.4 295.4L281.9 299.7L284.7 299.7L287.3 299.1L288.8 301.2L290.6 302.8L291.4 302.5L293.7 300.6L298.8 300.3L299.8 300.6L302.6 297.9L303.7 295.7L305.5 294.5L304.2 292.0L305.0 290.5L307.0 285.9ZM311.1 291.7L312.9 290.8L313.7 291.4L312.9 292.6L311.4 292.3ZM308.0 293.9L309.1 293.3L308.8 294.2ZM326.5 285.9L326.5 293.6L328.0 293.9L329.6 293.0L329.8 285.9ZM336.7 296.6L339.0 296.0L344.9 295.7L343.6 299.7L343.4 300.6L340.8 299.4L337.0 297.9ZM344.9 285.9L344.9 290.5L346.2 293.6L345.2 296.6L346.2 296.9L347.5 295.4L348.8 293.6L347.2 291.4L348.5 289.0L351.1 290.8L352.4 290.2L351.1 285.9ZM354.7 285.9L354.7 290.5L358.0 294.2L359.0 295.7L359.5 297.6L360.6 300.3L362.4 301.2L363.4 300.3L364.4 301.5L364.2 298.8L366.5 297.6L366.5 296.0L363.9 293.9L363.6 292.6L362.9 290.5L365.2 289.6L366.5 290.5L367.7 285.9ZM365.2 304.3L367.7 304.6L372.4 305.2L369.0 305.8L365.4 305.2ZM387.7 305.8L389.5 304.9L393.6 304.0L391.8 305.8L389.5 307.1Z" fill="none" stroke="#000" stroke-width="1.55" stroke-linejoin="round"/>
<path d="M431.8 285.9L431.5 292.0L430.3 295.4L430.5 298.2L433.1 298.5L435.6 300.3L438.2 300.9L442.1 300.3L443.3 298.8L442.8 293.6L440.8 290.5L440.3 285.9ZM386.4 413.8L389.0 412.3L392.1 412.6L393.1 414.1L392.1 416.3L391.6 419.4L390.0 421.2L388.5 420.9L386.4 421.2L386.2 417.8ZM380.0 423.7L381.1 427.0L381.3 431.6L383.4 435.6L384.7 439.6L383.4 439.6L381.8 435.6L379.8 431.6L379.5 427.0ZM392.1 442.7L393.6 445.4L394.4 450.0L394.6 454.6L395.2 457.1L393.9 457.1L392.9 453.1L392.6 448.5L391.8 444.8Z" fill="none" stroke="#000" stroke-width="1.1" stroke-linejoin="round"/>
<path d="M299.3 305.5L300.3 307.4L300.6 309.8L300.6 312.9L301.9 314.4L297.5 315.0L295.7 316.0L295.5 318.4L292.1 321.2L290.3 322.4L287.0 322.7L282.7 325.2L282.7 329.5M282.7 328.3L271.1 328.3M282.7 329.5L282.7 333.5L274.2 333.5L274.2 341.3L271.6 342.7L271.4 347.8L261.4 347.8M282.7 329.5L292.7 336.5L308.0 348.5L308.0 349.7L313.2 352.5L313.4 354.9L315.8 354.5L319.8 353.4L324.2 349.1L335.7 341.1M292.7 336.5L288.3 336.5L290.6 362.6L291.4 363.2L290.9 365.7L280.9 365.7L277.5 366.0L275.5 365.7L273.7 367.8M262.7 363.8L264.0 362.6L266.5 362.0L269.1 362.6L270.9 364.1L273.7 367.8L274.2 371.8L275.7 375.2L273.4 375.5L269.8 374.3L266.5 374.3L262.2 375.3M261.9 371.5L265.2 370.9L269.6 371.8L269.6 372.7L265.2 372.4L262.2 373.0M269.8 374.3L269.8 377.3L267.3 377.9L266.5 379.6M270.9 385.6L272.9 382.8L276.3 382.5L277.8 385.3L278.6 387.1L277.8 388.7L275.5 392.1M278.6 387.1L280.6 387.4L281.1 390.5L283.2 389.9L283.7 393.9L285.7 395.4L285.7 399.9M283.2 389.9L283.9 387.1L285.2 385.6L284.5 381.9L283.7 379.5L281.9 375.5L278.8 375.8L275.7 375.2M284.5 381.9L289.1 380.7L290.9 381.3L292.9 383.5L298.0 384.1L298.5 388.1L296.8 392.4L297.8 397.6M298.0 384.1L297.8 379.5L305.0 379.2L306.2 382.5L306.2 387.1L306.5 391.7L308.0 394.5M305.0 379.2L307.3 379.5L308.5 384.1L309.1 394.2M307.3 379.5L310.1 378.2L311.1 376.7L314.2 377.3L314.7 381.0L312.1 385.6L311.9 390.2L311.9 393.6M290.9 381.3L291.4 377.0L293.7 374.9L294.7 372.1L297.3 371.2L299.8 369.7L303.2 366.9L305.5 367.2L306.0 370.3L307.5 373.3L310.3 374.3L311.1 376.7M305.5 367.2L313.9 366.0L315.7 362.9L315.8 354.5M335.7 341.1L334.4 338.7L331.3 338.1L329.3 332.5L330.3 328.9L330.1 326.4L330.3 324.2L329.3 320.6L331.3 318.4L331.3 316.0L334.4 313.8L334.4 311.5M329.3 320.6L328.3 314.7L324.2 309.5L326.2 306.8L326.0 301.2L327.0 300.0M335.7 341.1L341.3 343.9L343.4 342.7L366.5 353.4L366.5 351.9L369.0 351.9L369.0 345.7L369.0 323.6L368.3 320.9L369.4 316.1M369.0 345.7L399.5 345.7M343.4 342.7L345.7 350.6L344.7 361.4L339.8 371.2M314.2 377.3L314.9 373.9L315.5 371.8L319.0 370.6L322.4 373.0L325.5 372.4L328.0 373.9L331.9 372.4L337.0 373.0L339.8 371.2L341.1 373.0M341.1 373.0L341.3 375.2L342.4 377.9L340.3 379.5L338.8 383.8L337.8 386.2L336.2 387.4L335.2 391.7L333.4 393.3L331.9 391.7L330.1 392.4L328.8 394.2L327.5 395.4L327.0 398.5M341.1 373.0L342.1 373.9L343.6 376.1L343.4 379.8L344.7 382.5L341.3 382.5L340.6 383.8L343.9 388.7L344.7 390.2L341.9 394.8L342.4 397.9L343.4 400.9L346.5 406.5L346.0 408.0L342.1 406.5L339.0 406.5L333.9 406.5L330.1 406.2M333.9 406.5L333.9 410.2L330.1 410.2M339.0 406.5L338.8 409.2L341.9 409.2L342.1 410.5L340.6 413.2L342.1 414.8L341.9 418.7L341.9 420.3L338.3 420.6L337.0 419.4L334.9 420.6L334.7 422.4L335.4 424.3L333.4 425.2M335.7 428.6L337.2 426.7L338.5 427.3L337.0 429.2L337.0 430.7L336.2 430.9M338.5 427.3L340.8 426.7L341.9 428.3L343.9 426.4L346.0 422.4L346.5 419.4L348.5 416.3L350.6 414.8L350.6 411.7L351.3 407.1L352.6 402.5M346.5 406.5L347.5 402.5L352.6 402.5L352.6 399.7L354.9 397.6L357.5 399.4L362.4 400.6L363.6 398.5L367.5 397.6L369.8 397.9L375.2 397.6M344.7 390.2L347.2 389.6L350.3 389.0L352.6 388.7L353.6 385.6L357.2 385.3L360.6 380.7L363.6 379.5L362.6 374.6L361.1 374.3L362.1 372.1L361.6 370.3L362.6 369.7L363.6 365.4L366.5 365.1L366.5 353.4M363.6 379.5L365.7 385.6L367.7 387.1L369.8 390.2L372.6 393.3L375.2 397.6L377.7 400.0L380.6 399.4L383.9 402.5L386.7 402.2L389.5 401.3L392.1 400.3L397.0 399.1M397.0 399.1L395.4 396.7L393.9 392.7L389.5 388.7L392.3 387.1L392.9 381.0L394.6 379.5L397.5 374.3L398.5 369.3L398.5 367.2L399.8 361.1L403.9 358.0M398.5 369.3L402.1 367.5L404.9 368.4L407.5 368.7L410.0 371.8L413.6 374.9L415.4 374.3M413.6 374.9L412.1 379.5L414.9 379.8L415.8 377.9M414.9 379.8L414.4 380.7L417.7 385.6L425.4 388.7L428.0 388.7L420.3 397.9L415.1 399.1L412.3 401.1L409.5 400.3L406.2 402.8L402.3 402.2L399.5 399.7L397.2 399.7L397.0 399.1M412.3 401.1L410.0 404.6L410.0 415.7L411.6 418.4M392.1 400.3L393.1 401.9L394.6 407.4L393.4 409.8L392.1 412.6L391.8 416.3L401.3 422.4L401.8 424.6L405.4 427.6M391.8 416.3L383.1 416.3L380.8 417.5L380.8 414.8L381.6 411.7L383.1 409.5L385.2 406.5L383.9 402.5M383.1 416.3L383.9 420.6L381.8 420.6L379.3 421.5L379.8 418.4L380.8 417.5M383.9 420.6L383.9 423.3L381.8 426.4L380.3 426.9L379.8 423.3L379.3 421.5M380.3 426.9L380.8 431.6L383.1 436.2L383.9 438.4L387.0 440.8L389.3 442.1L391.8 442.4L393.4 448.5L396.7 448.5L401.1 449.1L403.6 447.9L408.5 445.4M393.6 448.8L393.1 450.6L394.4 454.6L397.0 458.3L396.7 462.3L395.4 465.7L393.1 463.2L393.1 457.7L390.3 456.2L388.8 454.9L389.5 450.0L390.3 446.4L389.3 442.1M390.3 456.2L385.7 458.0L382.3 458.6L382.9 461.1M383.9 438.4L379.0 439.3L377.7 441.8L378.5 446.0L377.7 449.7L379.3 451.3L381.3 450.6L381.3 454.3L377.7 451.6L374.7 448.8L371.6 449.7L369.8 447.6L367.5 448.2L366.5 446.7M366.5 446.7L366.5 453.1L361.3 453.1L361.3 462.9L364.9 467.2M336.5 431.9L338.8 431.3L347.5 431.3L348.5 434.7L350.1 438.1L354.7 437.8L354.7 434.7L357.7 434.7L360.8 435.6L361.1 442.4L362.1 447.6L366.2 446.7M335.1 466.1L338.3 465.4L340.8 466.6L352.4 466.6L359.8 468.4L364.9 467.2L369.8 467.8M369.8 467.8L367.7 468.4L364.7 468.4L358.8 469.4L358.8 480.7L356.2 480.7L356.2 489.3L356.2 500.4L353.6 501.9L349.8 501.3L347.2 501.0M356.2 489.3L358.0 495.4L360.6 495.4L363.9 490.8L370.6 491.8L373.9 486.9L376.5 483.8L380.3 481.3L376.7 479.2L375.9 476.1L372.1 473.0L369.8 467.8M369.8 467.8L374.1 468.1L378.8 463.8L382.9 461.1L385.2 462.3L389.3 464.5L389.5 468.4L388.8 471.5L389.5 474.0L388.2 478.6L385.2 481.9L380.3 481.3M385.2 481.9L387.0 488.4L386.8 492.8L387.2 495.4L389.3 495.6M386.8 492.8L385.4 492.1L384.1 493.0L383.9 495.4L385.2 497.0L387.2 495.4M374.1 504.0L375.4 506.2L377.2 507.1L379.5 505.0L380.3 503.4L379.0 501.6L377.2 501.0L375.4 502.2L374.1 504.0M392.6 317.2L394.4 322.7M394.6 322.7L395.9 316.6L396.2 312.9L399.3 314.1L404.4 310.7L410.0 307.7L410.8 301.2L413.6 299.4L419.8 299.1L421.3 302.8L422.8 305.2L421.3 308.9L422.8 312.0L427.4 315.0L427.2 318.1L429.2 321.2M394.6 323.0L397.5 323.6L401.1 321.2L402.3 319.6L399.8 316.6L404.9 315.0L405.4 314.4L404.4 310.7M405.4 314.4L408.5 315.4L412.6 317.8L419.5 323.6L423.9 323.9L427.2 325.8L429.0 325.8M424.4 323.9L425.4 321.2L427.7 321.2M397.2 302.8L399.0 300.3L402.3 300.3L407.5 300.3L413.6 299.4M394.9 311.7L397.0 310.7L398.7 308.3L397.2 307.1M419.8 299.1L418.5 295.1L417.7 292.3L419.8 291.4L424.1 293.9L428.0 292.0L429.0 295.1L430.3 295.4M414.6 362.9L415.9 359.5L419.0 359.8L424.1 360.5L426.7 361.1L429.2 357.4L438.2 354.9L441.0 362.1M438.2 354.9L445.9 351.9L447.7 345.7L446.4 343.6L439.7 343.0L437.2 339.0M435.1 337.4L436.4 338.1M286.0 299.1L287.0 296.0L286.2 292.0L287.3 290.5L287.3 285.9" fill="none" stroke="#000" stroke-width="1.15" stroke-linejoin="round"/>
<path d="M363.9 301.9L365.4 304.0L367.7 305.1L370.3 305.4L372.4 305.1L374.4 304.0L376.7 302.2" fill="none" stroke="#000" stroke-width="2.0" stroke-linecap="round" stroke-linejoin="round"/>
<path d="M367.2 300.5L370.0 301.4L372.6 300.9L374.1 299.9" fill="none" stroke="#000" stroke-width="1.7" stroke-linecap="round" stroke-linejoin="round"/>
<path d="M364.9 293.6L366.7 295.1L368.0 296.6" fill="none" stroke="#000" stroke-width="2.2" stroke-linecap="round" stroke-linejoin="round"/>
<path d="M368.5 296.9L369.8 298.5L370.3 299.7" fill="none" stroke="#000" stroke-width="2.0" stroke-linecap="round" stroke-linejoin="round"/>
<path d="M366.5 297.6L367.5 298.8" fill="none" stroke="#000" stroke-width="1.8" stroke-linecap="round" stroke-linejoin="round"/>
<path d="M371.3 294.8L371.8 296.0" fill="none" stroke="#000" stroke-width="1.8" stroke-linecap="round" stroke-linejoin="round"/>
<path d="M373.1 297.2L374.1 297.6" fill="none" stroke="#000" stroke-width="1.8" stroke-linecap="round" stroke-linejoin="round"/>
<path d="M369.0 290.8L370.0 290.8" fill="none" stroke="#000" stroke-width="1.8" stroke-linecap="round" stroke-linejoin="round"/>
<path d="M367.7 290.5L368.3 288.7" fill="none" stroke="#000" stroke-width="1.6" stroke-linecap="round" stroke-linejoin="round"/>
<path d="M363.4 298.2L364.4 297.9L365.2 296.9" fill="none" stroke="#000" stroke-width="1.8" stroke-linecap="round" stroke-linejoin="round"/>
<path d="M361.3 295.7L363.6 296.3L364.4 296.6" fill="none" stroke="#000" stroke-width="1.6" stroke-linecap="round" stroke-linejoin="round"/>
<path d="M259.6 311.4h4.0v1.8h-4.0zM261.3 325.6h2.2v1.5h-2.2zM264.1 326.6h1.8v1.5h-1.8zM268.2 324.3h1.3v3.0h-1.3zM269.5 323.1h1.3v1.6h-1.3zM258.3 324.4h1.5v1.5h-1.5zM260.4 326.5h1.0v1.0h-1.0zM321.1 411.5h1.6v1.6h-1.6zM323.3 407.7h1.3v1.3h-1.3zM326.2 401.3h2.0v2.4h-2.0zM318.7 416.9h1.2v1.2h-1.2zM289.6 461.4h1.5v1.3h-1.5zM267.3 436.8h1.5v1.3h-1.5zM415.1 448.2h1.6v1.8h-1.6zM418.0 450.0h1.5v1.2h-1.5zM419.8 451.7h1.5v1.5h-1.5zM406.1 428.2h1.2v2.0h-1.2zM405.1 430.8h1.2v2.2h-1.2zM406.1 436.8h1.2v1.4h-1.2zM440.6 374.1h4.5v1.6h-4.5zM422.7 441.5h1.2v1.2h-1.2zM375.7 301.4h2.0v1.6h-2.0zM373.7 299.4h1.5v1.3h-1.5zM373.0 296.9h1.8v1.3h-1.8zM370.8 294.4h1.6v2.0h-1.6zM371.2 292.2h2.4v1.6h-2.4zM365.3 293.2h1.8v3.2h-1.8zM368.3 298.7h2.4v2.0h-2.4zM367.2 296.2h1.5v1.5h-1.5zM363.2 301.5h1.3v1.3h-1.3zM369.1 300.9h1.3v1.2h-1.3zM368.0 290.2h1.5v1.3h-1.5zM355.0 290.7h1.4v2.0h-1.4zM357.0 295.1h1.5v1.8h-1.5zM357.7 296.6h1.2v1.2h-1.2zM314.6 290.1h1.8v1.2h-1.8zM341.1 302.4h1.5v1.3h-1.5zM332.1 308.8h1.6v1.4h-1.6zM335.1 299.8h1.2v1.0h-1.2zM336.7 303.8h1.0v1.0h-1.0zM420.8 296.1h1.6v3.0h-1.6zM413.8 294.0h2.6v1.6h-2.6zM382.3 322.2h2.2v1.3h-2.2zM388.2 340.2h1.2v3.0h-1.2zM388.7 343.7h1.2v1.6h-1.2zM414.9 308.8h1.6v3.2h-1.6zM415.5 312.1h1.3v1.6h-1.3zM395.5 315.9h0.9v2.0h-0.9zM399.5 375.3h2.0v2.2h-2.0zM339.7 371.8h2.2v1.8h-2.2zM289.4 387.7h2.4v4.4h-2.4zM303.3 387.6h1.8v4.6h-1.8zM304.5 392.0h1.5v2.0h-1.5zM316.1 380.4h1.2v2.4h-1.2zM396.8 400.0h1.3v4.4h-1.3zM383.6 406.6h1.6v2.8h-1.6zM380.1 413.5h1.4v1.8h-1.4zM379.1 418.3h1.3v2.2h-1.3zM377.6 439.7h1.8v2.2h-1.8zM380.4 446.8h1.8v1.5h-1.8zM386.7 437.1h2.0v1.3h-2.0zM375.0 464.8h3.0v1.2h-3.0zM384.2 460.8h3.0v1.1h-3.0zM376.2 495.1h2.0v1.3h-2.0zM369.9 497.6h1.8v1.2h-1.8zM369.6 506.5h2.0v1.2h-2.0zM367.7 504.7h1.6v1.2h-1.6zM388.8 418.7h1.5v1.3h-1.5zM387.1 414.4h1.3v1.3h-1.3zM389.0 408.0h2.0v1.3h-2.0zM396.1 423.5h1.2v1.6h-1.2zM381.8 433.9h1.0v1.0h-1.0zM348.7 415.1h1.2v1.2h-1.2zM351.1 418.4h1.6v1.3h-1.6zM363.7 408.7h2.0v1.0h-2.0zM357.8 408.4h2.0v1.0h-2.0zM352.8 408.1h1.6v1.0h-1.6zM374.0 439.3h1.3v1.3h-1.3z" fill="#000"/>
</g>
<rect x="253.7" y="290.5" width="192.2" height="230.1" fill="none" stroke="#1a1a1a" stroke-width="1.15"/>
<path d="M253.7 290.5h-2.8" stroke="#000" stroke-width="1.2"/>
<text class="ax" x="237.2" y="293.5" textLength="11.9" lengthAdjust="spacingAndGlyphs">40N</text>
<path d="M253.7 321.2h-2.8" stroke="#000" stroke-width="1.2"/>
<text class="ax" x="237.2" y="324.2" textLength="11.9" lengthAdjust="spacingAndGlyphs">30N</text>
<path d="M253.7 351.9h-2.8" stroke="#000" stroke-width="1.2"/>
<text class="ax" x="237.2" y="354.9" textLength="11.9" lengthAdjust="spacingAndGlyphs">20N</text>
<path d="M253.7 382.5h-2.8" stroke="#000" stroke-width="1.2"/>
<text class="ax" x="237.2" y="385.5" textLength="11.9" lengthAdjust="spacingAndGlyphs">10N</text>
<path d="M253.7 413.2h-2.8" stroke="#000" stroke-width="1.2"/>
<text class="ax" x="241.2" y="416.2" textLength="7.9" lengthAdjust="spacingAndGlyphs">EQ</text>
<path d="M253.7 443.9h-2.8" stroke="#000" stroke-width="1.2"/>
<text class="ax" x="237.2" y="446.9" textLength="11.9" lengthAdjust="spacingAndGlyphs">10S</text>
<path d="M253.7 474.6h-2.8" stroke="#000" stroke-width="1.2"/>
<text class="ax" x="237.2" y="477.6" textLength="11.9" lengthAdjust="spacingAndGlyphs">20S</text>
<path d="M253.7 505.3h-2.8" stroke="#000" stroke-width="1.2"/>
<text class="ax" x="237.2" y="508.3" textLength="11.9" lengthAdjust="spacingAndGlyphs">30S</text>
<path d="M253.7 520.6v2.6" stroke="#000" stroke-width="1.2"/>
<text class="ax" x="247.8" y="529.9" textLength="11.9" lengthAdjust="spacingAndGlyphs">20W</text>
<path d="M305.0 520.6v2.6" stroke="#000" stroke-width="1.2"/>
<text class="ax" x="303.2" y="529.9" textLength="3.6" lengthAdjust="spacingAndGlyphs">0</text>
<path d="M356.2 520.6v2.6" stroke="#000" stroke-width="1.2"/>
<text class="ax" x="350.3" y="529.9" textLength="11.9" lengthAdjust="spacingAndGlyphs">20E</text>
<path d="M407.5 520.6v2.6" stroke="#000" stroke-width="1.2"/>
<text class="ax" x="401.5" y="529.9" textLength="11.9" lengthAdjust="spacingAndGlyphs">40E</text>
<text class="ti" x="345.0" y="284.8" textLength="19.6" lengthAdjust="spacingAndGlyphs">20C</text>
<text class="lab" x="251.5" y="284.0">(e)</text>
<g clip-path="url(#cff)">
<path d="M488.2 373.2L491.7 370.8L498.7 366.8L504.5 364.4L510.4 363.3L522.0 362.4L533.7 362.4L545.4 362.9L557.1 363.8L567.0 365.0L605.0 368.3L612.0 367.7L620.2 365.9L628.4 365.3L635.4 365.9L642.4 367.7L648.2 370.6L652.9 374.1L657.0 376.3L657.6 380.7L658.2 384.5L661.4 387.0L665.8 388.3L668.9 387.0L671.4 385.8L672.7 383.2L674.6 380.7L677.1 378.2L680.2 376.3L690.0 373.5L690.0 525.0L485.0 525.0Z" fill="#ffff00"/><path d="M497.8 474.1C498.0 472.0 499.9 469.8 502.1 467.7C504.2 465.5 507.5 463.0 510.7 461.2C513.9 459.4 517.9 458.0 521.5 456.9C525.1 455.8 528.7 455.3 532.3 454.7C535.9 454.2 539.8 453.5 543.0 453.6C546.3 453.8 548.8 454.7 551.7 455.8C554.5 456.9 558.9 459.7 560.3 460.1C561.7 460.5 559.3 457.7 560.0 458.2C560.7 458.6 562.9 461.1 564.7 462.9C566.4 464.6 568.8 466.6 570.5 468.7C572.3 470.8 573.6 473.2 575.2 475.7C576.7 478.2 578.5 481.3 579.9 483.9C581.2 486.4 582.0 488.7 583.4 490.9C584.7 493.0 586.5 495.0 588.0 496.7C589.6 498.5 591.3 499.5 592.7 501.4C594.1 503.3 595.6 506.7 596.2 508.1C596.8 509.4 596.3 508.5 596.2 509.4C596.1 510.4 596.3 512.6 595.5 513.8C594.6 515.0 593.0 516.0 591.1 516.7C589.1 517.4 586.2 518.0 583.8 518.2C581.4 518.4 580.1 518.2 576.5 517.9C572.8 517.5 566.0 516.9 561.9 516.0C557.8 515.1 555.3 513.7 551.7 512.3C548.0 511.0 543.6 509.8 540.0 508.0C536.4 506.1 533.5 503.3 530.1 501.1C526.7 498.8 522.9 496.9 519.3 494.6C515.7 492.3 511.6 489.4 508.6 487.1C505.5 484.7 502.8 482.7 501.0 480.6C499.2 478.4 497.6 476.3 497.8 474.1Z" fill="#ffffff"/><path d="M489.9 287.9L491.4 309.1L497.2 306.2L504.5 304.0L513.3 302.8L522.0 302.2L529.3 301.1L535.2 298.1L541.0 295.2L545.4 297.4L549.8 298.9L557.1 299.6L565.8 298.9L571.7 300.3L577.5 303.2L587.0 305.4L593.8 306.2L599.6 303.2L606.9 304.7L614.2 305.4L624.4 306.9L631.7 306.2L634.6 302.5L640.5 299.6L647.8 298.9L655.1 299.6L663.8 301.1L671.1 302.2L675.5 299.6L677.0 296.7L674.1 290.8L674.1 287.9Z" fill="#ffff00"/><path d="M488.2 380.2L491.7 378.4L498.7 375.5L504.5 373.8L510.4 372.6L522.0 371.4L533.7 371.1L545.4 371.4L557.1 372.6L567.0 373.8L605.0 375.3L612.0 375.8L620.2 374.1L628.4 372.3L635.4 372.9L641.2 374.7L645.9 378.2L648.8 382.9L650.0 387.5L648.8 392.2L644.7 396.9L640.0 399.8L636.5 401.5L634.7 408.2L633.8 414.3L634.7 419.6L638.2 423.1L641.7 425.8L643.9 425.8L646.1 423.1L647.9 418.7L650.5 414.3L655.0 408.2L661.0 404.7L667.0 400.3L672.0 396.5L675.2 393.3L677.7 390.2L680.2 387.6L690.0 382.0L690.0 525.0L613.0 528.4L613.0 518.9L610.1 516.7L607.9 510.9L607.2 503.6L605.7 496.3L604.2 489.0L610.1 486.1L615.9 483.1L625.4 480.4L623.1 476.9L617.2 474.5L610.2 473.4L603.2 476.9L596.2 478.0L590.4 474.5L583.4 471.0L575.2 466.4L571.7 460.5L567.0 453.5L560.0 446.5L551.7 441.4L540.9 438.6L530.1 437.5L519.3 437.5L508.6 438.6L499.9 440.7L489.2 447.2Z" fill="#c8ff00"/><path d="M489.2 496.8L499.9 503.2L508.6 508.6L519.3 514.0L530.1 518.3L539.8 522.0L489.2 522.0Z" fill="#c8ff00"/><path d="M605.0 467.9L612.0 464.4L620.2 465.6L626.0 469.1L628.4 474.9L627.2 483.1L605.0 483.1Z" fill="#ffff00"/><path d="M612.0 475.8C612.2 474.3 615.7 472.7 617.8 472.3C620.0 472.0 623.3 472.5 624.9 473.5C626.4 474.5 627.4 476.6 627.2 478.2C627.0 479.7 625.4 482.3 623.7 482.9C621.9 483.4 618.6 482.9 616.7 481.7C614.7 480.5 611.8 477.4 612.0 475.8Z" fill="#ffff00"/><path d="M603.8 473.5L609.7 478.2L612.0 486.4L609.7 493.4L603.8 496.9Z" fill="#ffff00"/><path d="M603.8 507.4L608.5 509.7L607.3 517.9L603.8 519.1Z" fill="#ffff00"/><path d="M488.2 384.9L491.7 383.1L498.7 380.8L504.5 379.0L510.4 378.4L522.0 377.9L533.7 377.9L545.4 377.9L557.1 378.1L567.0 378.8L605.0 380.5L612.0 381.7L620.2 380.5L628.4 378.8L634.2 377.6L640.0 379.4L644.1 383.4L645.3 388.7L643.5 393.4L640.0 396.9L636.5 399.2L634.2 401.5L633.0 406.2L632.4 412.1L631.9 417.9L631.9 428.1L632.4 424.7L633.0 436.4L631.9 446.9L628.4 451.5L622.5 453.9L616.7 456.2L605.0 459.7L640.0 453.5L630.1 454.7L620.7 455.8L612.6 458.2L604.4 460.5L595.0 461.7L586.9 460.5L579.9 455.8L575.2 450.0L571.7 443.0L581.8 456.9L577.5 449.3L571.1 442.9L562.4 437.5L551.7 433.2L540.9 430.6L530.1 429.3L519.3 429.3L508.6 430.6L499.9 432.1L489.2 435.8Z" fill="#addce6"/><path d="M690.0 388.0L683.0 392.7L680.8 394.6L678.3 397.7L675.3 400.0L669.0 407.3L663.7 414.3L658.4 421.4L651.4 428.4L647.9 434.6L646.1 444.0L646.5 448.0L648.2 457.4L645.9 464.4L640.0 469.1L637.7 470.0L640.0 477.0L645.9 479.4L654.1 478.2L657.6 475.8L661.1 477.0L665.7 480.5L668.1 486.4L671.6 491.0L677.4 490.4L682.1 487.5L689.1 485.2Z" fill="#addce6"/><path d="M616.7 496.9C617.7 495.5 620.2 495.7 622.5 495.7C624.9 495.7 628.9 495.9 630.7 496.9C632.4 497.8 633.0 499.4 633.0 501.5C633.0 503.7 631.3 506.6 630.7 509.7C630.1 512.8 631.1 518.5 629.5 520.2C628.0 522.0 623.3 521.4 621.4 520.2C619.4 519.1 618.6 515.9 617.8 513.2C617.1 510.5 616.9 506.6 616.7 503.9C616.5 501.2 615.7 498.2 616.7 496.9Z" fill="#addce6"/><path d="M488.2 388.4L491.7 386.6L498.7 384.3L504.5 382.5L510.4 381.9L522.0 380.8L533.7 380.2L545.4 379.6L557.1 380.2L567.0 380.8L605.0 384.6L612.0 386.4L619.0 385.2L626.0 384.0L631.3 382.9L636.5 380.5L641.2 382.9L642.4 388.7L640.0 393.4L636.5 395.7L632.4 398.0L631.3 403.9L630.7 409.7L630.1 415.6L629.5 423.7L622.5 427.0L620.2 435.2L614.3 443.4L609.7 448.0L605.0 450.4L613.7 443.0L611.4 445.3L606.7 448.8L599.7 450.0L593.9 447.7L589.2 443.0L589.2 441.4L583.4 434.4L577.5 429.7L571.7 427.4L565.8 428.5L560.0 429.7L545.4 423.1L543.1 417.6L538.4 412.9L531.4 409.4L522.0 407.1L510.4 405.9L498.7 405.6L488.2 405.3Z" fill="#80d0e8"/><path d="M690.0 392.0L681.3 403.8L677.8 410.0L674.3 415.2L669.0 421.4L665.5 428.4L664.6 434.6L666.3 440.7L668.1 444.0L672.7 448.0L677.4 456.2L682.1 462.0L690.0 467.0Z" fill="#80d0e8"/><path d="M488.2 394.8L491.7 393.0L496.3 390.7L501.0 388.9L506.9 388.9L510.4 391.3L515.0 394.2L519.7 397.7L522.0 399.5L517.4 400.6L510.4 401.0L501.0 401.0L488.2 399.5Z" fill="#00ffff"/><path d="M544.2 404.7L545.4 398.9L550.1 396.5L557.1 397.7L561.7 398.9L567.0 398.3L567.0 392.3L574.0 394.1L583.4 393.5L595.0 391.8L606.7 392.3L616.1 394.7L623.1 396.4L630.1 398.8L632.4 402.9L616.7 396.9L622.5 399.2L628.4 400.4L631.3 401.5L631.3 409.7L630.1 417.9L628.4 423.7L628.4 420.0L622.5 424.7L616.7 425.8L605.0 424.7L620.7 421.5L616.1 427.4L611.4 432.1L604.4 435.0L597.4 434.4L590.4 429.7L585.7 426.2L581.0 425.0L574.0 422.7L567.0 421.5L560.0 421.5L557.1 423.1L552.4 423.1L547.7 414.1Z" fill="#00ffff"/><path d="M690.0 406.0L681.3 417.9L676.9 424.0L674.4 430.2L674.7 435.5L677.8 440.7L681.3 443.0L690.0 446.0Z" fill="#00ffff"/><path d="M553.6 398.9C553.9 398.0 554.9 396.7 555.9 397.1C556.9 397.5 558.0 400.1 559.4 401.2C560.8 402.3 563.1 402.6 564.1 403.5C565.1 404.5 565.6 406.3 565.2 407.1C564.9 407.8 563.1 408.4 561.7 408.2C560.4 408.0 558.3 406.9 557.1 405.9C555.8 404.9 554.7 403.5 554.2 402.4C553.6 401.2 553.3 399.8 553.6 398.9Z" fill="#5a8fe0"/><path d="M593.9 412.2C594.3 410.9 595.6 410.1 597.4 409.3C599.1 408.5 602.0 408.2 604.4 407.5C606.7 406.8 609.4 405.5 611.4 405.2C613.3 404.9 615.0 404.8 616.1 405.8C617.1 406.7 617.8 409.0 617.8 411.0C617.8 413.1 616.9 416.2 616.1 418.0C615.2 419.9 614.3 421.4 612.6 422.1C610.8 422.8 607.9 422.3 605.5 422.1C603.2 421.9 600.3 421.8 598.5 421.0C596.8 420.1 595.8 418.3 595.0 416.9C594.3 415.4 593.5 413.5 593.9 412.2Z" fill="#5a8fe0"/><path d="M557.7 400.5C558.1 398.8 558.8 400.3 560.0 400.5C561.2 400.7 563.7 400.7 564.7 401.7C565.6 402.7 566.0 404.8 565.8 406.4C565.6 407.9 564.5 410.1 563.5 411.0C562.5 412.0 561.0 412.2 560.0 412.2C559.0 412.2 558.1 413.0 557.7 411.0C557.3 409.1 557.3 402.3 557.7 400.5Z" fill="#5a8fe0"/>
<path d="M527.4 303.4L529.0 303.1L532.6 305.2L535.1 304.9L536.9 305.5L541.0 303.7L545.1 301.5L550.2 300.3L555.6 300.3L562.5 300.0L567.9 298.8L570.7 299.7L568.9 300.3L569.7 301.5L569.7 303.4L570.7 305.2L570.2 306.8L568.4 309.2L570.7 310.1L572.0 311.4L576.4 312.3L581.2 313.8L582.5 316.3L585.1 317.5L588.7 319.3L591.2 320.3L594.1 318.7L593.8 314.7L596.4 312.6L598.2 312.3L600.5 312.6L602.0 314.4L604.1 314.7L607.1 316.3L612.3 316.9L616.6 318.4L619.2 317.5L622.0 316.3L625.3 317.2L625.8 321.2L626.1 324.2L627.6 327.3L629.2 329.8L630.5 333.5L632.0 336.5L633.5 339.6L634.0 342.7L636.6 345.1L637.4 348.8L637.9 353.1L638.4 355.2L641.2 358.0L643.0 362.6L643.8 365.4L646.3 367.8L648.9 370.9L652.2 373.3L653.5 374.9L653.3 377.0L652.0 377.6L653.5 378.2L655.3 381.0L657.9 381.3L660.9 380.1L663.0 379.2L668.6 378.6L672.0 377.0L674.0 376.7L673.8 381.0L672.7 384.1L671.5 386.8L670.2 388.7L668.6 392.4L666.8 397.0L664.8 400.0L663.0 402.5L660.4 405.6L658.6 407.1L656.6 408.6L654.0 411.4L651.5 414.4L649.2 418.4L647.4 420.3L645.6 421.8L645.3 423.3L644.3 425.5L642.8 428.9L642.0 431.6L643.5 434.1L643.5 437.8L644.0 440.8L644.5 443.9L646.1 445.4L646.6 448.5L646.3 453.1L647.1 457.7L646.3 461.1L644.8 463.2L642.0 466.0L637.4 468.4L635.6 470.9L633.5 472.7L631.7 474.3L631.5 476.4L633.0 479.2L633.5 482.2L633.5 486.5L632.8 488.7L628.7 490.5L626.4 492.7L626.9 495.4L626.4 499.1L624.8 501.6L622.0 505.0L619.9 508.3L616.9 512.0L614.1 514.5L610.5 516.9L608.2 517.5L605.3 518.1L602.8 517.8L599.2 518.1L593.8 520.0L590.7 518.8L589.7 517.2L588.7 513.9L589.5 510.5L586.9 505.3L584.8 501.0L582.3 497.6L581.2 494.8L580.5 489.9L579.7 486.9L579.7 483.5L577.1 477.6L574.6 471.5L572.8 466.3L572.8 462.3L573.8 459.9L574.6 454.6L576.9 451.9L577.9 447.0L577.9 443.9L575.9 440.8L576.6 439.3L575.4 434.7L574.1 431.9L573.8 430.1L572.8 427.9L570.7 425.2L568.2 421.8L566.4 419.0L565.1 415.4L566.6 412.6L567.2 410.2L567.7 407.4L567.7 406.2L567.9 404.3L567.4 401.3L565.6 400.6L564.3 399.1L563.1 399.4L560.5 399.7L557.9 400.0L556.4 397.9L555.4 395.4L554.1 393.9L551.3 393.6L548.7 393.9L545.6 394.5L542.0 396.3L539.5 397.6L537.2 398.8L534.6 397.6L532.3 397.3L527.2 398.5L522.8 399.7L519.5 397.9L514.9 393.9L513.1 392.1L510.5 390.5L508.7 387.1L507.4 384.1L505.4 381.6L504.1 379.5L502.6 376.7L499.8 375.2L500.0 372.1L499.5 370.3L497.7 368.1L500.3 364.1L501.6 357.7L501.0 353.7L499.0 349.4L499.2 347.9L500.3 344.8L501.8 340.5L504.1 337.4L505.4 333.1L508.2 330.1L509.5 327.6L513.1 326.4L516.4 323.0L518.0 320.0L517.4 316.9L519.0 314.1L523.1 310.1L525.1 308.9L526.7 305.8L527.4 303.4ZM668.9 450.0L670.4 454.6L672.0 460.8L671.2 462.3L669.9 460.8L669.1 465.4L669.1 469.1L667.6 474.6L665.6 480.7L663.5 486.9L663.0 489.9L658.4 491.8L655.3 489.9L654.5 485.0L653.5 480.7L654.0 478.6L656.1 475.5L656.3 471.5L655.3 466.9L656.6 462.9L661.2 461.4L663.8 458.6L665.6 455.6L667.6 451.6L668.9 450.0ZM625.3 317.2L629.2 317.8L630.5 316.9L631.7 314.7L632.2 312.6L633.5 309.2L634.3 307.7L634.3 304.3L635.3 300.9L633.5 300.9L631.2 300.3L629.2 302.2L626.6 302.8L623.3 300.6L621.2 300.0L620.2 301.9L617.1 300.9L615.1 300.3L612.8 299.7L612.3 297.2L611.2 295.4L610.2 293.6L609.7 292.0L609.7 290.5L609.7 285.9L686.1 285.9L686.1 331.0L683.5 331.3L679.7 331.3L677.1 328.9L674.5 327.9L672.7 324.6L672.0 322.7L669.4 320.6L666.8 321.2L665.6 323.0L666.8 325.8L667.6 328.2L669.7 330.4L670.9 332.2L671.2 335.0L672.7 337.1L672.7 335.0L673.8 333.1L674.8 334.1L674.8 336.8L674.0 338.1L674.8 339.0L677.1 339.0L682.0 338.1L686.1 334.7L686.1 358.6L683.5 359.8L681.2 361.1L678.6 362.1L676.3 364.1L676.3 365.4L672.0 367.2L668.4 368.7L665.6 370.3L661.7 372.1L657.9 373.9L654.0 374.3L653.3 372.4L652.5 367.8L652.2 365.7L651.5 361.1L648.9 357.4L645.8 353.4L642.8 347.3L641.2 342.7L639.9 339.3L636.1 333.5L632.8 327.3L632.2 322.7L631.0 325.8L630.2 328.2L627.6 325.8L626.4 322.7L625.8 321.2ZM519.7 285.9L519.7 290.5L518.5 294.5L520.0 295.4L519.5 299.7L522.3 299.7L524.9 299.1L526.4 301.2L528.2 302.8L529.0 302.5L531.3 300.6L536.4 300.3L537.4 300.6L540.2 297.9L541.3 295.7L543.1 294.5L541.8 292.0L542.6 290.5L544.6 285.9ZM548.7 291.7L550.5 290.8L551.3 291.4L550.5 292.6L549.0 292.3ZM545.6 293.9L546.7 293.3L546.4 294.2ZM564.1 285.9L564.1 293.6L565.6 293.9L567.2 293.0L567.4 285.9ZM574.3 296.6L576.6 296.0L582.5 295.7L581.2 299.7L581.0 300.6L578.4 299.4L574.6 297.9ZM582.5 285.9L582.5 290.5L583.8 293.6L582.8 296.6L583.8 296.9L585.1 295.4L586.4 293.6L584.8 291.4L586.1 289.0L588.7 290.8L590.0 290.2L588.7 285.9ZM592.3 285.9L592.3 290.5L595.6 294.2L596.6 295.7L597.1 297.6L598.2 300.3L600.0 301.2L601.0 300.3L602.0 301.5L601.8 298.8L604.1 297.6L604.1 296.0L601.5 293.9L601.2 292.6L600.5 290.5L602.8 289.6L604.1 290.5L605.3 285.9ZM602.8 304.3L605.3 304.6L610.0 305.2L606.6 305.8L603.0 305.2ZM625.3 305.8L627.1 304.9L631.2 304.0L629.4 305.8L627.1 307.1Z" fill="none" stroke="#000" stroke-width="1.55" stroke-linejoin="round"/>
<path d="M669.4 285.9L669.1 292.0L667.9 295.4L668.1 298.2L670.7 298.5L673.2 300.3L675.8 300.9L679.7 300.3L680.9 298.8L680.4 293.6L678.4 290.5L677.9 285.9ZM624.0 413.8L626.6 412.3L629.7 412.6L630.7 414.1L629.7 416.3L629.2 419.4L627.6 421.2L626.1 420.9L624.0 421.2L623.8 417.8ZM617.6 423.7L618.7 427.0L618.9 431.6L621.0 435.6L622.3 439.6L621.0 439.6L619.4 435.6L617.4 431.6L617.1 427.0ZM629.7 442.7L631.2 445.4L632.0 450.0L632.2 454.6L632.8 457.1L631.5 457.1L630.5 453.1L630.2 448.5L629.4 444.8Z" fill="none" stroke="#000" stroke-width="1.1" stroke-linejoin="round"/>
<path d="M536.9 305.5L537.9 307.4L538.2 309.8L538.2 312.9L539.5 314.4L535.1 315.0L533.3 316.0L533.1 318.4L529.7 321.2L527.9 322.4L524.6 322.7L520.3 325.2L520.3 329.5M520.3 328.3L508.7 328.3M520.3 329.5L520.3 333.5L511.8 333.5L511.8 341.3L509.2 342.7L509.0 347.8L499.0 347.8M520.3 329.5L530.3 336.5L545.6 348.5L545.6 349.7L550.8 352.5L551.0 354.9L553.4 354.5L557.4 353.4L561.8 349.1L573.3 341.1M530.3 336.5L525.9 336.5L528.2 362.6L529.0 363.2L528.5 365.7L518.5 365.7L515.1 366.0L513.1 365.7L511.3 367.8M500.3 363.8L501.6 362.6L504.1 362.0L506.7 362.6L508.5 364.1L511.3 367.8L511.8 371.8L513.3 375.2L511.0 375.5L507.4 374.3L504.1 374.3L499.8 375.3M499.5 371.5L502.8 370.9L507.2 371.8L507.2 372.7L502.8 372.4L499.8 373.0M507.4 374.3L507.4 377.3L504.9 377.9L504.1 379.6M508.5 385.6L510.5 382.8L513.9 382.5L515.4 385.3L516.2 387.1L515.4 388.7L513.1 392.1M516.2 387.1L518.2 387.4L518.7 390.5L520.8 389.9L521.3 393.9L523.3 395.4L523.3 399.9M520.8 389.9L521.5 387.1L522.8 385.6L522.1 381.9L521.3 379.5L519.5 375.5L516.4 375.8L513.3 375.2M522.1 381.9L526.7 380.7L528.5 381.3L530.5 383.5L535.6 384.1L536.1 388.1L534.4 392.4L535.4 397.6M535.6 384.1L535.4 379.5L542.6 379.2L543.8 382.5L543.8 387.1L544.1 391.7L545.6 394.5M542.6 379.2L544.9 379.5L546.1 384.1L546.7 394.2M544.9 379.5L547.7 378.2L548.7 376.7L551.8 377.3L552.3 381.0L549.7 385.6L549.5 390.2L549.5 393.6M528.5 381.3L529.0 377.0L531.3 374.9L532.3 372.1L534.9 371.2L537.4 369.7L540.8 366.9L543.1 367.2L543.6 370.3L545.1 373.3L547.9 374.3L548.7 376.7M543.1 367.2L551.5 366.0L553.3 362.9L553.4 354.5M573.3 341.1L572.0 338.7L568.9 338.1L566.9 332.5L567.9 328.9L567.7 326.4L567.9 324.2L566.9 320.6L568.9 318.4L568.9 316.0L572.0 313.8L572.0 311.5M566.9 320.6L565.9 314.7L561.8 309.5L563.8 306.8L563.6 301.2L564.6 300.0M573.3 341.1L578.9 343.9L581.0 342.7L604.1 353.4L604.1 351.9L606.6 351.9L606.6 345.7L606.6 323.6L605.9 320.9L607.0 316.1M606.6 345.7L637.1 345.7M581.0 342.7L583.3 350.6L582.3 361.4L577.4 371.2M551.8 377.3L552.5 373.9L553.1 371.8L556.6 370.6L560.0 373.0L563.1 372.4L565.6 373.9L569.5 372.4L574.6 373.0L577.4 371.2L578.7 373.0M578.7 373.0L578.9 375.2L580.0 377.9L577.9 379.5L576.4 383.8L575.4 386.2L573.8 387.4L572.8 391.7L571.0 393.3L569.5 391.7L567.7 392.4L566.4 394.2L565.1 395.4L564.6 398.5M578.7 373.0L579.7 373.9L581.2 376.1L581.0 379.8L582.3 382.5L578.9 382.5L578.2 383.8L581.5 388.7L582.3 390.2L579.5 394.8L580.0 397.9L581.0 400.9L584.1 406.5L583.6 408.0L579.7 406.5L576.6 406.5L571.5 406.5L567.7 406.2M571.5 406.5L571.5 410.2L567.7 410.2M576.6 406.5L576.4 409.2L579.5 409.2L579.7 410.5L578.2 413.2L579.7 414.8L579.5 418.7L579.5 420.3L575.9 420.6L574.6 419.4L572.5 420.6L572.3 422.4L573.0 424.3L571.0 425.2M573.3 428.6L574.8 426.7L576.1 427.3L574.6 429.2L574.6 430.7L573.8 430.9M576.1 427.3L578.4 426.7L579.5 428.3L581.5 426.4L583.6 422.4L584.1 419.4L586.1 416.3L588.2 414.8L588.2 411.7L588.9 407.1L590.2 402.5M584.1 406.5L585.1 402.5L590.2 402.5L590.2 399.7L592.5 397.6L595.1 399.4L600.0 400.6L601.2 398.5L605.1 397.6L607.4 397.9L612.8 397.6M582.3 390.2L584.8 389.6L587.9 389.0L590.2 388.7L591.2 385.6L594.8 385.3L598.2 380.7L601.2 379.5L600.2 374.6L598.7 374.3L599.7 372.1L599.2 370.3L600.2 369.7L601.2 365.4L604.1 365.1L604.1 353.4M601.2 379.5L603.3 385.6L605.3 387.1L607.4 390.2L610.2 393.3L612.8 397.6L615.3 400.0L618.2 399.4L621.5 402.5L624.3 402.2L627.1 401.3L629.7 400.3L634.6 399.1M634.6 399.1L633.0 396.7L631.5 392.7L627.1 388.7L629.9 387.1L630.5 381.0L632.2 379.5L635.1 374.3L636.1 369.3L636.1 367.2L637.4 361.1L641.5 358.0M636.1 369.3L639.7 367.5L642.5 368.4L645.1 368.7L647.6 371.8L651.2 374.9L653.0 374.3M651.2 374.9L649.7 379.5L652.5 379.8L653.4 377.9M652.5 379.8L652.0 380.7L655.3 385.6L663.0 388.7L665.6 388.7L657.9 397.9L652.7 399.1L649.9 401.1L647.1 400.3L643.8 402.8L639.9 402.2L637.1 399.7L634.8 399.7L634.6 399.1M649.9 401.1L647.6 404.6L647.6 415.7L649.2 418.4M629.7 400.3L630.7 401.9L632.2 407.4L631.0 409.8L629.7 412.6L629.4 416.3L638.9 422.4L639.4 424.6L643.0 427.6M629.4 416.3L620.7 416.3L618.4 417.5L618.4 414.8L619.2 411.7L620.7 409.5L622.8 406.5L621.5 402.5M620.7 416.3L621.5 420.6L619.4 420.6L616.9 421.5L617.4 418.4L618.4 417.5M621.5 420.6L621.5 423.3L619.4 426.4L617.9 426.9L617.4 423.3L616.9 421.5M617.9 426.9L618.4 431.6L620.7 436.2L621.5 438.4L624.6 440.8L626.9 442.1L629.4 442.4L631.0 448.5L634.3 448.5L638.7 449.1L641.2 447.9L646.1 445.4M631.2 448.8L630.7 450.6L632.0 454.6L634.6 458.3L634.3 462.3L633.0 465.7L630.7 463.2L630.7 457.7L627.9 456.2L626.4 454.9L627.1 450.0L627.9 446.4L626.9 442.1M627.9 456.2L623.3 458.0L619.9 458.6L620.5 461.1M621.5 438.4L616.6 439.3L615.3 441.8L616.1 446.0L615.3 449.7L616.9 451.3L618.9 450.6L618.9 454.3L615.3 451.6L612.3 448.8L609.2 449.7L607.4 447.6L605.1 448.2L604.1 446.7M604.1 446.7L604.1 453.1L598.9 453.1L598.9 462.9L602.5 467.2M574.1 431.9L576.4 431.3L585.1 431.3L586.1 434.7L587.7 438.1L592.3 437.8L592.3 434.7L595.3 434.7L598.4 435.6L598.7 442.4L599.7 447.6L603.8 446.7M572.7 466.1L575.9 465.4L578.4 466.6L590.0 466.6L597.4 468.4L602.5 467.2L607.4 467.8M607.4 467.8L605.3 468.4L602.3 468.4L596.4 469.4L596.4 480.7L593.8 480.7L593.8 489.3L593.8 500.4L591.2 501.9L587.4 501.3L584.8 501.0M593.8 489.3L595.6 495.4L598.2 495.4L601.5 490.8L608.2 491.8L611.5 486.9L614.1 483.8L617.9 481.3L614.3 479.2L613.5 476.1L609.7 473.0L607.4 467.8M607.4 467.8L611.7 468.1L616.4 463.8L620.5 461.1L622.8 462.3L626.9 464.5L627.1 468.4L626.4 471.5L627.1 474.0L625.8 478.6L622.8 481.9L617.9 481.3M622.8 481.9L624.6 488.4L624.4 492.8L624.8 495.4L626.9 495.6M624.4 492.8L623.0 492.1L621.7 493.0L621.5 495.4L622.8 497.0L624.8 495.4M611.7 504.0L613.0 506.2L614.8 507.1L617.1 505.0L617.9 503.4L616.6 501.6L614.8 501.0L613.0 502.2L611.7 504.0M630.2 317.2L632.0 322.7M632.2 322.7L633.5 316.6L633.8 312.9L636.9 314.1L642.0 310.7L647.6 307.7L648.4 301.2L651.2 299.4L657.4 299.1L658.9 302.8L660.4 305.2L658.9 308.9L660.4 312.0L665.0 315.0L664.8 318.1L666.8 321.2M632.2 323.0L635.1 323.6L638.7 321.2L639.9 319.6L637.4 316.6L642.5 315.0L643.0 314.4L642.0 310.7M643.0 314.4L646.1 315.4L650.2 317.8L657.1 323.6L661.5 323.9L664.8 325.8L666.6 325.8M662.0 323.9L663.0 321.2L665.3 321.2M634.8 302.8L636.6 300.3L639.9 300.3L645.1 300.3L651.2 299.4M632.5 311.7L634.6 310.7L636.3 308.3L634.8 307.1M657.4 299.1L656.1 295.1L655.3 292.3L657.4 291.4L661.7 293.9L665.6 292.0L666.6 295.1L667.9 295.4M652.2 362.9L653.5 359.5L656.6 359.8L661.7 360.5L664.3 361.1L666.8 357.4L675.8 354.9L678.6 362.1M675.8 354.9L683.5 351.9L685.3 345.7L684.0 343.6L677.3 343.0L674.8 339.0M672.7 337.4L674.0 338.1M523.6 299.1L524.6 296.0L523.8 292.0L524.9 290.5L524.9 285.9" fill="none" stroke="#000" stroke-width="1.15" stroke-linejoin="round"/>
<path d="M601.5 301.9L603.0 304.0L605.3 305.1L607.9 305.4L610.0 305.1L612.0 304.0L614.3 302.2" fill="none" stroke="#000" stroke-width="2.0" stroke-linecap="round" stroke-linejoin="round"/>
<path d="M604.8 300.5L607.6 301.4L610.2 300.9L611.7 299.9" fill="none" stroke="#000" stroke-width="1.7" stroke-linecap="round" stroke-linejoin="round"/>
<path d="M602.5 293.6L604.3 295.1L605.6 296.6" fill="none" stroke="#000" stroke-width="2.2" stroke-linecap="round" stroke-linejoin="round"/>
<path d="M606.1 296.9L607.4 298.5L607.9 299.7" fill="none" stroke="#000" stroke-width="2.0" stroke-linecap="round" stroke-linejoin="round"/>
<path d="M604.1 297.6L605.1 298.8" fill="none" stroke="#000" stroke-width="1.8" stroke-linecap="round" stroke-linejoin="round"/>
<path d="M608.9 294.8L609.4 296.0" fill="none" stroke="#000" stroke-width="1.8" stroke-linecap="round" stroke-linejoin="round"/>
<path d="M610.7 297.2L611.7 297.6" fill="none" stroke="#000" stroke-width="1.8" stroke-linecap="round" stroke-linejoin="round"/>
<path d="M606.6 290.8L607.6 290.8" fill="none" stroke="#000" stroke-width="1.8" stroke-linecap="round" stroke-linejoin="round"/>
<path d="M605.3 290.5L605.9 288.7" fill="none" stroke="#000" stroke-width="1.6" stroke-linecap="round" stroke-linejoin="round"/>
<path d="M601.0 298.2L602.0 297.9L602.8 296.9" fill="none" stroke="#000" stroke-width="1.8" stroke-linecap="round" stroke-linejoin="round"/>
<path d="M598.9 295.7L601.2 296.3L602.0 296.6" fill="none" stroke="#000" stroke-width="1.6" stroke-linecap="round" stroke-linejoin="round"/>
<path d="M497.2 311.4h4.0v1.8h-4.0zM498.9 325.6h2.2v1.5h-2.2zM501.7 326.6h1.8v1.5h-1.8zM505.8 324.3h1.3v3.0h-1.3zM507.1 323.1h1.3v1.6h-1.3zM495.9 324.4h1.5v1.5h-1.5zM498.0 326.5h1.0v1.0h-1.0zM558.7 411.5h1.6v1.6h-1.6zM560.9 407.7h1.3v1.3h-1.3zM563.8 401.3h2.0v2.4h-2.0zM556.3 416.9h1.2v1.2h-1.2zM527.2 461.4h1.5v1.3h-1.5zM504.9 436.8h1.5v1.3h-1.5zM652.7 448.2h1.6v1.8h-1.6zM655.6 450.0h1.5v1.2h-1.5zM657.4 451.7h1.5v1.5h-1.5zM643.7 428.2h1.2v2.0h-1.2zM642.7 430.8h1.2v2.2h-1.2zM643.7 436.8h1.2v1.4h-1.2zM678.2 374.1h4.5v1.6h-4.5zM660.3 441.5h1.2v1.2h-1.2zM613.3 301.4h2.0v1.6h-2.0zM611.3 299.4h1.5v1.3h-1.5zM610.6 296.9h1.8v1.3h-1.8zM608.4 294.4h1.6v2.0h-1.6zM608.8 292.2h2.4v1.6h-2.4zM602.9 293.2h1.8v3.2h-1.8zM605.9 298.7h2.4v2.0h-2.4zM604.8 296.2h1.5v1.5h-1.5zM600.8 301.5h1.3v1.3h-1.3zM606.7 300.9h1.3v1.2h-1.3zM605.6 290.2h1.5v1.3h-1.5zM592.6 290.7h1.4v2.0h-1.4zM594.6 295.1h1.5v1.8h-1.5zM595.3 296.6h1.2v1.2h-1.2zM552.2 290.1h1.8v1.2h-1.8zM578.7 302.4h1.5v1.3h-1.5zM569.7 308.8h1.6v1.4h-1.6zM572.7 299.8h1.2v1.0h-1.2zM574.3 303.8h1.0v1.0h-1.0zM658.4 296.1h1.6v3.0h-1.6zM651.4 294.0h2.6v1.6h-2.6zM619.9 322.2h2.2v1.3h-2.2zM625.8 340.2h1.2v3.0h-1.2zM626.3 343.7h1.2v1.6h-1.2zM652.5 308.8h1.6v3.2h-1.6zM653.1 312.1h1.3v1.6h-1.3zM633.1 315.9h0.9v2.0h-0.9zM637.1 375.3h2.0v2.2h-2.0zM577.3 371.8h2.2v1.8h-2.2zM527.0 387.7h2.4v4.4h-2.4zM540.9 387.6h1.8v4.6h-1.8zM542.1 392.0h1.5v2.0h-1.5zM553.7 380.4h1.2v2.4h-1.2zM634.4 400.0h1.3v4.4h-1.3zM621.2 406.6h1.6v2.8h-1.6zM617.7 413.5h1.4v1.8h-1.4zM616.7 418.3h1.3v2.2h-1.3zM615.2 439.7h1.8v2.2h-1.8zM618.0 446.8h1.8v1.5h-1.8zM624.3 437.1h2.0v1.3h-2.0zM612.6 464.8h3.0v1.2h-3.0zM621.8 460.8h3.0v1.1h-3.0zM613.8 495.1h2.0v1.3h-2.0zM607.5 497.6h1.8v1.2h-1.8zM607.2 506.5h2.0v1.2h-2.0zM605.3 504.7h1.6v1.2h-1.6zM626.4 418.7h1.5v1.3h-1.5zM624.7 414.4h1.3v1.3h-1.3zM626.6 408.0h2.0v1.3h-2.0zM633.7 423.5h1.2v1.6h-1.2zM619.4 433.9h1.0v1.0h-1.0zM586.3 415.1h1.2v1.2h-1.2zM588.7 418.4h1.6v1.3h-1.6zM601.3 408.7h2.0v1.0h-2.0zM595.4 408.4h2.0v1.0h-2.0zM590.4 408.1h1.6v1.0h-1.6zM611.6 439.3h1.3v1.3h-1.3z" fill="#000"/>
</g>
<rect x="491.3" y="290.5" width="192.2" height="230.1" fill="none" stroke="#1a1a1a" stroke-width="1.15"/>
<path d="M491.3 290.5h-2.8" stroke="#000" stroke-width="1.2"/>
<text class="ax" x="474.8" y="293.5" textLength="11.9" lengthAdjust="spacingAndGlyphs">40N</text>
<path d="M491.3 321.2h-2.8" stroke="#000" stroke-width="1.2"/>
<text class="ax" x="474.8" y="324.2" textLength="11.9" lengthAdjust="spacingAndGlyphs">30N</text>
<path d="M491.3 351.9h-2.8" stroke="#000" stroke-width="1.2"/>
<text class="ax" x="474.8" y="354.9" textLength="11.9" lengthAdjust="spacingAndGlyphs">20N</text>
<path d="M491.3 382.5h-2.8" stroke="#000" stroke-width="1.2"/>
<text class="ax" x="474.8" y="385.5" textLength="11.9" lengthAdjust="spacingAndGlyphs">10N</text>
<path d="M491.3 413.2h-2.8" stroke="#000" stroke-width="1.2"/>
<text class="ax" x="478.8" y="416.2" textLength="7.9" lengthAdjust="spacingAndGlyphs">EQ</text>
<path d="M491.3 443.9h-2.8" stroke="#000" stroke-width="1.2"/>
<text class="ax" x="474.8" y="446.9" textLength="11.9" lengthAdjust="spacingAndGlyphs">10S</text>
<path d="M491.3 474.6h-2.8" stroke="#000" stroke-width="1.2"/>
<text class="ax" x="474.8" y="477.6" textLength="11.9" lengthAdjust="spacingAndGlyphs">20S</text>
<path d="M491.3 505.3h-2.8" stroke="#000" stroke-width="1.2"/>
<text class="ax" x="474.8" y="508.3" textLength="11.9" lengthAdjust="spacingAndGlyphs">30S</text>
<path d="M491.3 520.6v2.6" stroke="#000" stroke-width="1.2"/>
<text class="ax" x="485.4" y="529.9" textLength="11.9" lengthAdjust="spacingAndGlyphs">20W</text>
<path d="M542.6 520.6v2.6" stroke="#000" stroke-width="1.2"/>
<text class="ax" x="540.8" y="529.9" textLength="3.6" lengthAdjust="spacingAndGlyphs">0</text>
<path d="M593.8 520.6v2.6" stroke="#000" stroke-width="1.2"/>
<text class="ax" x="587.9" y="529.9" textLength="11.9" lengthAdjust="spacingAndGlyphs">20E</text>
<path d="M645.1 520.6v2.6" stroke="#000" stroke-width="1.2"/>
<text class="ax" x="639.1" y="529.9" textLength="11.9" lengthAdjust="spacingAndGlyphs">40E</text>
<text class="ti" x="522.9" y="284.8" textLength="142.9" lengthAdjust="spacingAndGlyphs">IPCC AR4 Multimodel Mean</text>
<text class="lab" x="489.1" y="284.0">(f)</text>
<rect x="176.10" y="538.0" width="32.58" height="9.2" fill="#ffff00" stroke="#111" stroke-width="1.2"/>
<rect x="208.68" y="538.0" width="32.58" height="9.2" fill="#c8ff00" stroke="#111" stroke-width="1.2"/>
<rect x="241.26" y="538.0" width="32.58" height="9.2" fill="#addce6" stroke="#111" stroke-width="1.2"/>
<rect x="273.84" y="538.0" width="32.58" height="9.2" fill="#80d0e8" stroke="#111" stroke-width="1.2"/>
<rect x="306.42" y="538.0" width="32.58" height="9.2" fill="#00ffff" stroke="#111" stroke-width="1.2"/>
<rect x="339.00" y="538.0" width="32.58" height="9.2" fill="#5a8fe0" stroke="#111" stroke-width="1.2"/>
<rect x="371.58" y="538.0" width="32.58" height="9.2" fill="#0a6aa5" stroke="#111" stroke-width="1.2"/>
<rect x="404.16" y="538.0" width="32.58" height="9.2" fill="#123f90" stroke="#111" stroke-width="1.2"/>
<rect x="436.74" y="538.0" width="32.58" height="9.2" fill="#5a20d0" stroke="#111" stroke-width="1.2"/>
<rect x="469.32" y="538.0" width="32.58" height="9.2" fill="#6000ff" stroke="#111" stroke-width="1.2"/>
<rect x="501.90" y="538.0" width="32.58" height="9.2" fill="#4b00a8" stroke="#111" stroke-width="1.2"/>
<path d="M176.1 538.0L143.7 542.6L176.1 547.2Z" fill="#fff" stroke="#111" stroke-width="1.2"/>
<path d="M534.5 538.0L567.2 542.6L534.5 547.2Z" fill="#1a1a5e" stroke="#111" stroke-width="1.2"/>
<text class="cb" transform="translate(176.1 556.7) scale(0.82 1)" text-anchor="middle">1</text>
<text class="cb" transform="translate(208.7 556.7) scale(0.82 1)" text-anchor="middle">2</text>
<text class="cb" transform="translate(241.3 556.7) scale(0.82 1)" text-anchor="middle">3</text>
<text class="cb" transform="translate(273.8 556.7) scale(0.82 1)" text-anchor="middle">4</text>
<text class="cb" transform="translate(306.4 556.7) scale(0.82 1)" text-anchor="middle">5</text>
<text class="cb" transform="translate(339.0 556.7) scale(0.82 1)" text-anchor="middle">6</text>
<text class="cb" transform="translate(371.6 556.7) scale(0.82 1)" text-anchor="middle">7</text>
<text class="cb" transform="translate(404.2 556.7) scale(0.82 1)" text-anchor="middle">8</text>
<text class="cb" transform="translate(436.7 556.7) scale(0.82 1)" text-anchor="middle">9</text>
<text class="cb" transform="translate(469.3 556.7) scale(0.82 1)" text-anchor="middle">10</text>
<text class="cb" transform="translate(501.9 556.7) scale(0.82 1)" text-anchor="middle">11</text>
<text class="cb" transform="translate(534.5 556.7) scale(0.82 1)" text-anchor="middle">12</text>
</svg></body></html>
